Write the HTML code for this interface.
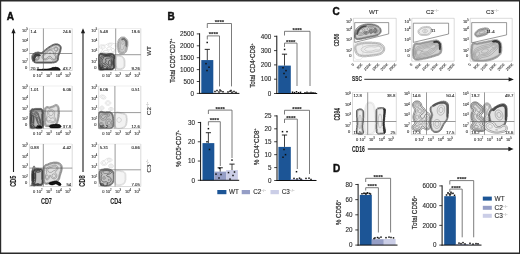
<!DOCTYPE html>
<html><head><meta charset="utf-8"><style>
html,body{margin:0;padding:0;background:#fff;overflow:hidden;}
svg{display:block;font-family:"Liberation Sans", sans-serif;}
text{stroke:#333;stroke-width:0.12;}
</style></head><body>
<svg width="520" height="254" viewBox="0 0 520 254">
<defs><filter id="bl" x="0" y="0" width="520" height="254" filterUnits="userSpaceOnUse"><feGaussianBlur stdDeviation="0.3"/></filter></defs>
<g filter="url(#bl)">
<rect x="0" y="0" width="520" height="254" fill="#fff" stroke="none" stroke-width="1" />
<path d="M52.4,63.0 L51.9,63.1 L36.4,63.1 L35.6,62.9 L35.1,62.9 L33.6,62.1 L33.0,61.5 L32.5,60.5 L31.9,58.5 L31.9,56.2 L32.2,55.2 L32.5,54.8 L33.0,54.2 L33.4,53.6 L34.4,53.0 L35.6,52.4 L36.6,52.3 L37.4,52.1 L38.9,52.1 L39.6,52.4 L40.1,52.4 L40.6,52.6 L41.6,52.6 L42.9,51.8 L44.1,50.5 L44.6,50.2 L45.5,49.2 L47.1,48.2 L47.9,47.5 L50.4,45.9 L51.1,45.6 L51.6,45.2 L53.1,44.5 L54.9,43.9 L57.6,43.9 L60.1,45.2 L60.6,45.8 L61.1,46.8 L61.2,47.2 L61.2,48.8 L61.0,49.5 L60.9,50.2 L60.7,50.8 L60.7,51.2 L59.8,53.5 L59.0,55.2 L58.6,56.8 L58.6,57.5 L58.4,58.0 L58.3,59.8 L57.5,61.2 L56.4,62.1 L55.6,62.4 L54.9,62.7 L54.4,62.7 L53.9,62.9 L52.6,62.9 L52.4,63.0Z" fill="#dadada" stroke="#111" stroke-width="0.6"/>
<path d="M52.1,62.3 L51.9,62.4 L36.4,62.4 L35.9,62.2 L35.4,62.2 L34.1,61.6 L33.5,61.0 L32.9,59.5 L32.9,59.0 L32.7,58.5 L32.7,56.2 L32.9,55.8 L33.0,55.2 L33.5,54.8 L33.9,54.2 L34.2,54.0 L34.6,53.6 L35.9,53.1 L36.9,53.1 L37.4,52.8 L38.9,52.8 L39.4,53.1 L39.9,53.1 L40.4,53.3 L41.9,53.3 L43.4,52.4 L44.6,51.1 L45.1,50.8 L46.1,49.8 L46.4,49.7 L47.1,49.1 L47.6,48.8 L48.4,48.1 L48.6,48.0 L50.6,46.7 L51.5,46.2 L51.9,45.9 L53.4,45.2 L53.9,45.1 L54.4,44.9 L54.6,44.8 L55.1,44.6 L57.4,44.6 L59.6,45.7 L59.9,46.0 L60.5,47.2 L60.5,48.8 L60.3,49.2 L60.2,50.0 L60.0,50.5 L60.0,51.0 L59.7,51.5 L59.6,52.0 L59.2,52.8 L59.1,53.2 L58.3,55.0 L58.0,56.2 L57.8,56.5 L57.8,57.2 L57.6,57.8 L57.6,59.5 L57.0,60.8 L56.1,61.4 L54.6,61.9 L54.1,61.9 L53.6,62.2 L52.4,62.2 L52.1,62.3Z" fill="none" stroke="#111" stroke-width="0.6"/>
<path d="M51.6,61.8 L36.6,61.8 L36.1,61.6 L35.6,61.6 L34.4,60.9 L33.8,60.0 L33.7,59.8 L33.5,59.2 L33.5,58.8 L33.2,58.2 L33.2,56.5 L33.6,55.6 L34.4,54.6 L35.1,54.1 L36.1,53.6 L37.1,53.7 L37.6,53.4 L38.6,53.5 L38.9,53.6 L39.6,53.7 L40.1,54.0 L42.1,53.9 L42.4,53.8 L43.6,53.0 L44.9,51.8 L45.3,51.5 L46.4,50.4 L46.7,50.2 L47.4,49.7 L47.7,49.5 L48.6,48.7 L50.6,47.6 L51.0,47.2 L51.9,46.9 L52.3,46.5 L53.9,45.7 L54.4,45.6 L54.6,45.5 L55.1,45.4 L55.4,45.2 L57.1,45.2 L59.1,46.2 L59.4,46.5 L59.9,47.5 L59.9,48.5 L59.6,49.0 L59.6,49.8 L59.4,50.2 L59.4,50.8 L59.2,51.0 L59.1,51.5 L58.7,52.2 L58.6,52.8 L57.7,54.5 L57.7,55.0 L57.5,55.5 L57.5,55.8 L57.3,56.2 L57.3,57.0 L57.1,57.5 L57.0,59.2 L56.4,60.4 L55.1,61.1 L54.9,61.1 L54.4,61.4 L53.9,61.4 L53.4,61.6 L52.1,61.6 L51.6,61.8Z" fill="none" stroke="#555" stroke-width="0.45"/>
<path d="M54.4,60.0 L53.1,60.1 L52.4,59.9 L51.6,59.4 L50.4,58.3 L49.6,58.0 L48.9,58.2 L47.1,59.4 L46.3,59.8 L45.1,59.9 L44.1,59.8 L43.1,59.3 L42.4,58.5 L42.0,57.5 L42.0,56.5 L42.3,55.8 L42.7,55.2 L44.8,53.5 L46.1,52.3 L46.9,51.4 L48.0,50.5 L49.1,49.7 L50.1,49.3 L51.1,49.0 L52.4,48.9 L52.9,48.7 L54.2,47.5 L55.1,47.0 L55.9,46.8 L56.4,46.9 L57.1,47.1 L57.8,47.8 L58.0,48.2 L58.1,49.2 L57.8,50.2 L57.4,50.9 L56.6,51.4 L55.5,52.0 L55.1,52.5 L55.1,53.0 L55.1,53.5 L56.0,55.2 L56.3,56.8 L56.1,58.4 L55.9,59.0 L55.6,59.5 L55.2,59.8 L54.4,60.0Z" fill="none" stroke="#555" stroke-width="0.45"/>
<path d="M37.4,60.3 L36.9,60.4 L36.1,60.3 L35.6,60.2 L35.1,59.9 L34.5,59.0 L34.2,58.0 L34.2,56.8 L34.5,56.0 L35.4,55.1 L36.4,54.7 L37.4,54.8 L38.1,55.1 L38.6,55.5 L38.9,56.0 L39.3,57.0 L39.3,58.0 L39.0,59.0 L38.4,59.8 L37.9,60.1 L37.4,60.3Z" fill="none" stroke="#555" stroke-width="0.45"/>
<path d="M56.4,50.5 L55.9,50.7 L55.1,50.6 L54.6,50.4 L54.3,50.0 L54.2,49.5 L54.3,48.8 L54.9,48.0 L55.4,47.7 L56.1,47.6 L56.6,47.7 L57.0,48.0 L57.3,48.5 L57.4,49.2 L57.2,49.8 L56.9,50.2 L56.4,50.5Z" fill="none" stroke="#555" stroke-width="0.45"/>
<path d="M54.1,59.3 L53.4,59.2 L52.6,58.8 L52.0,58.2 L51.0,56.8 L50.6,56.5 L49.9,56.3 L49.1,56.4 L48.4,56.7 L46.9,58.2 L46.1,58.7 L45.4,58.9 L44.6,58.9 L43.9,58.5 L43.4,58.0 L43.1,57.2 L43.1,56.5 L43.4,55.8 L43.9,55.3 L46.1,53.6 L47.4,52.0 L48.4,51.1 L49.1,50.6 L49.9,50.3 L50.6,50.2 L51.4,50.3 L52.4,50.7 L52.9,51.2 L53.2,52.0 L53.6,54.0 L53.9,54.5 L55.1,55.7 L55.5,56.5 L55.6,57.8 L55.4,58.5 L54.9,59.0 L54.1,59.3Z" fill="none" stroke="#555" stroke-width="0.45"/>
<path d="M37.4,59.6 L36.9,59.7 L36.4,59.7 L35.6,59.5 L34.9,58.8 L34.6,58.0 L34.6,57.0 L34.9,56.2 L35.4,55.8 L36.1,55.4 L36.9,55.3 L37.6,55.6 L38.1,56.1 L38.4,56.8 L38.5,57.5 L38.4,58.5 L37.9,59.2 L37.4,59.6Z" fill="none" stroke="#555" stroke-width="0.45"/>
<path d="M50.1,53.6 L49.6,53.5 L49.5,53.2 L49.6,52.9 L49.9,52.7 L50.1,52.7 L50.4,52.8 L50.5,53.0 L50.5,53.2 L50.4,53.4 L50.1,53.6Z" fill="none" stroke="#555" stroke-width="0.45"/>
<path d="M36.6,58.8 L36.1,58.7 L35.9,58.5 L35.6,58.2 L35.4,57.8 L35.4,57.2 L35.6,56.8 L35.9,56.5 L36.4,56.2 L36.9,56.3 L37.1,56.4 L37.4,56.8 L37.6,57.2 L37.6,57.8 L37.4,58.2 L37.1,58.6 L36.6,58.8Z" fill="none" stroke="#555" stroke-width="0.45"/>
<path d="M34.6,61.2 L34.1,61.2 L33.4,60.5 L33.4,59.2 L33.2,59.0 L33.2,57.5 L33.4,57.2 L33.4,56.5 L33.7,56.2 L33.7,55.8 L34.2,55.2 L34.2,55.0 L35.1,54.1 L35.4,54.1 L35.6,53.8 L36.6,53.8 L36.9,53.6 L37.6,53.6 L37.9,53.8 L38.6,53.8 L38.9,54.1 L39.1,54.1 L39.6,54.6 L39.9,54.6 L40.5,55.2 L40.5,55.5 L40.4,55.7 L40.1,55.7 L39.9,55.9 L39.1,55.9 L38.9,56.2 L38.6,56.2 L38.4,55.9 L36.6,55.9 L35.8,56.8 L35.8,57.0 L35.5,57.2 L35.5,57.5 L35.3,57.8 L35.3,58.0 L35.0,58.2 L35.0,60.8 L34.6,61.2Z" fill="#444" stroke="#222" stroke-width="0.45"/>
<path d="M60.1,70.3 L59.9,70.3 L59.1,70.3 L37.6,70.3 L37.4,70.3 L37.0,70.2 L37.0,70.0 L37.1,69.8 L37.9,69.4 L41.9,69.4 L42.4,69.1 L47.1,69.1 L47.6,68.9 L49.1,68.9 L49.6,68.6 L50.1,68.6 L51.6,67.9 L51.9,67.9 L52.4,67.6 L52.9,67.6 L53.4,67.4 L54.6,67.4 L55.1,67.1 L55.4,67.1 L55.9,67.4 L57.1,67.4 L57.6,67.6 L57.9,67.6 L59.1,68.2 L59.9,69.0 L60.1,69.5 L60.2,69.8 L60.2,70.2 L60.1,70.3Z" fill="#222" stroke="#111" stroke-width="0.5"/>
<path d="M59.9,70.3 L38.1,70.3 L37.4,70.3 L37.2,70.2 L37.2,70.0 L37.4,69.9 L37.6,69.9 L37.9,69.6 L42.1,69.6 L42.4,69.4 L47.4,69.4 L47.6,69.1 L49.4,69.1 L49.6,68.9 L50.4,68.9 L50.6,68.6 L50.9,68.6 L51.1,68.4 L51.4,68.4 L51.6,68.1 L52.1,68.1 L52.4,67.9 L53.1,67.9 L53.4,67.6 L54.9,67.6 L55.1,67.4 L55.4,67.4 L55.6,67.6 L57.1,67.6 L57.4,67.9 L57.9,67.9 L58.1,68.1 L58.4,68.1 L58.6,68.4 L58.9,68.4 L59.7,69.2 L59.7,69.5 L60.0,69.8 L60.0,70.2 L59.9,70.3Z" fill="none" stroke="#111" stroke-width="0.5"/>
<path d="M59.6,70.3 L37.5,70.2 L38.1,69.9 L42.1,69.9 L42.6,69.6 L47.4,69.6 L47.9,69.4 L49.4,69.4 L49.9,69.1 L50.4,69.1 L51.9,68.4 L52.1,68.4 L52.6,68.1 L53.1,68.1 L53.6,67.9 L54.9,67.9 L55.1,67.7 L55.4,67.7 L55.6,67.9 L56.9,67.9 L57.4,68.1 L57.6,68.1 L58.9,68.7 L59.4,69.2 L59.6,69.8 L59.7,70.2 L59.6,70.3Z" fill="none" stroke="#111" stroke-width="0.5"/>
<path d="M42.1,128.5 L40.6,128.6 L35.4,128.5 L34.4,128.6 L31.9,128.6 L30.6,128.5 L30.4,128.2 L30.0,127.5 L30.0,127.0 L29.8,126.5 L29.7,125.0 L29.6,124.7 L29.6,124.2 L29.6,116.8 L29.6,116.3 L29.7,116.0 L29.7,113.2 L30.0,112.5 L30.0,111.5 L30.4,110.5 L30.8,109.8 L31.1,109.4 L31.9,108.8 L32.6,108.6 L33.6,108.8 L35.4,108.4 L40.9,108.4 L41.9,108.8 L42.8,109.8 L43.2,110.5 L43.2,111.5 L43.5,112.2 L43.5,113.8 L43.2,114.5 L43.2,120.2 L43.5,121.0 L43.5,126.0 L43.2,127.2 L42.1,128.5Z" fill="#b8b8b8" stroke="#2a2a2a" stroke-width="0.5"/>
<path d="M34.1,128.5 L32.6,128.6 L31.4,128.5 L30.9,128.0 L30.7,127.5 L30.6,126.8 L30.3,126.2 L30.3,124.8 L30.1,124.2 L30.1,116.8 L30.3,116.2 L30.3,113.2 L30.6,112.8 L30.6,111.8 L30.8,111.2 L30.9,110.8 L31.1,110.2 L31.6,109.8 L32.4,109.4 L33.9,109.4 L34.4,109.2 L34.9,109.2 L35.4,109.0 L40.9,109.0 L41.1,109.1 L41.6,109.3 L42.3,110.0 L42.6,110.8 L42.6,111.8 L42.8,112.2 L42.8,113.8 L42.6,114.2 L42.6,120.5 L42.8,121.0 L42.9,126.0 L42.7,126.5 L42.6,127.0 L41.6,128.0 L40.6,128.3 L38.6,128.3 L38.1,128.0 L35.1,128.0 L34.1,128.5Z" fill="none" stroke="#2a2a2a" stroke-width="0.5"/>
<path d="M33.4,128.4 L31.9,128.4 L31.2,127.8 L31.2,127.5 L31.0,127.2 L31.0,126.5 L30.7,126.2 L30.7,124.5 L30.5,124.2 L30.5,116.8 L30.7,116.5 L30.7,113.2 L31.0,113.0 L31.0,111.8 L31.2,111.5 L31.2,111.0 L31.4,110.8 L31.4,110.5 L31.9,110.1 L32.1,110.1 L32.4,109.8 L34.1,109.9 L34.4,109.6 L35.1,109.6 L35.4,109.4 L40.9,109.4 L41.1,109.6 L41.4,109.6 L42.0,110.2 L42.0,110.5 L42.2,110.8 L42.2,112.0 L42.5,112.2 L42.5,113.8 L42.2,114.0 L42.2,119.8 L42.2,120.8 L42.5,121.0 L42.5,126.0 L42.3,126.2 L42.3,126.8 L41.4,127.7 L40.9,127.7 L40.6,127.9 L38.6,127.9 L38.4,127.6 L34.9,127.6 L34.6,127.9 L34.4,127.9 L34.1,128.1 L33.6,128.1 L33.4,128.4Z" fill="none" stroke="#2a2a2a" stroke-width="0.5"/>
<path d="M33.1,128.0 L32.1,128.0 L31.6,127.5 L31.4,127.0 L31.3,126.2 L31.2,126.0 L31.1,124.5 L30.9,124.0 L30.9,117.0 L31.1,116.5 L31.1,113.5 L31.3,113.0 L31.4,112.0 L31.5,111.8 L31.6,111.2 L32.1,110.5 L32.6,110.2 L34.1,110.3 L34.6,110.1 L35.1,110.1 L35.6,109.9 L35.9,109.9 L40.6,109.9 L41.4,110.4 L41.7,111.0 L41.7,112.0 L42.0,112.8 L41.9,113.5 L41.7,114.0 L41.8,120.8 L42.0,121.5 L42.1,125.0 L42.1,125.8 L41.9,126.0 L41.9,126.5 L41.2,127.2 L40.6,127.3 L40.4,127.5 L38.9,127.4 L38.4,127.1 L34.9,127.1 L34.6,127.2 L33.9,127.7 L33.4,127.8 L33.1,128.0Z" fill="none" stroke="#2a2a2a" stroke-width="0.5"/>
<path d="M32.9,126.7 L32.6,126.7 L32.1,125.8 L31.7,123.8 L31.5,121.5 L31.5,119.0 L31.5,117.2 L31.8,113.8 L32.2,112.2 L32.6,111.5 L32.9,111.4 L33.1,111.5 L33.9,112.2 L34.1,112.3 L35.6,111.8 L36.6,111.9 L37.6,112.4 L38.2,113.0 L38.5,113.8 L38.9,115.8 L40.0,118.5 L40.5,120.0 L41.0,122.0 L41.2,124.2 L41.0,125.5 L40.9,125.9 L40.6,126.1 L39.9,126.1 L39.4,125.8 L39.0,125.2 L38.0,123.8 L37.0,121.5 L35.4,116.8 L34.9,116.1 L34.6,115.9 L34.4,116.0 L34.1,116.9 L34.0,121.2 L33.8,124.2 L33.4,126.0 L32.9,126.7Z" fill="none" stroke="#2a2a2a" stroke-width="0.5"/>
<path d="M40.4,124.5 L40.1,124.7 L39.6,124.6 L39.1,124.1 L38.4,123.0 L37.7,121.8 L37.0,120.0 L36.1,116.5 L35.8,116.0 L34.5,114.5 L34.4,114.0 L34.5,113.5 L34.9,113.0 L35.4,112.7 L35.9,112.6 L36.6,112.7 L37.4,113.2 L37.7,113.8 L38.2,116.0 L39.5,118.8 L40.3,121.2 L40.6,123.2 L40.5,124.0 L40.4,124.5Z" fill="none" stroke="#2a2a2a" stroke-width="0.5"/>
<path d="M32.9,124.8 L32.6,124.9 L32.4,124.6 L32.0,123.5 L31.8,121.5 L31.7,119.0 L31.7,117.2 L32.1,114.1 L32.4,113.4 L32.6,113.0 L32.9,112.9 L33.1,113.1 L33.4,113.5 L33.7,114.0 L33.7,114.5 L33.6,115.8 L33.7,119.2 L33.6,121.8 L33.3,123.8 L32.9,124.8Z" fill="none" stroke="#2a2a2a" stroke-width="0.5"/>
<path d="M36.9,115.3 L36.6,115.4 L36.1,115.1 L35.5,114.5 L35.4,114.0 L35.4,113.8 L35.7,113.5 L36.1,113.4 L36.4,113.4 L36.9,113.8 L37.1,114.5 L37.1,115.0 L36.9,115.3Z" fill="none" stroke="#2a2a2a" stroke-width="0.5"/>
<path d="M32.6,122.9 L32.4,122.6 L32.1,121.4 L32.0,119.0 L32.1,116.9 L32.4,115.4 L32.6,114.9 L32.9,115.0 L33.1,115.9 L33.3,119.0 L33.1,121.9 L32.9,122.7 L32.6,122.9Z" fill="none" stroke="#2a2a2a" stroke-width="0.5"/>
<path d="M39.6,122.8 L39.4,122.8 L38.9,122.4 L38.4,121.7 L37.9,120.6 L37.5,119.5 L37.3,118.5 L37.2,117.8 L37.4,117.1 L37.6,117.1 L38.1,117.5 L38.6,118.2 L39.1,119.3 L39.5,120.5 L39.7,121.5 L39.8,122.2 L39.6,122.8Z" fill="none" stroke="#2a2a2a" stroke-width="0.5"/>
<path d="M52.9,126.6 L46.1,126.6 L45.6,126.5 L45.4,126.3 L44.9,125.8 L44.5,124.8 L44.5,123.2 L44.2,122.5 L44.2,118.5 L43.9,117.8 L44.0,113.0 L44.2,112.2 L44.2,109.8 L44.5,109.2 L44.5,108.8 L44.9,107.8 L45.4,107.2 L46.1,106.8 L46.6,106.6 L47.9,106.6 L48.6,106.8 L49.4,106.9 L50.1,106.8 L52.9,105.9 L55.6,104.4 L56.1,104.4 L57.6,105.0 L58.2,105.5 L58.8,106.8 L59.0,107.5 L59.2,108.0 L59.2,110.2 L59.4,110.8 L59.5,112.2 L59.5,114.0 L59.2,114.8 L59.2,116.8 L59.0,117.2 L58.9,118.0 L58.7,118.5 L58.7,119.0 L58.5,119.5 L58.5,120.0 L58.0,121.2 L58.0,121.8 L57.5,123.0 L57.5,123.5 L56.8,124.8 L56.1,125.6 L55.4,126.0 L54.4,126.3 L53.4,126.4 L52.9,126.6Z" fill="#e2e2e2" stroke="#555" stroke-width="0.5"/>
<path d="M52.6,125.8 L46.1,125.8 L45.6,125.3 L45.5,124.8 L45.3,124.5 L45.3,123.0 L45.0,122.5 L45.0,118.2 L44.8,117.8 L44.8,113.0 L45.0,112.5 L45.1,110.0 L45.2,109.8 L45.3,109.0 L45.5,108.8 L45.6,108.2 L46.0,107.8 L46.4,107.7 L46.6,107.5 L47.9,107.4 L48.4,107.7 L48.9,107.7 L49.4,107.9 L49.6,107.9 L50.9,107.4 L51.1,107.4 L51.6,107.2 L52.1,107.1 L52.9,106.7 L53.4,106.6 L54.0,106.2 L54.4,106.2 L54.8,105.8 L55.1,105.7 L55.9,105.2 L56.1,105.4 L56.6,105.5 L56.9,105.7 L57.2,105.8 L57.6,106.2 L57.7,106.5 L58.1,107.2 L58.2,108.0 L58.4,108.2 L58.4,110.5 L58.4,110.8 L58.6,111.0 L58.6,112.2 L58.6,114.0 L58.4,114.2 L58.4,114.5 L58.4,116.5 L58.2,116.8 L58.1,117.8 L57.9,118.2 L57.9,118.8 L57.7,119.2 L57.7,119.8 L57.2,121.0 L57.2,121.5 L56.7,122.8 L56.7,123.2 L56.1,124.4 L55.5,125.0 L55.1,125.1 L54.9,125.3 L54.4,125.4 L54.1,125.5 L52.9,125.6 L52.6,125.8Z" fill="none" stroke="#555" stroke-width="0.5"/>
<path d="M52.4,125.1 L46.6,125.1 L46.4,125.1 L46.3,125.0 L46.2,124.5 L46.0,124.2 L45.9,122.8 L45.7,122.2 L45.5,118.0 L45.3,117.5 L45.4,113.2 L45.6,112.8 L45.7,110.2 L45.9,110.0 L46.0,109.2 L46.1,109.0 L46.2,108.5 L46.9,108.1 L47.6,108.1 L47.9,108.3 L48.6,108.3 L49.1,108.5 L49.9,108.5 L50.4,108.2 L50.9,108.2 L51.1,108.0 L52.4,107.7 L53.1,107.4 L53.6,107.3 L54.6,106.8 L55.1,106.4 L55.6,106.2 L55.9,106.1 L56.4,106.2 L56.9,106.5 L57.4,107.5 L57.5,108.0 L57.7,108.8 L57.7,110.8 L58.0,111.5 L58.0,113.5 L57.7,114.2 L57.7,116.2 L57.5,116.8 L57.5,117.5 L57.3,117.8 L57.3,118.5 L57.1,119.0 L57.1,119.5 L56.9,119.8 L56.8,120.2 L56.6,120.8 L56.6,121.2 L56.4,121.5 L56.3,122.0 L56.1,122.5 L56.0,123.0 L55.4,124.2 L54.6,124.6 L54.1,124.7 L53.9,124.9 L52.9,124.9 L52.4,125.1Z" fill="none" stroke="#777" stroke-width="0.45"/>
<path d="M53.9,122.8 L53.1,122.9 L52.4,122.9 L51.6,122.7 L50.1,122.0 L48.4,122.1 L47.9,122.0 L47.1,121.6 L46.6,120.8 L46.3,119.2 L46.4,117.2 L47.2,115.0 L47.5,112.0 L47.8,111.2 L48.1,110.7 L48.7,110.2 L49.4,109.9 L50.9,109.6 L51.4,109.5 L52.6,109.7 L53.1,110.0 L53.7,110.5 L54.1,111.0 L54.5,111.8 L54.7,112.5 L54.7,113.2 L54.2,116.0 L54.4,116.8 L55.4,118.2 L55.6,119.0 L55.7,119.8 L55.5,120.8 L55.1,121.7 L54.6,122.3 L53.9,122.8Z" fill="none" stroke="#777" stroke-width="0.45"/>
<path d="M51.4,115.6 L50.4,115.6 L49.6,115.4 L49.1,114.8 L48.9,114.2 L48.7,113.5 L48.8,112.5 L49.1,111.8 L49.9,111.1 L50.9,110.8 L51.6,110.8 L52.4,111.2 L53.0,112.0 L53.2,112.8 L53.2,113.8 L52.8,114.5 L52.1,115.2 L51.4,115.6Z" fill="none" stroke="#777" stroke-width="0.45"/>
<path d="M53.4,121.8 L52.9,121.8 L52.1,121.6 L51.5,121.2 L50.6,120.4 L50.4,120.3 L49.9,120.4 L48.6,120.9 L48.1,120.9 L47.6,120.8 L47.1,120.2 L46.8,119.2 L46.9,118.2 L47.1,117.5 L47.4,117.1 L48.1,116.6 L48.9,116.4 L49.4,116.8 L50.1,118.0 L50.4,118.3 L50.6,118.5 L51.1,118.4 L52.1,117.9 L52.6,117.8 L53.4,117.9 L53.9,118.2 L54.4,118.7 L54.6,119.1 L54.8,119.8 L54.7,120.2 L54.6,120.8 L54.3,121.2 L53.9,121.6 L53.4,121.8Z" fill="none" stroke="#777" stroke-width="0.45"/>
<path d="M58.4,128.0 L51.4,128.0 L50.9,127.8 L50.4,127.7 L49.5,127.0 L49.3,126.5 L49.4,126.0 L49.9,125.4 L50.6,125.0 L51.4,124.8 L52.1,124.7 L52.9,124.5 L54.4,124.5 L55.1,124.2 L56.6,124.2 L57.4,124.5 L58.9,124.5 L59.6,124.8 L60.4,125.2 L60.9,125.8 L61.1,126.0 L61.1,126.5 L60.9,127.0 L60.4,127.5 L59.9,127.7 L59.1,127.8 L58.4,128.0Z" fill="#333" stroke="#111" stroke-width="0.6"/>
<path d="M41.1,128.5 L38.4,128.6 L36.6,128.5 L36.4,128.2 L36.3,128.0 L36.4,127.0 L36.6,126.7 L38.4,125.8 L40.4,125.8 L41.4,126.2 L41.8,126.8 L41.8,128.0 L41.6,128.3 L41.1,128.5Z" fill="#333" stroke="#111" stroke-width="0.6"/>
<path d="M58.4,127.6 L51.6,127.6 L51.4,127.4 L50.5,127.2 L49.9,126.6 L49.8,126.2 L50.2,125.8 L50.9,125.4 L51.4,125.4 L51.6,125.2 L52.4,125.2 L52.9,124.9 L54.6,124.9 L55.1,124.7 L56.6,124.7 L57.1,124.9 L58.6,124.9 L58.9,125.1 L59.4,125.2 L60.0,125.5 L60.6,126.1 L60.7,126.5 L60.2,127.0 L59.6,127.3 L58.9,127.3 L58.4,127.6Z" fill="none" stroke="#111" stroke-width="0.6"/>
<path d="M38.4,128.5 L37.9,128.3 L37.1,128.3 L36.9,128.1 L36.8,127.2 L37.0,127.0 L38.6,126.2 L40.1,126.2 L40.4,126.4 L41.0,126.5 L41.4,126.9 L41.4,127.8 L41.2,128.0 L40.6,128.3 L38.9,128.3 L38.4,128.5Z" fill="none" stroke="#111" stroke-width="0.6"/>
<path d="M58.4,127.4 L51.6,127.4 L51.4,127.1 L50.6,127.1 L50.0,126.5 L50.0,126.2 L50.4,125.9 L50.6,125.9 L50.9,125.6 L51.4,125.6 L51.6,125.4 L52.6,125.4 L52.9,125.1 L54.9,125.1 L55.1,124.9 L56.6,124.9 L56.9,125.1 L58.6,125.1 L58.9,125.4 L59.4,125.4 L59.6,125.6 L59.9,125.6 L60.5,126.2 L60.5,126.5 L60.1,126.9 L59.9,126.9 L59.6,127.1 L58.6,127.1 L58.4,127.4Z" fill="none" stroke="#111" stroke-width="0.6"/>
<path d="M38.4,128.4 L38.1,128.1 L37.1,128.1 L37.0,128.0 L37.0,127.2 L37.1,127.1 L37.4,127.1 L37.6,126.9 L37.9,126.9 L38.1,126.6 L38.4,126.6 L38.6,126.4 L40.1,126.4 L40.4,126.6 L40.9,126.6 L41.2,127.0 L41.2,127.8 L41.1,127.9 L40.9,127.9 L40.6,128.1 L38.6,128.1 L38.4,128.4Z" fill="none" stroke="#111" stroke-width="0.6"/>
<path d="M58.4,127.1 L58.1,127.2 L51.9,127.2 L51.4,126.9 L50.6,126.9 L50.2,126.5 L50.2,126.2 L50.9,125.9 L51.4,125.8 L51.9,125.6 L52.6,125.6 L53.1,125.3 L54.9,125.3 L55.4,125.1 L56.4,125.1 L56.9,125.3 L58.4,125.3 L59.9,125.9 L60.2,126.2 L60.2,126.5 L59.6,126.9 L58.6,126.9 L58.4,127.1Z" fill="none" stroke="#111" stroke-width="0.6"/>
<path d="M38.4,128.1 L38.1,127.9 L37.4,127.9 L37.2,127.8 L37.2,127.5 L37.6,127.1 L38.9,126.6 L39.9,126.6 L40.4,126.8 L40.9,126.9 L41.0,127.0 L41.0,127.5 L40.6,127.9 L38.6,127.9 L38.4,128.1Z" fill="none" stroke="#111" stroke-width="0.6"/>
<path d="M58.4,126.5 L57.9,126.7 L52.1,126.7 L51.5,126.5 L51.5,126.2 L52.1,126.0 L52.9,126.0 L53.4,125.8 L54.9,125.8 L55.6,125.5 L56.1,125.5 L56.9,125.8 L58.1,125.8 L59.4,126.2 L59.1,126.5 L58.4,126.5Z" fill="none" stroke="#111" stroke-width="0.6"/>
<path d="M40.1,127.4 L39.9,127.5 L38.9,127.5 L38.6,127.4 L38.5,127.2 L39.1,127.0 L39.6,127.0 L40.2,127.2 L40.1,127.4Z" fill="none" stroke="#111" stroke-width="0.6"/>
<path d="M38.4,127.5 L38.2,127.5 L38.4,127.4 L38.5,127.5 L38.4,127.5Z" fill="none" stroke="#111" stroke-width="0.6"/>
<path d="M34.1,186.3 L33.6,186.2 L32.9,185.2 L32.5,184.5 L31.9,182.8 L31.9,181.5 L31.7,180.8 L31.6,176.0 L31.6,173.5 L31.8,173.0 L31.8,171.2 L32.1,170.2 L33.4,166.6 L33.6,166.2 L33.9,166.0 L34.1,166.0 L34.4,166.1 L34.6,166.5 L35.1,167.8 L35.6,168.3 L38.9,168.4 L39.6,168.6 L41.4,168.7 L42.4,169.2 L42.9,169.7 L43.3,171.0 L43.2,179.0 L43.5,179.8 L43.4,183.0 L43.2,183.5 L43.1,184.2 L42.4,185.1 L41.6,185.5 L41.1,185.6 L37.9,185.6 L37.1,185.4 L35.9,185.4 L35.1,185.7 L34.1,186.3Z" fill="#c4c4c4" stroke="#222" stroke-width="0.55"/>
<path d="M34.6,185.0 L34.1,185.1 L33.9,184.9 L33.4,184.6 L33.1,184.2 L32.5,182.8 L32.4,181.2 L32.2,180.8 L32.2,173.8 L32.3,173.0 L32.4,171.2 L32.7,170.2 L33.4,169.2 L33.9,168.7 L34.1,168.7 L34.9,168.9 L35.9,169.1 L36.4,169.0 L38.9,169.0 L39.4,169.2 L41.4,169.3 L41.9,169.5 L42.3,170.0 L42.4,170.5 L42.7,171.0 L42.6,179.2 L42.8,179.8 L42.8,182.8 L42.6,183.2 L42.5,184.0 L41.9,184.7 L41.1,185.0 L37.9,185.0 L37.4,184.7 L37.1,184.7 L35.9,184.8 L34.6,185.0Z" fill="none" stroke="#222" stroke-width="0.55"/>
<path d="M41.1,184.6 L37.9,184.6 L37.6,184.4 L34.4,184.5 L34.1,184.3 L33.8,184.2 L33.4,183.8 L33.3,183.5 L33.1,183.2 L33.1,182.8 L32.9,182.5 L32.8,181.0 L32.6,180.8 L32.6,173.8 L32.7,173.2 L32.8,171.5 L33.1,170.5 L33.6,169.8 L34.1,169.5 L35.1,169.7 L35.4,169.5 L36.1,169.6 L36.4,169.3 L38.9,169.3 L39.1,169.6 L41.1,169.6 L41.4,169.9 L41.6,169.9 L42.0,170.2 L42.0,170.8 L42.3,171.0 L42.2,179.5 L42.5,179.8 L42.5,182.8 L42.2,183.0 L42.2,183.8 L41.6,184.4 L41.4,184.4 L41.1,184.6Z" fill="none" stroke="#222" stroke-width="0.55"/>
<path d="M40.9,184.1 L38.4,184.1 L37.6,183.9 L36.9,183.9 L35.9,183.9 L34.4,184.2 L34.1,184.0 L33.9,184.0 L33.6,183.8 L33.6,183.5 L33.4,183.2 L33.3,182.8 L33.1,182.5 L33.1,181.0 L32.8,180.8 L32.8,173.8 L33.0,173.5 L33.0,171.5 L33.2,171.2 L33.3,170.8 L33.9,170.1 L34.1,170.1 L34.4,169.9 L35.1,170.0 L35.4,169.9 L36.1,169.9 L36.6,169.7 L38.6,169.7 L39.1,169.9 L40.9,170.0 L41.4,170.3 L41.6,170.5 L41.7,171.0 L41.8,171.2 L41.7,173.0 L41.7,179.5 L42.0,180.2 L42.0,182.2 L41.7,183.0 L41.7,183.5 L41.5,183.8 L40.9,184.1Z" fill="none" stroke="#222" stroke-width="0.55"/>
<path d="M34.6,183.3 L34.4,183.3 L34.1,183.1 L33.6,182.2 L33.4,181.0 L33.2,180.2 L33.1,177.2 L33.1,174.0 L33.3,173.5 L33.3,171.8 L33.6,171.0 L34.0,170.5 L34.6,170.3 L35.4,170.6 L36.4,170.5 L37.1,170.3 L38.4,170.2 L40.4,170.8 L40.7,171.0 L40.6,171.5 L40.4,171.8 L39.9,172.0 L38.4,172.3 L36.4,172.2 L36.1,172.3 L35.9,172.6 L35.8,173.2 L35.8,178.2 L35.5,181.5 L35.2,182.8 L34.9,183.2 L34.6,183.3Z" fill="none" stroke="#222" stroke-width="0.55"/>
<path d="M34.4,182.5 L34.1,182.4 L33.8,182.0 L33.4,180.2 L33.3,178.5 L33.2,174.2 L33.4,173.5 L33.5,171.8 L33.8,171.0 L34.1,170.7 L34.6,170.6 L35.9,171.2 L36.9,170.6 L37.5,170.5 L38.4,170.5 L39.2,170.8 L39.6,171.0 L39.7,171.2 L39.4,171.5 L39.1,171.6 L38.4,171.8 L37.6,171.8 L35.9,171.3 L35.6,171.6 L35.4,172.0 L35.3,172.8 L35.4,176.5 L35.2,179.8 L34.9,181.9 L34.6,182.4 L34.4,182.5Z" fill="none" stroke="#222" stroke-width="0.55"/>
<path d="M34.4,181.0 L34.1,181.0 L33.7,180.2 L33.6,180.0 L33.4,178.0 L33.3,176.0 L33.4,174.2 L33.6,173.5 L33.7,172.0 L34.1,171.1 L34.4,171.0 L34.8,171.2 L34.9,171.5 L35.0,176.0 L34.9,179.4 L34.6,180.5 L34.4,181.0Z" fill="none" stroke="#222" stroke-width="0.55"/>
<path d="M34.1,179.2 L33.8,178.5 L33.6,176.0 L33.7,174.2 L34.1,173.2 L34.4,173.4 L34.6,174.2 L34.7,176.0 L34.5,178.2 L34.4,178.9 L34.1,179.2Z" fill="none" stroke="#222" stroke-width="0.55"/>
<path d="M47.1,184.3 L45.6,184.3 L44.6,183.8 L43.9,183.0 L43.3,181.5 L43.2,180.2 L43.0,179.5 L43.0,171.2 L43.2,170.5 L43.2,168.2 L43.4,167.8 L43.5,167.0 L43.8,166.0 L44.9,164.9 L45.6,164.5 L45.9,164.4 L46.6,164.3 L47.4,164.1 L49.4,163.1 L50.9,162.6 L51.4,162.6 L51.9,162.4 L52.9,162.4 L53.6,162.1 L57.1,162.1 L57.9,162.4 L58.4,162.4 L60.1,163.3 L61.4,164.5 L61.9,165.5 L62.2,166.5 L62.2,169.5 L62.0,170.2 L61.9,171.0 L60.5,175.2 L60.4,175.8 L60.2,176.2 L60.2,176.8 L60.0,177.2 L59.9,178.0 L59.5,179.0 L59.3,179.5 L57.9,181.1 L55.9,182.1 L53.6,182.8 L53.1,182.9 L52.6,183.1 L52.1,183.1 L51.6,183.3 L50.6,183.4 L50.1,183.6 L49.6,183.6 L49.1,183.8 L48.6,183.9 L47.1,184.3Z" fill="#dedede" stroke="#444" stroke-width="0.5"/>
<path d="M46.9,183.5 L45.9,183.5 L45.6,183.3 L45.3,183.2 L44.6,182.6 L44.5,182.2 L44.3,182.0 L44.3,181.5 L44.1,181.2 L44.0,180.0 L43.8,179.5 L43.8,171.2 L44.0,170.8 L44.0,168.5 L44.3,168.0 L44.3,167.2 L44.5,167.0 L44.6,166.4 L45.5,165.5 L46.1,165.2 L46.9,165.2 L47.4,164.9 L47.6,164.9 L49.6,163.9 L49.9,163.9 L50.4,163.7 L50.9,163.6 L51.1,163.4 L51.6,163.4 L52.1,163.2 L53.1,163.2 L53.6,162.9 L57.1,163.0 L57.4,163.1 L58.1,163.2 L58.9,163.7 L59.2,163.8 L59.4,163.9 L59.7,164.0 L60.9,165.2 L60.9,165.5 L61.1,165.8 L61.2,166.2 L61.4,166.5 L61.4,169.5 L61.2,169.8 L61.1,170.8 L60.9,171.0 L60.9,171.5 L60.7,171.8 L60.6,172.2 L60.4,172.5 L60.4,173.0 L60.2,173.2 L60.1,173.8 L59.9,174.0 L59.9,174.5 L59.7,174.8 L59.6,175.5 L59.5,175.8 L59.4,176.5 L59.2,177.0 L59.1,177.8 L58.7,178.5 L58.6,179.1 L57.2,180.5 L55.6,181.3 L55.1,181.4 L54.9,181.5 L54.4,181.6 L54.1,181.8 L53.6,181.8 L53.4,182.0 L52.9,182.0 L52.6,182.1 L52.4,182.3 L51.6,182.3 L51.4,182.5 L50.1,182.6 L49.9,182.8 L49.1,182.8 L48.9,183.0 L48.4,183.0 L48.1,183.1 L47.9,183.3 L47.1,183.3 L46.9,183.5Z" fill="none" stroke="#444" stroke-width="0.5"/>
<path d="M46.6,182.9 L46.1,182.9 L45.4,182.5 L45.2,182.2 L45.0,181.8 L44.9,181.2 L44.7,181.0 L44.6,179.8 L44.4,179.2 L44.3,176.8 L44.4,171.5 L44.7,171.0 L44.7,168.8 L44.9,168.2 L44.9,167.5 L45.4,166.5 L45.9,166.1 L46.4,165.8 L47.1,165.8 L47.6,165.5 L48.1,165.4 L49.9,164.6 L50.4,164.5 L51.4,164.1 L52.1,164.0 L52.4,163.8 L53.4,163.8 L53.9,163.6 L56.9,163.6 L57.4,163.8 L57.9,163.9 L59.5,164.8 L60.2,165.5 L60.5,166.0 L60.5,166.5 L60.7,166.8 L60.7,169.2 L60.5,169.8 L60.5,170.5 L60.3,170.8 L60.2,171.2 L60.0,171.5 L60.0,172.0 L59.8,172.2 L59.5,173.5 L59.3,173.8 L59.2,174.2 L59.1,174.5 L59.0,175.2 L58.8,175.8 L58.8,176.2 L58.5,176.8 L58.5,177.5 L58.1,178.2 L58.0,178.8 L57.9,179.0 L56.9,179.9 L55.4,180.6 L54.1,181.0 L53.9,181.1 L53.4,181.2 L53.1,181.4 L52.4,181.4 L52.1,181.6 L51.4,181.7 L51.1,181.8 L50.1,181.9 L49.6,182.1 L48.9,182.2 L48.6,182.4 L47.9,182.4 L47.6,182.6 L46.9,182.7 L46.6,182.9Z" fill="none" stroke="#666" stroke-width="0.45"/>
<path d="M47.6,179.9 L46.9,179.9 L46.1,179.6 L45.5,178.8 L45.3,178.2 L45.2,177.2 L45.3,176.0 L45.6,175.0 L46.7,173.0 L46.7,172.5 L46.4,170.8 L46.4,169.8 L46.5,169.0 L46.9,168.0 L47.7,167.2 L48.9,166.7 L49.9,166.3 L51.6,165.9 L53.6,165.3 L54.4,165.1 L55.1,165.1 L56.0,165.2 L56.6,165.5 L57.2,166.0 L57.6,166.5 L57.9,167.2 L58.0,168.0 L57.8,169.0 L57.5,169.8 L56.9,170.5 L55.3,171.8 L55.1,172.2 L55.3,172.8 L56.5,174.2 L56.8,175.2 L56.9,175.8 L56.8,176.5 L56.7,177.0 L56.4,177.7 L55.8,178.2 L54.9,178.8 L53.9,178.9 L52.9,178.7 L52.1,178.3 L51.5,177.8 L51.0,177.0 L50.4,175.5 L50.1,175.2 L49.9,175.1 L49.5,177.2 L49.1,178.2 L48.5,179.2 L48.1,179.6 L47.6,179.9Z" fill="none" stroke="#666" stroke-width="0.45"/>
<path d="M51.4,172.3 L50.6,172.4 L49.6,172.4 L48.9,172.1 L48.4,171.7 L47.9,170.8 L47.7,170.0 L47.9,169.2 L48.3,168.5 L48.9,168.0 L49.4,167.8 L51.9,167.2 L53.4,166.4 L54.1,166.2 L55.1,166.1 L55.6,166.2 L56.1,166.5 L56.6,167.0 L56.8,167.8 L56.8,168.5 L56.4,169.4 L55.9,169.8 L55.4,170.1 L53.2,171.0 L51.9,172.0 L51.4,172.3Z" fill="none" stroke="#666" stroke-width="0.45"/>
<path d="M54.4,177.8 L53.6,177.8 L53.1,177.6 L52.6,177.2 L52.2,176.5 L52.0,175.8 L52.1,175.0 L52.5,174.2 L53.1,173.9 L53.9,173.9 L54.8,174.2 L55.4,174.8 L55.7,175.5 L55.8,176.2 L55.5,177.0 L55.0,177.5 L54.4,177.8Z" fill="none" stroke="#666" stroke-width="0.45"/>
<path d="M47.1,178.8 L46.6,178.7 L46.1,178.2 L45.9,177.7 L45.8,177.0 L45.8,176.2 L46.1,175.7 L46.6,175.1 L47.1,175.0 L47.6,175.1 L48.1,175.5 L48.3,176.0 L48.4,176.8 L48.4,177.5 L48.1,178.1 L47.6,178.6 L47.1,178.8Z" fill="none" stroke="#666" stroke-width="0.45"/>
<path d="M60.6,185.4 L58.6,185.4 L58.2,185.0 L57.4,184.6 L56.9,184.2 L55.9,183.9 L55.4,184.0 L55.1,184.1 L53.9,184.5 L53.6,184.6 L52.9,184.7 L52.6,184.9 L51.6,184.9 L51.1,184.7 L50.1,184.6 L49.6,184.4 L49.1,183.9 L48.9,183.5 L49.1,183.1 L49.6,182.6 L50.1,182.4 L50.6,182.3 L50.9,182.1 L51.4,182.0 L51.6,181.9 L52.4,181.8 L52.9,181.6 L53.6,181.5 L54.1,181.3 L56.6,181.3 L57.1,181.5 L57.9,181.6 L58.1,181.8 L58.6,181.9 L59.1,182.1 L59.8,182.8 L60.4,183.1 L60.6,183.6 L61.0,184.0 L61.0,184.2 L61.0,185.0 L60.6,185.4Z" fill="#333" stroke="#111" stroke-width="0.55"/>
<path d="M60.4,185.0 L58.9,185.0 L58.4,184.5 L58.1,184.5 L57.9,184.3 L57.6,184.2 L57.1,183.8 L56.6,183.8 L56.4,183.5 L55.1,183.5 L54.9,183.8 L54.4,183.8 L54.1,184.0 L53.6,184.0 L53.4,184.3 L52.6,184.3 L52.4,184.5 L51.6,184.5 L51.4,184.3 L50.4,184.3 L50.1,184.0 L49.8,184.0 L49.3,183.5 L49.8,183.0 L50.1,183.0 L50.4,182.7 L50.9,182.7 L51.1,182.5 L51.6,182.5 L51.9,182.2 L52.6,182.2 L52.9,182.0 L53.9,182.0 L54.1,181.7 L56.6,181.7 L56.9,182.0 L57.6,182.0 L57.9,182.2 L58.4,182.2 L58.6,182.5 L58.9,182.5 L59.6,183.2 L59.9,183.2 L60.1,183.5 L60.1,183.8 L60.6,184.2 L60.6,184.8 L60.4,185.0Z" fill="none" stroke="#111" stroke-width="0.55"/>
<path d="M60.4,184.9 L58.9,184.9 L58.4,184.4 L58.1,184.4 L57.9,184.1 L57.6,184.1 L57.1,183.6 L56.6,183.6 L56.4,183.4 L55.1,183.4 L54.9,183.6 L54.4,183.6 L54.1,183.9 L53.6,183.9 L53.4,184.1 L52.6,184.1 L52.4,184.4 L51.6,184.4 L51.4,184.1 L50.4,184.1 L50.1,183.9 L49.9,183.9 L49.5,183.5 L49.9,183.1 L50.1,183.1 L50.4,182.9 L50.9,182.9 L51.1,182.6 L51.6,182.6 L51.9,182.4 L52.6,182.4 L52.9,182.1 L53.9,182.1 L54.1,181.9 L56.6,181.9 L56.9,182.1 L57.6,182.1 L57.9,182.4 L58.4,182.4 L58.6,182.6 L58.9,182.6 L59.6,183.4 L59.9,183.4 L60.0,183.5 L60.0,183.8 L60.5,184.2 L60.5,184.8 L60.4,184.9Z" fill="none" stroke="#111" stroke-width="0.55"/>
<path d="M60.1,184.7 L58.9,184.7 L58.4,184.2 L58.1,184.2 L57.9,184.0 L57.6,184.0 L57.1,183.5 L56.6,183.5 L56.4,183.2 L55.1,183.2 L54.9,183.5 L54.4,183.5 L54.1,183.7 L53.6,183.7 L53.4,184.0 L52.6,184.0 L52.4,184.2 L51.6,184.2 L51.4,184.0 L50.4,184.0 L50.1,183.8 L49.9,183.7 L49.6,183.5 L49.9,183.3 L50.1,183.2 L50.4,183.0 L50.9,183.0 L51.1,182.8 L51.6,182.8 L51.9,182.5 L52.6,182.5 L52.9,182.3 L53.9,182.3 L54.1,182.0 L56.6,182.0 L56.9,182.3 L57.6,182.3 L57.9,182.5 L58.4,182.5 L58.6,182.8 L58.9,182.8 L60.3,184.2 L60.3,184.5 L60.1,184.7Z" fill="none" stroke="#111" stroke-width="0.55"/>
<path d="M59.6,184.3 L59.1,184.3 L58.6,183.9 L57.8,183.5 L57.4,183.1 L56.9,183.0 L56.4,182.8 L54.9,182.9 L54.6,183.0 L54.1,183.1 L53.9,183.3 L53.4,183.4 L53.1,183.5 L52.4,183.6 L52.1,183.8 L51.9,183.8 L51.4,183.6 L50.5,183.5 L51.1,183.4 L51.4,183.2 L51.9,183.1 L52.1,183.0 L52.9,182.9 L53.1,182.7 L54.1,182.6 L54.4,182.5 L56.1,182.4 L56.4,182.5 L56.6,182.6 L57.4,182.7 L57.6,182.9 L58.1,183.0 L58.6,183.2 L59.5,184.0 L59.7,184.2 L59.6,184.3Z" fill="none" stroke="#111" stroke-width="0.55"/>
<path d="M103.6,70.3 L102.8,70.3 L100.1,70.3 L99.3,70.1 L98.6,69.4 L98.6,68.2 L98.6,64.2 L98.6,56.5 L98.6,54.6 L99.8,53.4 L100.3,53.2 L103.1,53.2 L103.8,53.4 L104.8,53.4 L105.3,53.6 L106.8,53.7 L107.6,53.5 L112.1,53.5 L113.3,53.9 L114.5,55.0 L114.9,56.0 L115.0,56.5 L114.9,59.0 L114.6,59.8 L114.6,64.8 L114.8,65.2 L114.8,66.5 L114.6,67.2 L114.6,68.0 L114.5,68.2 L113.1,69.6 L112.3,69.8 L111.6,70.1 L109.8,70.1 L104.8,70.0 L104.3,70.2 L103.6,70.3Z" fill="#a8a8a8" stroke="#1e1e1e" stroke-width="0.55"/>
<path d="M103.1,69.9 L102.8,70.0 L101.3,70.0 L100.1,69.9 L99.6,69.7 L98.9,69.0 L98.6,68.2 L98.6,65.5 L98.6,58.5 L98.6,56.2 L98.7,55.5 L99.0,55.0 L100.1,53.9 L100.3,53.8 L103.1,53.8 L103.6,54.0 L104.6,54.0 L105.1,54.2 L107.1,54.3 L107.6,54.0 L112.1,54.0 L112.6,54.3 L113.1,54.4 L114.0,55.2 L114.1,55.8 L114.4,56.2 L114.3,59.0 L114.1,59.5 L114.1,65.0 L114.3,65.5 L114.3,66.5 L114.1,67.0 L114.1,67.8 L114.0,68.0 L112.8,69.1 L112.1,69.2 L111.6,69.5 L104.6,69.5 L104.1,69.7 L103.3,69.7 L103.1,69.9Z" fill="none" stroke="#1e1e1e" stroke-width="0.55"/>
<path d="M102.8,69.6 L100.3,69.6 L100.1,69.4 L99.8,69.4 L99.2,68.8 L99.2,68.5 L98.9,68.2 L98.9,67.8 L98.7,67.5 L98.7,66.2 L98.6,66.0 L98.6,65.2 L98.6,58.5 L98.6,58.0 L98.7,57.8 L98.7,56.5 L99.0,56.2 L99.0,55.8 L99.2,55.5 L99.2,55.2 L100.3,54.1 L103.1,54.1 L103.3,54.3 L104.6,54.3 L104.8,54.6 L107.3,54.6 L107.6,54.4 L112.1,54.4 L112.3,54.6 L112.8,54.6 L113.7,55.5 L113.8,56.0 L114.0,56.2 L114.0,59.0 L113.7,59.2 L113.7,59.5 L113.7,65.2 L114.0,65.5 L114.0,66.5 L113.7,66.8 L113.7,67.8 L112.6,68.9 L111.8,68.9 L111.6,69.1 L104.3,69.1 L104.1,69.4 L103.1,69.4 L102.8,69.6Z" fill="none" stroke="#1e1e1e" stroke-width="0.55"/>
<path d="M102.6,69.3 L100.6,69.3 L99.8,68.9 L99.2,68.0 L99.2,67.8 L99.0,67.2 L98.9,66.2 L98.8,66.0 L98.6,65.9 L98.6,58.5 L98.6,58.2 L99.0,58.0 L99.1,56.8 L99.3,56.5 L99.4,56.0 L99.6,55.5 L100.6,54.5 L101.3,54.5 L102.8,54.5 L103.3,54.7 L104.3,54.7 L104.8,54.9 L107.3,54.9 L107.8,54.7 L111.8,54.8 L112.1,54.9 L112.6,55.0 L112.8,55.2 L113.4,55.8 L113.4,56.0 L113.7,56.5 L113.7,56.8 L113.6,58.8 L113.3,59.2 L113.4,65.2 L113.6,65.8 L113.6,66.2 L113.3,66.8 L113.3,67.5 L113.1,67.8 L112.3,68.5 L111.8,68.5 L111.3,68.8 L104.3,68.7 L103.8,69.0 L102.8,69.1 L102.6,69.3Z" fill="none" stroke="#1e1e1e" stroke-width="0.55"/>
<path d="M101.3,68.5 L100.8,68.5 L100.3,68.4 L99.8,67.8 L99.5,67.0 L99.3,66.0 L99.0,65.0 L98.9,64.5 L99.4,62.5 L99.5,60.5 L99.7,59.8 L100.6,57.2 L101.1,56.4 L101.6,56.0 L102.3,55.7 L104.1,55.5 L104.8,55.6 L107.3,55.5 L108.1,55.4 L109.8,55.5 L111.3,55.8 L112.3,56.2 L112.7,56.8 L112.7,57.2 L112.6,57.8 L112.1,58.8 L112.0,59.2 L112.4,61.8 L112.4,64.0 L112.1,66.0 L111.8,66.8 L111.6,67.1 L111.1,67.6 L110.7,67.8 L110.1,67.8 L109.3,67.8 L108.8,67.6 L108.3,67.3 L107.1,66.1 L106.8,66.0 L106.3,65.9 L104.3,66.6 L102.3,68.2 L101.3,68.5Z" fill="none" stroke="#1e1e1e" stroke-width="0.55"/>
<path d="M101.6,68.0 L100.8,68.1 L100.6,68.0 L100.1,67.6 L99.7,66.8 L99.4,65.0 L99.6,64.2 L100.5,63.0 L100.7,62.5 L100.9,60.5 L101.0,59.8 L101.8,57.8 L102.2,57.0 L102.8,56.5 L103.6,56.1 L105.8,55.9 L108.3,55.8 L109.3,55.9 L110.6,56.1 L111.5,56.5 L111.7,56.8 L111.8,57.2 L111.6,57.8 L111.0,58.5 L110.8,59.0 L111.7,61.2 L111.8,62.2 L111.8,63.5 L111.6,65.0 L111.3,65.7 L111.0,66.2 L110.6,66.6 L110.1,66.8 L109.3,66.6 L108.6,65.9 L107.3,64.0 L107.1,63.8 L106.8,63.7 L103.8,65.1 L103.5,65.5 L102.6,67.2 L102.1,67.8 L101.6,68.0Z" fill="none" stroke="#1e1e1e" stroke-width="0.55"/>
<path d="M104.3,63.3 L103.3,63.4 L102.8,63.3 L102.6,63.1 L102.3,62.6 L102.1,61.5 L102.1,60.8 L102.3,60.0 L103.2,58.5 L103.5,57.5 L103.8,57.0 L104.3,56.8 L105.0,56.5 L106.8,56.3 L108.8,56.3 L109.8,56.5 L110.3,56.8 L110.5,57.0 L110.6,57.2 L110.3,57.6 L109.8,57.9 L109.1,58.1 L106.8,58.2 L106.0,58.5 L105.7,58.8 L105.6,59.2 L106.0,60.8 L105.9,61.8 L105.7,62.2 L105.3,62.8 L104.8,63.1 L104.3,63.3Z" fill="none" stroke="#1e1e1e" stroke-width="0.55"/>
<path d="M110.1,65.4 L109.6,65.3 L109.1,64.8 L108.6,63.8 L108.4,62.8 L108.5,61.8 L108.8,61.0 L109.3,60.5 L109.8,60.4 L110.3,60.6 L110.8,61.2 L111.1,62.0 L111.2,62.8 L111.1,63.8 L110.9,64.5 L110.6,65.0 L110.1,65.4Z" fill="none" stroke="#1e1e1e" stroke-width="0.55"/>
<path d="M101.3,67.5 L100.8,67.6 L100.6,67.5 L100.1,67.0 L99.9,66.2 L99.9,65.2 L100.1,64.6 L100.6,64.1 L101.3,63.7 L102.1,63.7 L102.3,63.8 L102.6,64.5 L102.6,65.2 L102.6,66.0 L102.1,67.0 L101.8,67.3 L101.3,67.5Z" fill="none" stroke="#1e1e1e" stroke-width="0.55"/>
<path d="M101.3,66.8 L101.1,66.9 L100.7,66.8 L100.5,66.5 L100.3,66.0 L100.5,65.2 L100.8,64.9 L101.1,64.8 L101.6,64.9 L101.9,65.5 L101.8,66.2 L101.6,66.6 L101.3,66.8Z" fill="none" stroke="#1e1e1e" stroke-width="0.55"/>
<path d="M123.3,53.8 L120.1,53.8 L119.6,53.6 L118.8,52.8 L118.4,52.0 L118.0,51.0 L118.0,50.2 L117.7,49.5 L117.7,48.2 L117.5,47.5 L117.4,43.2 L117.7,42.5 L117.7,41.8 L118.0,40.8 L118.9,39.0 L120.1,37.8 L121.3,37.1 L121.8,37.0 L124.3,37.0 L125.3,37.5 L127.2,39.5 L127.7,40.5 L128.0,42.0 L128.0,45.5 L127.8,46.0 L127.7,47.0 L127.5,47.8 L127.4,48.5 L127.2,49.0 L127.2,49.5 L126.7,51.0 L126.2,52.0 L125.1,53.1 L124.3,53.5 L123.3,53.8Z" fill="#d2d2d2" stroke="#777" stroke-width="0.5"/>
<path d="M123.1,52.9 L120.3,52.9 L119.4,52.0 L119.4,51.8 L119.2,51.5 L119.2,51.0 L118.9,50.8 L118.9,49.8 L118.7,49.5 L118.6,47.8 L118.4,47.5 L118.4,43.2 L118.6,43.0 L118.6,42.0 L118.9,41.8 L118.9,41.2 L119.1,41.0 L119.1,40.8 L119.4,40.5 L119.4,40.2 L119.6,40.0 L119.6,39.8 L120.8,38.5 L121.1,38.5 L121.3,38.3 L121.6,38.3 L121.8,38.0 L124.1,38.0 L124.3,38.3 L124.6,38.3 L126.3,40.0 L126.3,40.2 L126.6,40.5 L126.6,40.8 L126.8,41.0 L126.8,41.8 L127.1,42.0 L127.1,45.2 L126.8,45.5 L126.8,47.0 L126.5,47.2 L126.5,48.2 L126.3,48.5 L126.3,49.2 L126.0,49.5 L126.0,50.0 L125.8,50.2 L125.8,50.8 L125.5,51.0 L125.5,51.2 L124.3,52.4 L124.1,52.4 L123.8,52.7 L123.3,52.7 L123.1,52.9Z" fill="none" stroke="#777" stroke-width="0.5"/>
<path d="M122.6,52.0 L120.8,52.0 L120.3,51.6 L120.1,51.2 L119.8,50.2 L119.7,49.5 L119.5,49.0 L119.4,47.8 L119.2,47.0 L119.2,43.8 L119.4,43.2 L119.4,42.5 L119.7,41.5 L120.4,40.0 L121.1,39.2 L122.1,38.7 L123.6,38.7 L124.3,39.0 L125.1,39.7 L125.6,40.2 L126.1,41.2 L126.2,42.0 L126.4,42.5 L126.3,44.8 L126.0,45.5 L125.9,46.5 L125.7,47.0 L125.6,47.8 L125.4,48.2 L125.4,48.8 L124.6,50.8 L123.9,51.5 L122.6,52.0Z" fill="none" stroke="#888" stroke-width="0.45"/>
<path d="M122.1,50.0 L121.6,49.9 L121.3,49.8 L120.8,49.1 L120.6,48.5 L120.5,47.0 L120.6,45.2 L120.6,42.5 L120.8,41.4 L121.2,40.8 L121.6,40.2 L122.4,39.8 L123.3,39.7 L124.1,40.1 L124.8,40.9 L125.2,41.8 L125.3,42.8 L125.3,43.2 L125.0,44.5 L124.1,46.5 L123.7,48.2 L123.4,49.0 L122.8,49.7 L122.1,50.0Z" fill="none" stroke="#888" stroke-width="0.45"/>
<path d="M123.1,44.4 L122.6,44.5 L122.3,44.3 L122.0,43.8 L121.8,43.0 L121.9,42.2 L122.1,41.8 L122.3,41.4 L122.8,41.1 L123.3,41.2 L123.7,41.5 L124.0,42.0 L124.1,42.5 L124.1,43.0 L123.8,43.6 L123.6,44.0 L123.1,44.4Z" fill="none" stroke="#888" stroke-width="0.45"/>
<path d="M126.3,46.7 L125.7,46.0 L125.7,42.2 L125.4,42.0 L125.4,41.5 L125.2,41.2 L125.2,41.0 L123.8,39.7 L123.3,39.7 L123.1,39.9 L122.3,39.9 L122.1,40.2 L121.7,39.8 L121.7,39.2 L122.1,38.8 L122.6,38.8 L122.8,38.6 L123.3,38.6 L123.6,38.3 L124.3,38.3 L124.6,38.6 L124.8,38.6 L126.3,40.0 L126.3,40.2 L126.5,40.5 L126.5,40.8 L126.8,41.0 L126.8,41.2 L127.0,41.5 L127.0,45.0 L126.8,45.2 L126.8,46.2 L126.3,46.7Z" fill="#777" stroke="#555" stroke-width="0.45"/>
<path d="M121.1,69.6 L118.3,69.6 L117.3,69.3 L117.1,69.2 L116.4,68.5 L115.8,67.2 L115.7,66.5 L115.5,65.8 L115.5,64.0 L115.2,63.2 L115.2,60.0 L115.5,59.2 L115.5,57.8 L115.8,56.8 L116.1,56.0 L116.6,55.5 L117.3,55.2 L119.6,55.2 L121.1,55.7 L122.3,56.3 L124.1,58.0 L124.7,59.5 L124.7,60.0 L125.0,60.8 L125.0,66.0 L124.7,67.0 L124.3,67.8 L123.3,68.7 L122.6,69.1 L121.1,69.6Z" fill="#f2f2f2" stroke="#aaa" stroke-width="0.4"/>
<path d="M120.8,68.8 L118.3,68.8 L118.1,68.5 L117.6,68.5 L117.1,68.0 L117.1,67.8 L116.8,67.5 L116.8,67.2 L116.6,67.0 L116.6,66.0 L116.3,65.8 L116.3,63.5 L116.1,63.2 L116.1,60.0 L116.3,59.8 L116.3,57.8 L116.6,57.5 L116.6,57.0 L116.8,56.8 L116.8,56.5 L117.1,56.2 L117.3,56.2 L117.6,56.0 L119.3,56.0 L119.6,56.2 L120.1,56.2 L120.3,56.5 L120.8,56.5 L121.1,56.7 L121.3,56.7 L121.6,57.0 L121.8,57.0 L123.4,58.5 L123.4,58.8 L123.6,59.0 L123.6,59.5 L123.9,59.8 L123.9,60.5 L124.1,60.8 L124.1,66.0 L123.9,66.2 L123.9,66.8 L123.6,67.0 L123.6,67.2 L122.8,68.0 L122.6,68.0 L122.3,68.3 L121.8,68.3 L121.6,68.5 L121.1,68.5 L120.8,68.8Z" fill="none" stroke="#aaa" stroke-width="0.4"/>
<path d="M107.3,53.3 L105.6,53.4 L104.1,53.2 L102.6,52.8 L101.7,52.2 L101.4,51.8 L101.4,51.2 L101.7,50.8 L102.8,49.8 L102.8,49.5 L102.6,49.2 L100.5,48.2 L99.6,47.5 L99.3,47.0 L99.2,46.5 L99.3,46.0 L99.5,45.8 L100.2,45.2 L101.3,44.9 L102.6,44.9 L104.8,45.1 L105.6,45.0 L108.1,43.6 L109.3,43.2 L110.6,43.1 L112.1,43.1 L114.1,43.7 L116.1,43.7 L116.8,44.1 L117.3,44.5 L117.6,45.0 L117.8,45.5 L117.8,46.2 L117.7,46.8 L117.5,47.2 L117.1,47.7 L115.7,48.8 L115.5,49.2 L115.3,50.5 L115.1,51.2 L114.8,51.8 L114.3,52.4 L113.8,52.7 L113.1,52.9 L112.3,52.9 L111.1,52.7 L110.3,52.6 L107.3,53.3Z" fill="none" stroke="#bdbdbd" stroke-width="0.4"/>
<path d="M110.1,49.8 L110.6,49.1 L111.5,47.5 L111.5,47.2 L111.3,47.1 L110.8,47.0 L110.1,47.0 L108.1,47.3 L107.3,47.8 L106.6,48.8 L106.5,49.0 L106.7,49.2 L108.2,49.8 L109.3,50.0 L109.8,49.9 L110.1,49.8Z" fill="none" stroke="#bdbdbd" stroke-width="0.4"/>
<path d="M110.3,46.0 L109.3,46.1 L108.4,46.0 L107.9,45.8 L107.8,45.5 L107.8,45.2 L108.1,44.8 L108.5,44.5 L109.6,44.0 L110.8,43.9 L111.3,44.0 L111.9,44.2 L112.1,44.5 L112.2,44.8 L111.9,45.2 L111.2,45.8 L110.3,46.0Z" fill="none" stroke="#bdbdbd" stroke-width="0.4"/>
<path d="M116.3,46.8 L115.8,46.9 L115.6,46.9 L115.2,46.5 L115.1,46.2 L115.1,45.7 L115.3,45.2 L115.6,45.1 L116.1,45.1 L116.3,45.2 L116.6,45.5 L116.7,46.2 L116.3,46.8Z" fill="none" stroke="#bdbdbd" stroke-width="0.4"/>
<path d="M104.6,48.0 L104.1,48.1 L103.3,48.2 L102.1,47.9 L101.6,47.6 L101.1,47.2 L100.9,46.8 L101.0,46.5 L101.1,46.2 L101.6,46.0 L102.3,45.8 L103.6,45.9 L104.7,46.2 L105.1,46.5 L105.4,47.0 L105.3,47.5 L105.0,47.8 L104.6,48.0Z" fill="none" stroke="#bdbdbd" stroke-width="0.4"/>
<path d="M113.3,51.6 L112.8,51.7 L112.1,51.6 L111.7,51.2 L111.5,50.8 L111.5,50.0 L111.8,49.2 L112.3,48.6 L112.8,48.4 L113.3,48.4 L113.8,48.7 L114.1,49.0 L114.3,49.5 L114.3,50.2 L114.2,50.8 L113.8,51.3 L113.3,51.6Z" fill="none" stroke="#bdbdbd" stroke-width="0.4"/>
<path d="M106.3,52.5 L105.1,52.4 L104.1,52.2 L103.5,51.8 L103.5,51.5 L103.5,51.2 L103.7,51.0 L104.3,50.7 L105.1,50.5 L105.8,50.4 L106.8,50.5 L107.6,50.7 L108.3,51.0 L108.5,51.2 L108.6,51.5 L108.5,51.8 L108.2,52.0 L107.3,52.4 L106.3,52.5Z" fill="none" stroke="#bdbdbd" stroke-width="0.4"/>
<path d="M111.6,128.5 L109.8,128.6 L101.1,128.6 L99.6,128.6 L98.7,128.5 L98.6,127.8 L98.6,126.0 L98.6,113.8 L98.6,113.0 L98.7,112.5 L99.6,111.6 L100.6,111.3 L101.6,111.2 L102.3,111.5 L103.1,111.5 L103.6,111.7 L104.6,111.8 L105.1,112.0 L106.1,111.7 L110.1,111.8 L111.3,112.4 L112.2,113.2 L113.0,114.8 L113.3,115.8 L113.3,116.2 L113.6,116.8 L113.6,118.0 L113.9,118.8 L113.9,121.2 L114.2,122.0 L114.2,123.0 L113.9,123.8 L113.9,125.5 L113.5,126.5 L112.8,127.7 L112.3,128.2 L111.6,128.5Z" fill="#c2c2c2" stroke="#2a2a2a" stroke-width="0.5"/>
<path d="M103.3,128.5 L101.1,128.6 L100.1,128.6 L99.6,128.5 L99.3,128.2 L98.7,127.0 L98.6,126.0 L98.6,124.0 L98.6,123.2 L98.6,118.2 L98.6,117.2 L98.6,117.0 L98.6,115.0 L98.7,114.5 L98.7,114.0 L99.3,112.8 L99.9,112.2 L100.3,112.1 L100.8,111.9 L101.6,111.9 L102.1,112.1 L102.8,112.1 L103.3,112.4 L104.3,112.4 L104.8,112.6 L105.6,112.6 L106.1,112.4 L109.8,112.4 L111.1,113.0 L111.6,113.5 L112.5,115.2 L112.5,115.5 L112.7,116.0 L112.7,116.5 L113.0,117.0 L113.0,118.2 L113.2,118.8 L113.3,121.5 L113.5,122.0 L113.5,122.5 L113.5,123.0 L113.3,123.5 L113.2,125.2 L113.0,125.8 L113.0,126.0 L112.4,127.2 L112.1,127.5 L110.8,128.2 L110.3,128.2 L109.8,128.4 L103.8,128.4 L103.3,128.5Z" fill="none" stroke="#333" stroke-width="0.5"/>
<path d="M102.1,128.5 L100.2,128.5 L99.7,128.0 L99.6,127.7 L99.3,127.5 L99.3,127.2 L99.1,127.0 L99.0,126.2 L98.8,126.0 L98.8,124.0 L98.6,123.8 L98.6,123.0 L98.6,117.8 L98.6,117.3 L98.9,117.0 L98.9,115.0 L99.1,114.8 L99.2,114.0 L99.8,113.0 L100.1,112.7 L100.6,112.6 L101.1,112.3 L101.3,112.3 L101.8,112.5 L102.8,112.6 L103.1,112.8 L104.3,112.8 L104.6,113.0 L105.8,113.0 L106.1,112.8 L106.3,112.8 L109.6,112.8 L110.8,113.4 L111.2,113.8 L111.5,114.2 L111.9,115.2 L112.0,115.8 L112.3,116.2 L112.3,116.8 L112.5,117.2 L112.5,118.5 L112.8,119.0 L112.8,121.8 L113.1,122.0 L113.1,123.0 L112.9,123.2 L112.8,125.2 L112.6,125.5 L112.5,126.0 L112.3,126.2 L112.0,127.0 L111.3,127.4 L111.1,127.5 L110.8,127.7 L110.1,127.8 L109.8,128.0 L103.6,127.9 L103.1,128.2 L102.6,128.2 L102.3,128.5 L102.1,128.5Z" fill="none" stroke="#555" stroke-width="0.5"/>
<path d="M104.3,120.0 L103.1,120.2 L102.1,120.1 L101.1,119.5 L100.4,118.8 L100.1,118.0 L100.1,116.5 L100.3,115.6 L100.8,114.7 L101.3,114.3 L102.1,114.0 L103.8,113.8 L104.3,113.9 L105.8,113.8 L106.6,113.7 L107.6,113.8 L108.6,113.9 L109.1,114.1 L109.7,114.5 L109.9,115.0 L109.8,115.4 L109.6,115.8 L108.8,116.3 L107.6,116.8 L106.8,117.1 L106.5,117.5 L106.1,118.8 L105.9,119.2 L105.3,119.7 L104.3,120.0Z" fill="none" stroke="#666" stroke-width="0.5"/>
<path d="M109.6,126.6 L109.1,126.7 L108.6,126.6 L107.9,126.5 L107.3,126.2 L106.8,125.9 L106.4,125.2 L105.9,124.0 L105.8,123.2 L105.8,122.2 L106.0,121.2 L106.3,120.2 L106.6,119.8 L106.9,119.5 L108.1,119.1 L109.3,119.0 L110.1,119.3 L110.6,119.6 L111.1,120.2 L111.3,120.6 L111.8,122.5 L111.6,124.5 L111.2,125.5 L110.6,126.1 L109.6,126.6Z" fill="none" stroke="#666" stroke-width="0.5"/>
<path d="M101.6,127.3 L101.1,127.4 L100.3,127.0 L99.8,126.5 L99.4,125.5 L99.4,124.5 L99.7,123.2 L100.1,122.8 L100.6,122.5 L101.6,122.5 L102.3,122.8 L103.1,123.5 L103.5,124.5 L103.5,125.5 L103.1,126.2 L102.6,126.8 L101.6,127.3Z" fill="none" stroke="#666" stroke-width="0.5"/>
<path d="M103.6,118.5 L102.8,118.6 L102.3,118.5 L101.8,118.2 L101.5,117.8 L101.4,117.2 L101.4,116.5 L101.6,116.0 L102.1,115.5 L102.6,115.2 L103.3,114.9 L105.6,114.4 L107.1,114.4 L107.8,114.5 L108.2,114.8 L108.3,115.0 L108.2,115.2 L108.0,115.5 L107.3,115.8 L105.8,116.1 L105.2,116.5 L104.4,118.0 L104.1,118.3 L103.6,118.5Z" fill="none" stroke="#666" stroke-width="0.5"/>
<path d="M109.1,125.0 L108.3,124.9 L107.9,124.5 L107.6,124.0 L107.4,123.2 L107.4,122.5 L107.7,121.8 L108.1,121.2 L108.8,121.0 L109.6,121.1 L110.1,121.5 L110.4,122.0 L110.6,122.8 L110.6,123.5 L110.3,124.2 L109.8,124.8 L109.1,125.0Z" fill="none" stroke="#666" stroke-width="0.5"/>
<path d="M101.6,126.3 L101.1,126.4 L100.6,126.3 L100.3,126.1 L99.9,125.5 L99.8,125.0 L99.9,124.5 L100.1,124.0 L100.6,123.6 L101.1,123.6 L101.6,123.7 L102.1,124.0 L102.4,124.5 L102.5,125.0 L102.4,125.5 L102.0,126.0 L101.6,126.3Z" fill="none" stroke="#666" stroke-width="0.5"/>
<path d="M122.1,128.5 L120.1,128.6 L117.6,128.6 L115.9,128.5 L115.4,128.0 L114.8,126.8 L114.5,126.0 L114.5,125.2 L114.2,124.5 L114.2,121.8 L113.9,121.0 L114.0,120.2 L114.2,119.8 L114.2,116.2 L114.5,115.5 L114.5,114.5 L114.8,113.8 L115.1,113.0 L115.8,112.3 L116.1,112.2 L116.8,111.9 L117.8,111.9 L118.6,112.1 L119.3,112.2 L120.6,112.6 L121.1,112.7 L121.6,112.9 L122.3,112.9 L123.1,113.1 L123.6,113.2 L124.3,113.4 L125.6,114.0 L126.3,114.8 L126.7,115.5 L126.9,116.2 L127.0,117.5 L127.2,118.2 L127.2,121.2 L127.0,122.0 L126.9,123.2 L126.7,123.8 L126.7,124.2 L126.4,125.0 L125.8,126.2 L124.6,127.5 L122.8,128.3 L122.1,128.5Z" fill="#f2f2f2" stroke="#aaa" stroke-width="0.4"/>
<path d="M120.1,128.3 L117.6,128.3 L117.3,128.0 L116.8,128.0 L116.6,127.8 L116.3,127.8 L116.1,127.5 L116.1,127.2 L115.8,127.0 L115.8,126.8 L115.6,126.5 L115.6,126.0 L115.3,125.8 L115.3,124.8 L115.1,124.5 L115.1,121.2 L114.8,121.0 L114.8,120.5 L115.0,120.2 L115.1,116.2 L115.3,116.0 L115.3,114.8 L115.6,114.5 L115.6,114.0 L115.8,113.8 L115.8,113.5 L116.3,113.0 L116.8,113.0 L117.1,112.7 L117.8,112.7 L118.1,113.0 L119.1,113.0 L119.3,113.2 L119.8,113.2 L120.1,113.5 L120.8,113.5 L121.1,113.7 L122.3,113.7 L122.6,114.0 L123.3,114.0 L123.6,114.2 L124.1,114.2 L124.3,114.5 L124.6,114.5 L124.8,114.7 L125.1,114.7 L125.6,115.2 L125.6,115.5 L125.9,115.8 L125.9,116.2 L126.1,116.5 L126.1,118.0 L126.4,118.2 L126.4,121.2 L126.1,121.5 L126.1,123.0 L125.9,123.2 L125.9,124.0 L125.6,124.2 L125.6,124.8 L125.4,125.0 L125.4,125.2 L125.1,125.5 L125.1,125.8 L124.1,126.8 L123.8,126.8 L123.6,127.0 L123.3,127.0 L123.1,127.3 L122.8,127.3 L122.6,127.5 L122.1,127.5 L121.8,127.8 L121.3,127.8 L121.1,128.0 L120.3,128.0 L120.1,128.3Z" fill="none" stroke="#aaa" stroke-width="0.4"/>
<path d="M119.6,122.3 L118.6,122.3 L117.8,122.0 L117.3,121.5 L117.0,120.8 L116.9,119.8 L117.2,118.8 L117.5,118.2 L117.8,118.0 L118.6,117.7 L119.6,117.7 L120.3,118.1 L121.0,118.8 L121.3,119.5 L121.3,120.5 L121.0,121.2 L120.3,121.9 L119.6,122.3Z" fill="none" stroke="#aaa" stroke-width="0.4"/>
<path d="M104.6,99.0 L103.8,99.1 L102.8,98.9 L101.8,98.5 L101.1,98.1 L100.5,97.5 L100.2,97.0 L100.0,96.2 L100.2,95.8 L100.4,95.5 L100.8,95.2 L101.3,95.0 L102.1,95.0 L103.3,95.1 L104.1,95.4 L104.8,95.9 L105.7,96.8 L105.9,97.2 L106.0,97.8 L105.8,98.2 L105.6,98.6 L105.1,98.9 L104.6,99.0Z" fill="none" stroke="#c0c0c0" stroke-width="0.4"/>
<path d="M108.6,105.3 L107.6,105.3 L106.6,105.0 L105.9,104.5 L105.4,103.8 L105.2,103.2 L105.2,102.8 L105.5,102.0 L106.1,101.3 L106.8,100.8 L107.8,100.7 L109.1,100.9 L109.6,101.1 L110.1,101.5 L110.6,102.2 L110.8,102.8 L110.8,103.2 L110.6,103.8 L110.4,104.2 L109.6,104.9 L108.6,105.3Z" fill="none" stroke="#c0c0c0" stroke-width="0.4"/>
<path d="M102.1,110.0 L101.3,109.9 L100.6,109.5 L100.1,108.8 L100.0,108.0 L100.1,107.2 L100.6,106.5 L101.1,106.2 L101.8,106.0 L102.6,106.1 L103.3,106.5 L103.8,107.0 L104.0,107.8 L104.0,108.5 L103.6,109.2 L102.8,109.8 L102.1,110.0Z" fill="none" stroke="#c0c0c0" stroke-width="0.4"/>
<path d="M111.3,110.5 L110.6,110.5 L109.8,110.4 L109.3,110.1 L109.0,109.8 L108.7,109.2 L108.7,108.8 L109.0,108.2 L109.2,108.0 L110.1,107.6 L111.1,107.4 L112.1,107.6 L112.6,107.9 L113.0,108.2 L113.2,108.5 L113.3,109.0 L113.2,109.5 L113.0,109.8 L112.3,110.3 L111.3,110.5Z" fill="none" stroke="#c0c0c0" stroke-width="0.4"/>
<path d="M104.1,98.0 L103.6,98.1 L103.1,98.1 L102.1,97.7 L101.5,97.0 L101.4,96.5 L101.5,96.2 L101.8,96.0 L102.6,95.9 L103.2,96.0 L103.8,96.3 L104.4,96.8 L104.6,97.2 L104.5,97.8 L104.1,98.0Z" fill="none" stroke="#c0c0c0" stroke-width="0.4"/>
<path d="M108.1,104.3 L107.6,104.2 L107.1,104.0 L106.6,103.5 L106.5,103.0 L106.6,102.5 L106.8,102.2 L107.3,101.9 L107.8,101.7 L108.3,101.8 L108.9,102.0 L109.4,102.5 L109.5,103.0 L109.4,103.5 L109.1,103.9 L108.6,104.2 L108.1,104.3Z" fill="none" stroke="#c0c0c0" stroke-width="0.4"/>
<path d="M102.3,109.0 L101.8,109.1 L101.6,109.0 L101.2,108.8 L100.9,108.2 L100.9,107.8 L101.0,107.5 L101.2,107.2 L101.6,107.0 L102.1,106.9 L102.4,107.0 L102.8,107.3 L103.1,107.8 L103.1,108.2 L103.0,108.5 L102.8,108.8 L102.3,109.0Z" fill="none" stroke="#c0c0c0" stroke-width="0.4"/>
<path d="M111.3,109.8 L110.6,109.8 L110.0,109.5 L109.8,109.2 L109.7,109.0 L109.8,108.8 L110.0,108.5 L110.4,108.2 L111.1,108.2 L111.6,108.3 L112.0,108.5 L112.2,108.8 L112.2,109.2 L111.8,109.6 L111.3,109.8Z" fill="none" stroke="#c0c0c0" stroke-width="0.4"/>
<path d="M106.8,186.4 L106.3,186.5 L104.1,186.5 L103.3,186.2 L102.6,186.2 L101.6,185.9 L100.2,184.5 L99.6,183.2 L99.6,182.8 L99.4,182.2 L99.3,181.2 L99.1,180.5 L99.0,179.5 L98.8,178.8 L98.8,172.5 L99.1,171.5 L99.5,170.8 L100.6,169.8 L101.8,169.2 L102.3,169.2 L102.8,169.0 L103.6,168.9 L104.3,168.7 L107.8,168.7 L109.1,168.9 L110.1,169.3 L112.3,170.3 L113.6,171.5 L113.9,172.2 L114.1,173.2 L114.1,174.0 L114.3,174.8 L114.3,179.2 L114.1,180.0 L114.1,180.8 L113.7,181.8 L113.2,182.8 L112.6,183.7 L111.3,184.9 L109.1,186.0 L108.3,186.2 L107.1,186.2 L106.8,186.4Z" fill="#c4c4c4" stroke="#2a2a2a" stroke-width="0.5"/>
<path d="M106.3,185.9 L104.1,185.9 L103.6,185.6 L102.8,185.6 L102.3,185.4 L101.9,185.2 L100.8,184.2 L100.2,183.0 L100.2,182.5 L100.0,182.0 L100.0,181.0 L99.7,180.5 L99.7,179.2 L99.5,178.8 L99.4,172.8 L99.7,172.2 L99.7,171.8 L100.0,171.2 L100.8,170.4 L101.8,169.9 L102.6,169.8 L103.1,169.6 L103.8,169.5 L104.3,169.3 L107.8,169.3 L108.3,169.5 L108.8,169.5 L109.3,169.8 L109.8,169.8 L111.8,170.8 L113.0,172.0 L113.5,173.5 L113.5,174.2 L113.7,174.8 L113.7,179.2 L113.5,179.8 L113.5,180.5 L113.2,181.0 L113.2,181.2 L112.6,182.5 L112.3,182.8 L112.1,183.2 L111.1,184.3 L109.1,185.3 L108.6,185.4 L108.1,185.6 L106.8,185.6 L106.3,185.9Z" fill="none" stroke="#333" stroke-width="0.5"/>
<path d="M106.3,185.3 L106.1,185.4 L104.3,185.4 L103.8,185.2 L103.1,185.2 L102.6,184.9 L102.1,184.8 L101.3,184.0 L100.8,183.0 L100.7,182.2 L100.4,181.8 L100.4,180.8 L100.2,180.5 L100.1,180.2 L100.1,179.0 L99.9,178.8 L99.9,172.8 L100.1,172.5 L100.1,172.0 L100.3,171.8 L100.3,171.5 L101.1,170.7 L101.3,170.7 L101.6,170.5 L101.8,170.5 L102.1,170.2 L102.8,170.2 L103.1,170.0 L104.1,170.0 L104.3,169.7 L107.8,169.7 L108.1,169.9 L108.8,170.0 L109.1,170.2 L109.6,170.2 L109.8,170.4 L110.1,170.4 L110.3,170.7 L110.6,170.7 L110.8,170.9 L111.1,170.9 L111.3,171.2 L111.6,171.2 L112.6,172.2 L112.6,172.5 L112.9,172.8 L112.8,173.2 L113.0,173.5 L113.0,173.8 L113.0,174.5 L113.3,175.0 L113.3,179.0 L113.0,179.5 L113.0,180.2 L112.8,180.8 L112.7,181.2 L112.2,182.2 L111.8,182.6 L111.7,183.0 L110.8,183.9 L108.8,184.9 L108.3,184.9 L107.8,185.2 L106.6,185.2 L106.3,185.3Z" fill="none" stroke="#555" stroke-width="0.5"/>
<path d="M109.3,182.8 L108.6,182.9 L108.1,182.8 L106.6,181.9 L106.1,181.7 L104.3,182.0 L103.3,181.9 L102.6,181.5 L101.9,180.8 L101.4,179.8 L101.1,178.0 L101.3,176.2 L102.0,174.5 L101.9,174.0 L101.3,172.9 L101.3,172.2 L101.5,171.8 L102.1,171.2 L102.6,171.0 L103.6,170.6 L104.8,170.4 L107.3,170.3 L109.3,170.8 L110.3,171.3 L111.2,172.0 L111.4,172.5 L111.4,172.8 L111.3,173.0 L110.8,173.4 L109.8,173.9 L107.4,174.5 L106.9,174.8 L106.7,175.0 L106.7,175.5 L107.3,176.3 L107.8,176.6 L109.1,176.9 L109.8,177.2 L110.6,177.9 L111.0,178.8 L111.2,180.0 L110.9,181.2 L110.3,182.2 L109.8,182.6 L109.3,182.8Z" fill="none" stroke="#222" stroke-width="0.5"/>
<path d="M106.6,173.5 L105.1,173.5 L104.1,173.3 L103.2,172.8 L102.9,172.2 L102.9,172.0 L103.3,171.5 L103.8,171.2 L104.8,170.9 L106.3,170.7 L107.3,170.8 L108.4,171.0 L109.5,171.5 L109.9,172.0 L109.9,172.2 L109.8,172.5 L109.0,173.0 L107.8,173.3 L106.6,173.5Z" fill="none" stroke="#555" stroke-width="0.5"/>
<path d="M104.3,179.3 L103.8,179.4 L103.3,179.1 L103.1,178.8 L102.9,178.2 L102.9,177.8 L103.1,177.2 L103.3,176.9 L103.8,176.6 L104.3,176.7 L104.6,176.8 L105.0,177.2 L105.2,177.8 L105.2,178.2 L105.0,178.8 L104.8,179.0 L104.3,179.3Z" fill="none" stroke="#555" stroke-width="0.5"/>
<path d="M108.8,180.5 L108.6,180.4 L108.4,180.0 L108.6,179.5 L108.8,179.4 L109.1,179.5 L109.3,180.0 L109.1,180.4 L108.8,180.5Z" fill="none" stroke="#555" stroke-width="0.5"/>
<path d="M104.6,165.3 L103.8,165.3 L102.8,165.2 L102.1,164.8 L101.4,164.2 L101.0,163.5 L100.9,162.8 L101.2,162.0 L101.6,161.5 L102.1,161.2 L102.8,160.8 L105.0,160.2 L106.6,158.8 L107.8,158.3 L109.1,158.1 L110.1,158.3 L111.1,158.6 L111.8,159.2 L112.1,159.8 L112.1,160.2 L111.8,160.8 L111.6,161.0 L111.1,161.4 L110.3,161.7 L108.3,162.1 L107.7,162.2 L107.5,162.5 L107.0,163.8 L106.6,164.3 L105.8,164.9 L104.6,165.3Z" fill="none" stroke="#bbb" stroke-width="0.4"/>
<path d="M111.1,168.0 L110.1,167.9 L109.3,167.4 L108.8,166.8 L108.6,166.0 L108.8,165.2 L109.3,164.5 L110.1,164.1 L110.8,164.0 L111.8,164.1 L112.6,164.5 L113.2,165.2 L113.3,166.0 L113.2,166.8 L112.6,167.5 L111.8,167.9 L111.1,168.0Z" fill="none" stroke="#bbb" stroke-width="0.4"/>
<path d="M109.3,161.0 L108.3,161.0 L107.6,160.8 L107.3,160.5 L107.2,160.2 L107.3,159.8 L107.8,159.2 L108.6,159.0 L109.3,159.0 L110.1,159.2 L110.6,159.8 L110.6,160.2 L110.1,160.8 L109.3,161.0Z" fill="none" stroke="#bbb" stroke-width="0.4"/>
<path d="M104.1,164.3 L103.3,164.2 L102.6,163.8 L102.3,163.2 L102.3,162.8 L102.6,162.2 L103.1,161.9 L103.8,161.7 L104.6,161.7 L105.1,161.9 L105.5,162.2 L105.7,162.5 L105.7,163.0 L105.6,163.5 L105.1,164.0 L104.6,164.2 L104.1,164.3Z" fill="none" stroke="#bbb" stroke-width="0.4"/>
<path d="M111.3,167.1 L110.8,167.1 L110.5,167.0 L110.1,166.8 L109.9,166.5 L109.8,166.2 L109.8,165.8 L110.1,165.2 L110.3,165.1 L110.8,164.9 L111.3,164.9 L111.8,165.2 L112.1,165.5 L112.3,166.0 L112.1,166.5 L111.8,166.8 L111.3,167.1Z" fill="none" stroke="#bbb" stroke-width="0.4"/>
<path d="M120.3,185.6 L117.1,185.6 L115.8,185.0 L115.4,184.5 L114.8,183.2 L114.7,182.8 L114.5,182.2 L114.5,181.5 L114.2,180.8 L114.2,174.0 L114.5,173.2 L114.5,172.5 L115.1,171.0 L115.6,170.5 L116.3,170.2 L118.8,170.1 L119.6,170.4 L120.1,170.4 L120.6,170.6 L121.1,170.7 L121.6,170.9 L122.3,170.9 L123.1,171.2 L124.3,171.8 L125.3,172.8 L125.7,173.5 L125.7,174.0 L126.0,174.8 L126.0,179.8 L125.7,180.5 L125.7,181.2 L125.4,182.0 L124.8,183.2 L123.8,184.2 L122.1,185.1 L121.3,185.3 L120.8,185.4 L120.3,185.6Z" fill="#f4f4f4" stroke="#c0c0c0" stroke-width="0.4"/>
<path d="M120.1,184.8 L117.3,184.8 L117.1,184.5 L116.8,184.5 L116.6,184.3 L116.3,184.2 L116.1,184.0 L116.1,183.8 L115.8,183.5 L115.8,183.2 L115.6,183.0 L115.6,182.2 L115.3,182.0 L115.3,181.0 L115.1,180.8 L115.1,174.0 L115.3,173.8 L115.3,172.8 L115.6,172.5 L115.6,172.0 L115.8,171.8 L115.8,171.5 L116.1,171.2 L116.3,171.2 L116.6,171.0 L118.8,171.0 L119.1,171.2 L119.8,171.2 L120.1,171.5 L120.8,171.5 L121.1,171.7 L122.1,171.7 L122.3,172.0 L122.8,172.0 L123.1,172.2 L123.3,172.2 L123.6,172.5 L123.8,172.5 L124.6,173.2 L124.6,173.5 L124.9,173.8 L124.9,174.5 L125.1,174.8 L125.1,179.8 L124.9,180.0 L124.9,181.0 L124.6,181.2 L124.6,181.8 L124.4,182.0 L124.4,182.2 L124.1,182.5 L124.1,182.8 L123.3,183.5 L123.1,183.5 L122.8,183.8 L122.6,183.8 L122.3,184.0 L122.1,184.0 L121.8,184.3 L121.3,184.3 L121.1,184.5 L120.3,184.5 L120.1,184.8Z" fill="none" stroke="#c0c0c0" stroke-width="0.4"/>
<path d="M358.4,39.6 L357.1,39.6 L355.6,39.0 L355.1,38.5 L354.5,37.5 L354.5,35.0 L354.6,34.5 L354.6,33.8 L354.8,32.5 L355.2,31.1 L355.7,29.8 L356.3,28.8 L357.4,27.6 L358.7,26.6 L359.6,26.0 L360.6,25.5 L361.9,25.0 L364.1,24.4 L364.6,24.3 L365.1,24.1 L366.1,24.1 L366.9,23.9 L371.6,23.9 L372.1,24.1 L373.1,24.1 L373.6,24.3 L374.4,24.4 L377.4,25.5 L377.9,25.9 L378.9,26.4 L380.4,28.1 L381.0,29.3 L381.0,29.8 L381.2,30.3 L381.2,31.6 L380.9,32.5 L380.5,33.3 L379.6,34.1 L379.1,34.4 L378.4,35.0 L376.6,35.9 L375.1,36.4 L374.6,36.4 L374.1,36.6 L373.6,36.7 L373.1,36.9 L372.1,36.9 L371.4,37.2 L370.6,37.2 L370.1,37.4 L369.4,37.4 L368.9,37.6 L368.1,37.7 L367.6,37.9 L367.1,37.9 L366.6,38.1 L366.1,38.2 L365.6,38.4 L364.9,38.4 L364.4,38.6 L363.6,38.7 L363.1,38.9 L362.4,38.9 L361.9,39.2 L360.9,39.2 L360.4,39.4 L358.9,39.4 L358.4,39.6Z" fill="#cfcfcf" stroke="#333" stroke-width="0.5"/>
<path d="M358.4,38.9 L358.1,38.9 L357.4,38.9 L356.9,38.7 L356.4,38.6 L355.9,38.3 L355.6,38.0 L355.3,37.5 L355.2,37.3 L355.2,35.3 L355.4,34.8 L355.4,34.0 L355.6,33.5 L355.7,32.8 L356.0,32.0 L356.1,31.6 L356.5,30.6 L357.1,29.6 L359.4,27.3 L361.1,26.3 L362.1,25.8 L362.6,25.8 L363.4,25.4 L363.9,25.3 L364.4,25.1 L364.9,25.1 L365.4,24.9 L366.4,24.9 L366.9,24.6 L371.4,24.6 L371.9,24.8 L372.9,24.8 L373.4,25.1 L374.1,25.1 L374.6,25.3 L375.1,25.4 L375.4,25.6 L375.9,25.7 L376.6,26.1 L377.1,26.2 L377.5,26.6 L378.4,27.0 L379.0,27.6 L379.7,28.3 L380.2,29.3 L380.3,29.6 L380.3,30.1 L380.5,30.6 L380.5,31.3 L380.0,32.8 L379.1,33.6 L378.6,33.9 L378.1,34.4 L376.6,35.1 L376.1,35.2 L375.6,35.4 L375.4,35.4 L374.9,35.7 L374.4,35.7 L373.9,35.9 L373.4,35.9 L372.9,36.2 L371.9,36.2 L371.4,36.4 L370.4,36.4 L369.9,36.7 L369.1,36.7 L368.6,36.9 L367.9,36.9 L367.4,37.2 L366.9,37.2 L366.4,37.4 L365.9,37.4 L365.4,37.7 L364.6,37.7 L364.1,37.9 L363.4,38.0 L362.9,38.2 L362.1,38.2 L361.6,38.5 L360.6,38.5 L360.1,38.7 L358.6,38.7 L358.4,38.9Z" fill="none" stroke="#333" stroke-width="0.5"/>
<path d="M357.9,38.4 L356.9,38.2 L356.2,37.8 L355.8,37.0 L355.7,35.5 L355.9,35.0 L355.9,34.0 L356.1,33.8 L356.1,33.0 L356.4,32.8 L356.4,32.5 L356.6,32.3 L356.6,31.8 L356.8,31.6 L356.8,31.3 L357.1,31.1 L357.1,30.8 L357.5,30.3 L357.5,30.1 L359.9,27.7 L360.1,27.7 L360.6,27.2 L360.9,27.2 L361.4,26.7 L361.6,26.7 L361.9,26.5 L362.1,26.5 L362.4,26.3 L362.9,26.3 L363.1,26.0 L363.4,26.0 L363.6,25.8 L364.1,25.8 L364.4,25.6 L365.1,25.6 L365.6,25.4 L366.6,25.4 L367.1,25.1 L371.1,25.1 L371.4,25.1 L371.6,25.3 L372.9,25.3 L373.1,25.5 L374.1,25.6 L374.4,25.8 L374.9,25.9 L375.1,26.1 L375.6,26.1 L376.4,26.6 L376.9,26.7 L377.3,27.1 L378.1,27.5 L379.2,28.6 L379.8,29.8 L379.8,30.3 L380.0,30.8 L380.0,31.1 L379.8,31.6 L379.8,31.8 L379.4,32.5 L378.9,33.1 L378.5,33.3 L377.9,33.9 L376.1,34.7 L375.1,34.9 L374.6,35.2 L374.1,35.2 L373.6,35.4 L373.1,35.4 L372.6,35.7 L371.6,35.7 L371.1,35.9 L370.1,35.9 L369.6,36.2 L368.9,36.2 L368.4,36.4 L367.6,36.4 L367.1,36.7 L366.6,36.7 L366.1,36.9 L365.6,36.9 L365.1,37.2 L364.4,37.2 L363.9,37.4 L363.1,37.4 L362.6,37.7 L361.9,37.7 L361.4,37.9 L360.4,37.9 L359.9,38.2 L358.4,38.2 L357.9,38.4Z" fill="none" stroke="#555" stroke-width="0.4"/>
<path d="M361.6,35.3 L360.1,35.5 L359.4,35.5 L358.6,35.3 L357.8,34.8 L357.5,34.3 L357.3,33.5 L357.4,32.3 L357.5,31.8 L357.8,31.1 L358.2,30.3 L359.1,29.3 L360.1,28.4 L361.9,27.5 L362.9,27.3 L365.6,27.2 L366.9,26.9 L367.9,26.6 L369.4,26.3 L370.9,26.2 L372.4,26.4 L373.6,26.7 L376.3,28.1 L377.4,28.8 L377.9,29.4 L378.2,30.1 L378.3,31.1 L378.1,31.8 L377.2,32.8 L376.4,33.2 L375.6,33.3 L374.9,33.2 L372.6,32.4 L370.1,32.3 L367.6,31.9 L366.9,31.9 L366.4,32.0 L365.9,32.4 L364.5,33.8 L363.6,34.4 L362.6,35.0 L361.6,35.3Z" fill="none" stroke="#555" stroke-width="0.4"/>
<path d="M375.9,32.6 L375.4,32.5 L374.9,32.3 L373.4,31.4 L372.9,31.2 L370.4,31.2 L368.9,30.8 L368.0,30.3 L367.4,29.8 L367.2,29.3 L367.2,28.8 L367.5,28.3 L368.0,27.8 L368.9,27.3 L369.6,27.0 L370.6,26.9 L371.6,27.0 L372.2,27.1 L373.1,27.4 L374.6,28.3 L376.4,29.0 L377.0,29.6 L377.4,30.1 L377.6,30.8 L377.4,31.6 L377.1,32.0 L376.8,32.3 L375.9,32.6Z" fill="none" stroke="#555" stroke-width="0.4"/>
<path d="M361.1,34.1 L360.4,34.2 L359.6,34.1 L359.1,33.9 L358.6,33.5 L358.2,33.0 L358.1,32.5 L358.0,32.0 L358.2,31.3 L358.5,30.6 L358.9,30.1 L359.6,29.3 L360.4,28.7 L361.1,28.4 L362.1,28.1 L362.9,28.2 L363.4,28.3 L364.3,28.8 L364.7,29.3 L364.9,30.1 L364.8,30.8 L364.1,32.0 L363.3,33.0 L362.1,33.8 L361.1,34.1Z" fill="none" stroke="#555" stroke-width="0.4"/>
<path d="M371.1,30.1 L370.1,29.9 L369.6,29.6 L369.3,29.1 L369.4,28.8 L369.6,28.4 L370.3,28.1 L371.1,28.0 L371.9,28.2 L372.5,28.6 L372.8,29.1 L372.8,29.3 L372.6,29.6 L372.1,29.8 L371.1,30.1Z" fill="none" stroke="#555" stroke-width="0.4"/>
<path d="M361.1,32.8 L360.4,32.8 L359.6,32.5 L359.4,32.3 L359.1,31.9 L359.1,31.1 L359.5,30.3 L360.4,29.5 L360.9,29.3 L361.4,29.2 L362.1,29.3 L362.6,29.6 L363.0,30.1 L363.1,30.6 L363.1,31.1 L362.9,31.6 L362.4,32.2 L361.9,32.5 L361.1,32.8Z" fill="none" stroke="#555" stroke-width="0.4"/>
<path d="M376.1,31.7 L375.9,31.7 L375.4,31.6 L374.9,31.3 L374.5,30.6 L374.5,30.1 L374.6,29.9 L375.1,29.7 L375.6,29.7 L376.4,30.1 L376.7,30.6 L376.7,31.1 L376.4,31.5 L376.1,31.7Z" fill="none" stroke="#555" stroke-width="0.4"/>
<path d="M357.1,34.7 L356.9,34.7 L356.7,34.5 L356.7,33.3 L357.0,33.0 L357.0,32.0 L357.2,31.8 L357.2,31.3 L357.5,31.1 L357.5,30.6 L357.7,30.3 L357.7,30.1 L358.2,29.6 L358.2,29.3 L358.9,28.6 L359.1,28.6 L360.1,27.6 L360.4,27.6 L360.9,27.1 L361.1,27.1 L361.6,26.6 L361.9,26.6 L362.1,26.4 L362.6,26.4 L362.9,26.1 L363.6,26.1 L363.9,25.9 L366.4,25.9 L366.6,26.1 L366.1,26.5 L365.9,26.5 L365.6,26.7 L364.6,26.7 L364.4,27.0 L363.4,27.0 L363.1,27.2 L362.9,27.2 L362.6,27.5 L362.4,27.5 L362.1,27.7 L361.9,27.7 L361.1,28.5 L360.9,28.5 L359.3,30.1 L359.3,30.3 L358.8,30.8 L358.8,31.1 L358.6,31.3 L358.6,31.6 L358.3,31.8 L358.3,32.3 L358.1,32.5 L358.1,33.0 L357.8,33.3 L357.8,33.8 L357.6,34.0 L357.6,34.3 L357.1,34.7Z" fill="#555" stroke="#333" stroke-width="0.5"/>
<path d="M371.4,33.6 L370.9,33.7 L370.1,33.5 L369.6,33.0 L369.2,32.5 L369.1,32.0 L369.2,31.3 L369.4,30.6 L369.7,30.1 L370.4,29.5 L371.1,29.3 L371.9,29.6 L372.9,30.6 L373.1,30.7 L373.7,29.3 L374.1,28.7 L374.4,28.5 L374.9,28.3 L375.4,28.4 L375.6,28.6 L376.2,29.3 L376.4,30.3 L376.4,31.3 L375.9,32.2 L375.4,32.6 L375.1,32.7 L374.6,32.6 L374.1,32.3 L373.1,31.4 L372.6,32.5 L372.2,33.0 L371.9,33.4 L371.4,33.6Z" fill="none" stroke="#333" stroke-width="0.45"/>
<path d="M366.9,34.3 L366.4,34.4 L365.6,34.4 L364.9,34.3 L364.4,34.0 L364.0,33.5 L363.8,33.0 L363.9,32.5 L364.1,32.3 L364.8,31.8 L365.6,31.6 L366.6,31.6 L367.7,32.0 L368.3,32.5 L368.3,32.8 L368.2,33.3 L367.6,34.0 L366.9,34.3Z" fill="none" stroke="#333" stroke-width="0.45"/>
<path d="M375.1,31.6 L374.6,31.5 L374.4,31.3 L374.2,30.8 L374.2,30.3 L374.4,29.8 L374.6,29.5 L374.9,29.4 L375.1,29.4 L375.4,29.6 L375.6,29.9 L375.7,30.3 L375.6,31.1 L375.4,31.5 L375.1,31.6Z" fill="none" stroke="#333" stroke-width="0.45"/>
<path d="M371.1,32.6 L370.6,32.6 L370.4,32.4 L370.1,31.8 L370.1,31.3 L370.3,30.8 L370.6,30.5 L370.9,30.4 L371.1,30.4 L371.5,30.6 L371.7,30.8 L371.9,31.3 L371.8,32.0 L371.6,32.3 L371.1,32.6Z" fill="none" stroke="#333" stroke-width="0.45"/>
<path d="M366.6,33.6 L366.1,33.7 L365.4,33.6 L365.0,33.3 L364.9,33.0 L364.9,32.8 L365.1,32.5 L365.6,32.3 L366.1,32.2 L366.6,32.4 L366.9,32.5 L367.1,32.8 L367.1,33.0 L367.0,33.3 L366.6,33.6Z" fill="none" stroke="#333" stroke-width="0.45"/>
<path d="M366.6,56.7 L366.1,56.8 L362.6,56.8 L362.1,56.7 L361.9,56.5 L360.6,56.5 L360.1,56.3 L359.6,56.3 L359.1,56.0 L358.6,55.9 L357.9,55.5 L357.4,55.0 L356.9,54.8 L356.6,54.6 L356.4,54.0 L355.9,53.5 L355.5,52.8 L354.6,50.3 L354.6,49.3 L354.4,48.8 L354.4,47.3 L354.5,46.8 L354.7,46.5 L354.7,46.0 L354.9,45.6 L355.6,44.6 L357.1,43.7 L358.4,43.3 L358.6,43.2 L359.4,43.1 L359.9,42.8 L360.6,42.8 L361.1,42.6 L362.1,42.6 L362.6,42.3 L363.9,42.3 L364.1,42.2 L364.6,42.1 L371.9,42.0 L372.6,42.3 L375.4,42.3 L376.1,42.5 L377.6,42.5 L378.1,42.7 L378.6,42.7 L379.9,43.0 L381.6,43.9 L382.6,44.6 L383.4,45.3 L384.1,46.3 L384.7,47.8 L384.7,50.0 L384.3,51.0 L383.4,52.5 L382.1,53.7 L380.1,54.7 L379.4,54.8 L378.1,55.3 L377.4,55.3 L376.9,55.5 L375.9,55.5 L375.4,55.8 L374.1,55.8 L373.6,56.0 L372.1,56.1 L371.6,56.3 L370.1,56.3 L369.6,56.5 L366.9,56.5 L366.6,56.7Z" fill="#eeeeee" stroke="#777" stroke-width="0.45"/>
<path d="M366.1,55.8 L362.6,55.8 L362.4,55.5 L360.9,55.5 L360.6,55.3 L359.9,55.3 L359.6,55.0 L359.1,55.0 L358.9,54.8 L358.6,54.8 L357.9,54.0 L357.6,54.0 L357.4,53.8 L357.4,53.5 L356.7,52.8 L356.7,52.5 L356.4,52.3 L356.4,51.8 L356.2,51.5 L356.2,51.0 L355.9,50.8 L355.9,50.3 L355.7,50.0 L355.7,48.8 L355.4,48.5 L355.4,47.3 L355.7,47.0 L355.7,46.3 L356.2,45.8 L356.2,45.5 L356.4,45.3 L356.6,45.3 L357.1,44.8 L357.4,44.8 L357.6,44.6 L358.1,44.6 L358.4,44.3 L358.9,44.3 L359.1,44.1 L359.9,44.1 L360.1,43.8 L361.1,43.8 L361.4,43.6 L362.6,43.6 L362.9,43.3 L364.4,43.3 L364.6,43.1 L371.9,43.1 L372.1,43.3 L375.4,43.3 L375.6,43.5 L377.4,43.5 L377.6,43.7 L378.4,43.8 L378.9,44.0 L379.4,44.0 L381.1,44.8 L381.6,45.4 L382.1,45.5 L382.6,46.2 L382.8,46.5 L383.1,46.9 L383.5,47.8 L383.7,48.0 L383.7,49.8 L383.4,50.0 L383.4,50.5 L383.2,50.8 L383.1,51.0 L382.6,51.5 L382.6,51.8 L381.6,52.8 L381.4,52.8 L381.1,53.0 L380.9,53.0 L380.6,53.3 L380.4,53.3 L380.1,53.5 L379.9,53.5 L379.6,53.8 L378.9,53.8 L378.6,54.0 L378.1,54.0 L377.9,54.3 L376.9,54.3 L376.6,54.5 L375.4,54.5 L375.1,54.8 L373.6,54.8 L373.4,55.0 L371.6,55.0 L371.4,55.3 L369.6,55.3 L369.4,55.5 L366.4,55.5 L366.1,55.8Z" fill="none" stroke="#777" stroke-width="0.45"/>
<path d="M365.9,55.1 L363.1,55.1 L362.4,54.9 L361.1,54.9 L360.9,54.7 L360.1,54.6 L359.9,54.4 L359.4,54.4 L358.8,54.0 L358.0,53.3 L357.4,52.7 L357.1,52.0 L356.7,50.8 L356.6,50.5 L356.5,50.0 L356.3,49.8 L356.3,48.8 L356.1,48.3 L356.1,47.5 L356.3,47.3 L356.4,46.5 L356.9,45.9 L357.4,45.5 L357.9,45.3 L358.4,45.2 L359.4,44.8 L360.1,44.7 L360.4,44.5 L361.4,44.4 L361.6,44.2 L362.6,44.2 L363.1,44.0 L364.4,43.9 L365.1,43.7 L371.4,43.7 L372.1,43.9 L375.1,43.9 L375.6,44.1 L377.1,44.1 L377.4,44.3 L378.1,44.3 L378.6,44.5 L379.1,44.5 L380.6,45.3 L381.4,45.9 L382.0,46.3 L382.2,46.8 L382.6,47.3 L383.1,48.3 L383.1,49.5 L382.5,50.8 L382.1,51.3 L381.9,51.7 L381.4,52.2 L379.4,53.1 L378.6,53.2 L377.6,53.6 L376.6,53.7 L376.4,53.9 L375.1,54.0 L374.9,54.1 L373.6,54.2 L372.9,54.4 L371.6,54.4 L371.1,54.6 L369.6,54.7 L368.9,54.9 L366.4,54.9 L365.9,55.1Z" fill="none" stroke="#999" stroke-width="0.4"/>
<path d="M370.6,52.6 L368.4,52.7 L366.9,52.7 L365.1,52.4 L363.6,52.0 L362.4,51.5 L361.6,50.8 L361.2,50.0 L361.1,49.5 L361.2,49.0 L361.7,48.3 L362.2,47.8 L362.9,47.3 L363.9,46.8 L366.1,46.0 L368.9,45.5 L371.1,45.4 L375.1,45.6 L376.6,45.5 L378.7,45.5 L379.4,45.8 L380.1,46.1 L381.2,47.0 L381.5,47.8 L381.6,48.3 L381.6,49.0 L381.0,50.0 L380.1,50.8 L378.9,51.2 L375.9,51.6 L372.4,52.3 L370.6,52.6Z" fill="none" stroke="#999" stroke-width="0.4"/>
<path d="M371.4,51.1 L370.1,51.2 L368.6,51.3 L367.4,51.2 L366.4,50.9 L365.5,50.5 L364.9,50.0 L364.6,49.5 L364.7,49.0 L365.2,48.3 L366.4,47.6 L367.9,47.1 L369.6,46.8 L371.6,46.7 L374.9,47.1 L375.6,47.0 L377.6,46.4 L378.6,46.3 L379.4,46.5 L379.9,46.8 L380.5,47.5 L380.6,48.3 L380.5,48.8 L380.1,49.3 L379.4,49.8 L378.9,50.0 L378.1,50.1 L376.1,49.9 L375.4,49.9 L372.6,50.8 L371.4,51.1Z" fill="none" stroke="#999" stroke-width="0.4"/>
<path d="M359.6,59.7 L356.9,59.7 L356.6,59.4 L356.1,59.4 L355.9,59.2 L355.6,59.2 L354.5,58.0 L354.5,57.8 L354.3,57.5 L354.3,57.0 L354.0,56.8 L354.0,55.8 L353.8,55.5 L353.8,53.5 L353.5,53.3 L353.5,48.5 L353.8,48.3 L353.8,46.3 L354.0,46.0 L354.0,45.0 L354.3,44.8 L354.3,44.3 L354.8,43.8 L354.8,43.5 L355.1,43.2 L355.4,43.2 L355.9,42.7 L356.4,42.7 L356.6,42.4 L357.6,42.4 L357.9,42.2 L358.6,42.2 L358.9,42.4 L359.9,42.4 L360.1,42.7 L360.6,42.7 L361.1,43.2 L361.4,43.2 L361.5,43.3 L361.5,43.5 L362.0,44.0 L362.0,44.3 L362.3,44.5 L362.3,45.0 L362.5,45.3 L362.5,46.3 L362.8,46.5 L362.8,49.5 L363.0,49.8 L363.0,52.3 L362.8,52.5 L362.8,55.3 L362.5,55.5 L362.5,56.8 L362.3,57.0 L362.3,57.5 L362.0,57.8 L362.0,58.0 L361.8,58.3 L360.9,59.2 L360.6,59.2 L360.4,59.4 L359.9,59.4 L359.6,59.7Z" fill="none" stroke="#ccc" stroke-width="0.4"/>
<path d="M426.8,35.4 L421.6,35.4 L420.6,35.1 L419.8,34.8 L418.7,33.8 L418.0,32.3 L418.0,30.8 L418.3,30.1 L419.8,28.5 L420.8,27.8 L421.8,27.3 L422.8,26.9 L423.3,26.9 L423.8,26.7 L425.3,26.7 L425.8,26.5 L427.1,26.4 L427.8,26.7 L429.1,26.7 L430.1,27.1 L431.4,28.3 L431.8,29.1 L431.9,29.6 L431.9,31.3 L431.1,32.8 L429.6,34.4 L428.1,35.1 L427.3,35.2 L426.8,35.4Z" fill="#ececec" stroke="#8a8a8a" stroke-width="0.45"/>
<path d="M426.6,34.4 L421.6,34.4 L421.3,34.2 L420.8,34.2 L420.6,33.9 L420.3,33.9 L419.4,33.0 L419.4,32.8 L419.2,32.5 L419.2,32.3 L418.9,32.0 L418.9,31.1 L419.2,30.8 L419.2,30.6 L420.6,29.2 L420.8,29.2 L421.3,28.7 L421.6,28.7 L421.8,28.4 L422.1,28.4 L422.3,28.2 L422.8,28.2 L423.1,27.9 L423.8,27.9 L424.1,27.7 L425.8,27.7 L426.1,27.4 L427.1,27.4 L427.3,27.7 L428.8,27.7 L429.1,27.9 L429.6,27.9 L430.7,29.1 L430.7,29.3 L430.9,29.6 L430.9,31.1 L430.7,31.3 L430.7,31.6 L430.4,31.8 L430.4,32.0 L428.8,33.7 L428.6,33.7 L428.3,33.9 L428.1,33.9 L427.8,34.2 L426.8,34.2 L426.6,34.4Z" fill="none" stroke="#8a8a8a" stroke-width="0.45"/>
<path d="M426.1,32.6 L425.3,32.7 L424.6,32.7 L423.8,32.6 L423.1,32.3 L422.8,32.0 L422.4,31.6 L422.4,31.1 L422.5,30.6 L422.9,30.1 L423.3,29.8 L423.8,29.5 L424.6,29.3 L425.6,29.3 L426.6,29.6 L427.1,29.8 L427.5,30.3 L427.6,30.6 L427.6,31.1 L427.5,31.6 L427.1,32.0 L426.1,32.6Z" fill="none" stroke="#999" stroke-width="0.4"/>
<path d="M425.6,31.9 L424.8,31.9 L424.1,31.6 L423.8,31.3 L423.7,31.1 L423.9,30.6 L424.2,30.3 L424.8,30.1 L425.3,30.1 L425.9,30.3 L426.1,30.6 L426.3,31.1 L426.1,31.6 L425.6,31.9Z" fill="none" stroke="#999" stroke-width="0.4"/>
<path d="M419.3,60.2 L418.8,60.3 L417.3,60.3 L415.8,60.2 L415.3,60.1 L414.6,59.7 L413.7,58.8 L412.9,57.3 L412.9,56.5 L412.6,55.8 L412.6,49.0 L412.9,48.3 L412.9,47.0 L413.2,46.5 L413.2,45.8 L413.5,45.0 L414.0,44.0 L414.6,43.5 L415.3,43.1 L415.8,42.9 L418.3,42.9 L418.8,43.0 L419.6,42.9 L420.3,42.9 L420.8,42.7 L421.6,42.6 L423.1,42.2 L423.8,42.1 L425.3,41.7 L426.1,41.6 L426.6,41.4 L427.3,41.4 L427.8,41.2 L428.6,41.1 L429.1,40.9 L429.8,40.9 L430.3,40.7 L431.1,40.6 L431.6,40.4 L432.6,40.4 L433.3,40.1 L434.6,40.1 L435.3,39.9 L436.8,39.9 L437.3,40.2 L438.1,40.3 L439.3,41.0 L440.6,42.3 L441.1,43.0 L441.4,44.0 L441.4,45.0 L441.7,45.5 L441.7,47.0 L441.9,47.8 L441.9,50.3 L441.7,51.0 L441.6,51.8 L441.4,52.5 L440.6,53.9 L440.1,54.1 L439.3,54.8 L438.1,55.4 L437.3,55.6 L436.8,55.7 L433.3,56.9 L432.8,56.9 L430.8,57.7 L430.3,57.7 L429.8,57.9 L429.3,58.0 L428.8,58.2 L428.3,58.2 L426.8,58.7 L426.3,58.7 L425.8,58.9 L424.8,59.0 L424.3,59.2 L423.3,59.2 L422.8,59.4 L422.1,59.5 L421.6,59.7 L420.8,59.7 L420.3,60.0 L419.6,60.0 L419.3,60.2Z" fill="#d2d2d2" stroke="#666" stroke-width="0.5"/>
<path d="M418.8,59.4 L415.8,59.4 L415.6,59.3 L415.2,59.0 L414.3,58.2 L413.7,57.0 L413.7,56.3 L413.5,55.8 L413.5,49.0 L413.7,48.5 L413.7,47.3 L414.0,46.8 L414.0,46.0 L414.2,45.8 L414.3,45.3 L414.5,45.0 L414.6,44.7 L415.2,44.0 L415.6,44.0 L415.8,43.8 L418.3,43.8 L418.6,43.9 L419.1,44.0 L419.6,43.7 L420.6,43.7 L421.1,43.5 L421.8,43.5 L422.3,43.2 L422.8,43.2 L423.3,43.0 L424.1,43.0 L424.6,42.7 L425.1,42.7 L425.6,42.5 L426.3,42.5 L426.8,42.2 L427.6,42.2 L428.1,42.0 L428.8,42.0 L429.3,41.7 L430.1,41.7 L430.6,41.5 L431.3,41.5 L431.8,41.2 L432.8,41.2 L433.3,41.0 L434.8,41.0 L435.3,40.7 L436.6,40.7 L437.1,41.0 L437.7,41.0 L438.7,41.5 L440.1,42.9 L440.4,43.5 L440.4,44.0 L440.6,44.3 L440.6,45.3 L440.8,45.8 L440.8,47.3 L440.9,47.5 L441.1,47.8 L441.1,50.3 L440.9,50.5 L440.8,51.5 L440.6,51.8 L440.6,52.3 L440.1,52.8 L440.1,53.1 L439.9,53.3 L439.6,53.4 L438.9,54.0 L438.6,54.1 L437.8,54.6 L437.3,54.6 L437.1,54.8 L436.3,54.9 L436.1,55.1 L435.6,55.1 L435.3,55.3 L434.8,55.4 L434.6,55.6 L434.1,55.7 L433.9,55.8 L433.3,55.9 L433.1,56.1 L432.3,56.2 L432.1,56.4 L431.6,56.4 L431.3,56.6 L430.8,56.7 L430.6,56.9 L430.1,56.9 L429.6,57.1 L429.1,57.1 L428.6,57.4 L428.1,57.4 L427.6,57.6 L426.8,57.7 L426.6,57.9 L426.1,57.9 L425.6,58.1 L424.6,58.1 L424.1,58.4 L423.1,58.4 L422.6,58.6 L421.8,58.6 L421.3,58.9 L420.6,58.9 L420.1,59.1 L419.3,59.2 L418.8,59.4Z" fill="none" stroke="#666" stroke-width="0.5"/>
<path d="M418.8,59.1 L415.8,59.1 L415.6,58.9 L415.3,58.9 L414.5,58.0 L414.5,57.8 L414.2,57.5 L414.2,57.3 L414.0,57.0 L414.0,56.0 L413.7,55.8 L413.7,49.0 L414.0,48.8 L414.0,47.3 L414.3,47.0 L414.3,46.0 L414.5,45.8 L414.5,45.3 L414.8,45.0 L414.8,44.8 L415.3,44.3 L415.6,44.3 L415.8,44.0 L418.3,44.0 L418.6,44.3 L419.3,44.3 L419.6,44.0 L420.8,44.0 L421.1,43.8 L422.1,43.7 L422.3,43.5 L423.1,43.5 L423.3,43.2 L424.3,43.2 L424.6,43.0 L425.3,43.0 L425.6,42.7 L426.6,42.7 L426.8,42.5 L427.8,42.5 L428.1,42.2 L429.1,42.2 L429.3,42.0 L430.3,42.0 L430.6,41.7 L431.6,41.7 L431.8,41.5 L433.1,41.5 L433.3,41.2 L435.1,41.2 L435.3,41.0 L436.6,41.0 L436.8,41.3 L437.6,41.3 L437.8,41.5 L438.1,41.5 L438.3,41.8 L438.6,41.8 L439.8,43.0 L439.8,43.3 L440.1,43.5 L440.1,44.0 L440.3,44.3 L440.3,45.5 L440.6,45.8 L440.6,47.5 L440.8,47.8 L440.8,50.3 L440.6,50.5 L440.6,51.5 L440.3,51.8 L440.3,52.3 L439.8,52.8 L439.8,53.1 L439.6,53.1 L438.8,53.8 L438.6,53.8 L438.3,54.1 L438.1,54.1 L437.8,54.3 L437.3,54.3 L437.1,54.6 L436.3,54.6 L436.1,54.8 L435.6,54.8 L435.3,55.1 L434.8,55.1 L434.6,55.3 L434.1,55.3 L433.8,55.6 L433.3,55.6 L433.1,55.8 L432.3,55.8 L432.1,56.1 L431.6,56.1 L431.3,56.3 L430.8,56.3 L430.6,56.6 L429.8,56.6 L429.6,56.8 L428.8,56.8 L428.6,57.1 L427.8,57.1 L427.6,57.3 L426.8,57.3 L426.6,57.6 L425.8,57.6 L425.6,57.8 L424.3,57.8 L424.1,58.1 L422.8,58.1 L422.6,58.3 L421.6,58.4 L421.3,58.6 L420.3,58.6 L420.1,58.9 L419.1,58.9 L418.8,59.1Z" fill="none" stroke="#888" stroke-width="0.45"/>
<path d="M418.6,58.7 L416.3,58.6 L416.1,58.6 L415.5,58.3 L415.0,57.8 L414.5,56.8 L414.4,56.0 L414.2,55.5 L414.1,52.8 L414.2,49.5 L414.5,48.8 L414.5,47.8 L414.7,47.3 L414.8,46.3 L415.0,46.0 L415.1,45.5 L415.6,44.9 L416.3,44.6 L417.8,44.5 L418.3,44.7 L419.3,44.8 L419.8,44.5 L420.8,44.5 L421.3,44.3 L422.3,44.2 L422.6,44.0 L423.3,43.9 L423.6,43.8 L424.6,43.7 L424.8,43.5 L425.6,43.4 L425.8,43.3 L426.6,43.2 L427.1,43.0 L427.8,43.0 L428.3,42.8 L429.1,42.7 L429.6,42.5 L430.6,42.4 L430.8,42.3 L431.6,42.2 L432.1,42.0 L433.1,41.9 L433.8,41.7 L435.1,41.7 L435.8,41.5 L437.3,41.8 L438.3,42.3 L439.3,43.3 L439.8,44.5 L439.8,45.5 L440.1,46.1 L440.1,47.5 L440.3,48.3 L440.3,49.8 L440.1,50.3 L440.0,51.0 L439.7,52.0 L439.3,52.5 L438.6,53.2 L437.6,53.7 L436.6,54.0 L436.1,54.1 L434.3,54.7 L433.8,54.9 L433.6,55.0 L433.1,55.1 L432.8,55.3 L432.1,55.4 L431.1,55.8 L430.6,55.9 L430.3,56.0 L428.6,56.4 L428.3,56.6 L427.6,56.6 L427.3,56.8 L426.6,56.9 L426.3,57.1 L425.6,57.1 L425.3,57.3 L424.3,57.3 L423.8,57.5 L422.6,57.6 L422.3,57.8 L421.3,57.9 L421.1,58.1 L420.3,58.2 L419.8,58.4 L419.1,58.4 L418.6,58.7Z" fill="none" stroke="#888" stroke-width="0.45"/>
<path d="M418.3,57.8 L417.1,57.8 L416.6,57.7 L416.1,57.4 L415.5,56.5 L415.0,55.0 L414.8,52.3 L415.1,49.8 L415.8,48.1 L416.8,46.9 L417.6,46.6 L421.1,45.8 L424.1,44.9 L426.3,44.4 L428.3,44.0 L432.3,42.9 L433.8,42.6 L436.1,42.6 L437.2,43.0 L437.6,43.3 L438.1,43.9 L438.3,44.3 L438.5,45.0 L438.6,46.3 L438.4,47.3 L437.9,48.3 L437.3,49.1 L436.3,50.2 L434.2,52.0 L432.9,53.0 L431.1,54.0 L428.8,55.0 L425.8,55.8 L422.6,56.3 L419.6,57.5 L418.3,57.8Z" fill="none" stroke="#888" stroke-width="0.45"/>
<path d="M418.6,57.1 L418.1,57.2 L417.6,57.1 L417.1,57.0 L416.6,56.7 L416.2,56.3 L415.8,55.6 L415.5,55.0 L415.3,54.0 L415.3,52.0 L415.6,50.5 L416.1,49.3 L416.6,48.8 L417.1,48.4 L418.3,47.8 L421.1,47.2 L424.6,45.9 L428.8,45.0 L431.5,43.8 L433.0,43.3 L434.3,43.1 L435.6,43.3 L436.6,43.7 L437.1,44.3 L437.5,45.0 L437.5,46.0 L437.2,47.0 L436.8,47.8 L436.3,48.4 L435.6,49.1 L433.1,50.8 L430.8,52.5 L429.3,53.4 L427.3,54.2 L425.8,54.5 L423.3,54.7 L422.3,55.0 L421.6,55.3 L419.6,56.8 L418.6,57.1Z" fill="none" stroke="#888" stroke-width="0.45"/>
<path d="M418.6,56.1 L418.1,56.1 L417.6,56.0 L416.8,55.5 L416.3,54.8 L415.9,53.5 L415.9,52.3 L416.1,51.0 L416.7,50.0 L417.6,49.3 L418.6,49.0 L421.1,48.7 L421.8,48.4 L423.8,47.4 L424.8,47.0 L426.1,46.7 L428.3,46.4 L429.1,46.2 L430.1,45.7 L431.8,44.5 L433.1,44.0 L434.1,43.9 L434.8,43.9 L435.6,44.2 L436.2,44.8 L436.5,45.5 L436.5,46.3 L436.2,47.0 L435.6,47.8 L434.6,48.6 L431.8,50.0 L429.3,52.0 L427.8,52.7 L426.3,53.2 L425.1,53.4 L422.8,53.4 L422.1,53.5 L421.3,54.0 L419.6,55.6 L418.6,56.1Z" fill="none" stroke="#888" stroke-width="0.45"/>
<path d="M418.3,55.1 L417.8,55.0 L417.1,54.5 L416.8,54.0 L416.6,53.0 L416.6,52.3 L416.8,51.5 L417.2,50.8 L417.8,50.3 L418.6,50.1 L419.3,50.1 L420.1,50.3 L421.6,51.0 L421.8,50.9 L422.4,50.0 L423.2,49.3 L423.8,48.8 L424.8,48.3 L425.6,48.0 L426.6,47.8 L429.1,47.8 L429.8,47.7 L430.3,47.3 L431.8,45.5 L432.8,44.9 L433.6,44.7 L434.3,44.7 L434.8,44.8 L435.4,45.3 L435.6,45.8 L435.5,46.3 L435.2,47.0 L434.7,47.5 L434.1,47.9 L433.3,48.2 L431.1,48.6 L430.6,48.8 L428.7,50.8 L428.0,51.3 L427.3,51.7 L426.0,52.0 L424.6,52.1 L423.2,51.8 L421.8,51.2 L421.6,51.4 L420.4,53.3 L419.7,54.3 L419.1,54.8 L418.3,55.1Z" fill="none" stroke="#888" stroke-width="0.45"/>
<path d="M439.8,49.8 L439.3,49.3 L439.3,45.8 L439.1,45.5 L439.1,44.3 L438.8,44.0 L438.8,43.8 L438.1,43.0 L437.8,43.0 L437.3,42.5 L436.6,42.5 L436.3,42.3 L435.8,42.3 L435.6,42.5 L433.8,42.5 L433.6,42.3 L433.6,41.8 L433.8,41.6 L434.1,41.6 L434.3,41.3 L435.6,41.3 L435.8,41.1 L437.1,41.1 L437.3,41.3 L437.8,41.3 L438.1,41.6 L438.3,41.6 L438.8,42.1 L439.1,42.1 L440.0,43.0 L440.0,43.3 L440.3,43.5 L440.3,44.0 L440.5,44.3 L440.5,48.0 L440.3,48.3 L440.3,49.3 L439.8,49.8Z" fill="#555" stroke="#222" stroke-width="0.45"/>
<path d="M439.8,49.6 L439.5,49.3 L439.5,45.8 L439.3,45.5 L439.3,44.3 L439.0,44.0 L439.0,43.8 L438.1,42.8 L437.8,42.8 L437.3,42.3 L436.6,42.3 L436.3,42.1 L435.8,42.1 L435.6,42.3 L433.8,42.3 L433.8,41.8 L434.1,41.8 L434.3,41.5 L435.6,41.5 L435.8,41.3 L437.1,41.3 L437.3,41.5 L437.8,41.5 L438.1,41.8 L438.3,41.8 L438.8,42.3 L439.1,42.3 L439.8,43.0 L439.8,43.3 L440.1,43.5 L440.1,44.0 L440.3,44.3 L440.3,48.0 L440.1,48.3 L440.1,49.3 L439.8,49.6Z" fill="none" stroke="#222" stroke-width="0.45"/>
<path d="M478.4,36.9 L476.9,36.9 L476.2,36.5 L475.3,35.8 L474.8,34.8 L474.8,33.5 L475.4,32.3 L477.4,30.2 L478.4,29.6 L480.7,28.7 L481.2,28.7 L481.7,28.5 L482.2,28.4 L482.7,28.2 L483.7,28.2 L484.4,27.9 L486.2,27.9 L486.9,28.2 L487.7,28.2 L488.7,28.7 L489.3,29.3 L489.6,29.8 L489.6,31.1 L489.2,32.0 L488.5,33.0 L487.9,33.6 L486.9,34.3 L484.4,35.4 L483.7,35.6 L483.2,35.7 L481.9,36.1 L481.4,36.2 L480.9,36.4 L480.4,36.4 L479.9,36.6 L478.9,36.7 L478.4,36.9Z" fill="#d6d6d6" stroke="#444" stroke-width="0.5"/>
<path d="M478.2,36.0 L477.2,36.0 L476.9,35.7 L476.7,35.7 L476.0,35.0 L476.0,34.8 L475.7,34.5 L475.7,33.8 L476.0,33.5 L476.0,33.3 L476.2,33.0 L476.2,32.8 L478.2,30.9 L478.4,30.8 L478.9,30.4 L479.4,30.3 L479.7,30.1 L479.9,30.1 L480.2,29.9 L480.7,29.8 L480.9,29.6 L481.7,29.6 L481.9,29.4 L482.7,29.4 L482.9,29.1 L484.2,29.1 L484.4,28.9 L486.2,28.9 L486.4,29.1 L487.4,29.1 L487.7,29.4 L487.9,29.4 L488.6,30.1 L488.6,30.8 L488.4,31.1 L488.4,31.6 L487.9,32.0 L487.9,32.3 L487.6,32.5 L487.2,33.0 L486.9,33.0 L486.4,33.5 L486.2,33.5 L485.9,33.7 L485.7,33.8 L485.4,34.0 L484.9,34.0 L484.7,34.2 L484.4,34.3 L484.2,34.5 L483.7,34.5 L483.4,34.7 L482.7,34.8 L482.4,35.0 L481.9,35.0 L481.7,35.2 L480.9,35.3 L480.7,35.5 L479.9,35.5 L479.7,35.7 L478.4,35.7 L478.2,36.0Z" fill="none" stroke="#444" stroke-width="0.5"/>
<path d="M477.7,35.1 L476.9,34.8 L476.7,34.3 L476.7,34.0 L477.1,33.0 L478.4,31.7 L479.2,31.2 L481.4,30.3 L483.4,29.9 L484.4,29.8 L484.9,29.7 L485.7,29.7 L486.2,29.9 L486.9,30.0 L487.7,30.3 L487.7,30.6 L487.5,31.3 L487.0,32.0 L486.2,32.6 L485.2,33.2 L483.2,34.0 L482.4,34.1 L481.4,34.5 L479.2,34.9 L478.2,34.9 L477.7,35.1Z" fill="none" stroke="#666" stroke-width="0.4"/>
<path d="M481.4,33.6 L480.2,33.7 L479.4,33.6 L478.9,33.4 L478.8,33.3 L478.8,33.0 L479.1,32.5 L479.7,32.0 L480.6,31.6 L481.4,31.2 L482.7,31.0 L483.7,30.9 L484.8,31.1 L485.2,31.3 L485.2,31.6 L484.9,32.0 L483.9,32.7 L482.9,33.2 L481.4,33.6Z" fill="none" stroke="#666" stroke-width="0.4"/>
<path d="M486.2,61.2 L483.9,61.2 L475.2,61.2 L473.7,61.1 L472.9,60.7 L472.3,60.0 L471.7,58.8 L471.3,57.8 L471.3,57.0 L471.0,56.3 L471.0,54.3 L470.8,53.5 L470.8,48.8 L471.1,48.0 L471.1,46.3 L471.3,45.5 L471.4,45.0 L472.0,43.8 L472.2,43.5 L473.4,42.7 L475.7,42.7 L476.4,42.9 L477.4,42.9 L477.9,42.7 L478.7,42.7 L479.2,42.5 L479.9,42.4 L480.4,42.2 L481.2,42.2 L481.7,42.0 L482.7,41.9 L483.2,41.7 L483.9,41.7 L484.4,41.5 L485.4,41.4 L485.9,41.2 L486.7,41.2 L487.2,41.0 L487.9,40.9 L488.4,40.7 L489.2,40.7 L489.7,40.5 L490.4,40.4 L490.9,40.2 L491.7,40.2 L492.2,39.9 L493.4,39.9 L493.9,39.7 L497.2,39.7 L498.9,40.6 L500.2,41.5 L500.9,42.5 L501.3,43.5 L501.3,44.0 L501.6,44.5 L501.6,46.0 L501.8,46.8 L501.8,51.0 L501.6,51.8 L501.5,52.5 L501.2,53.5 L500.7,54.5 L498.4,56.8 L497.7,57.3 L493.7,59.3 L490.4,60.4 L489.9,60.4 L489.4,60.6 L488.9,60.7 L487.4,61.1 L486.7,61.2 L486.2,61.2Z" fill="#d2d2d2" stroke="#666" stroke-width="0.5"/>
<path d="M483.9,60.8 L477.4,60.9 L476.9,60.7 L475.4,60.7 L474.9,60.4 L474.2,60.4 L473.5,60.0 L472.9,59.4 L472.4,58.3 L472.4,58.0 L472.1,57.5 L472.1,56.8 L471.9,56.3 L471.9,54.0 L471.6,53.5 L471.7,48.8 L471.9,48.5 L471.9,48.3 L471.9,46.3 L472.1,46.0 L472.2,45.3 L472.6,44.5 L472.7,44.2 L472.9,44.0 L473.2,44.0 L473.7,43.5 L475.7,43.5 L475.9,43.7 L476.2,43.8 L477.7,43.8 L477.9,43.7 L478.2,43.5 L478.9,43.5 L479.2,43.5 L479.4,43.3 L480.2,43.3 L480.4,43.2 L480.7,43.0 L481.7,43.0 L481.9,42.8 L482.9,42.8 L483.2,42.7 L483.4,42.5 L484.4,42.4 L484.7,42.3 L485.7,42.3 L486.2,42.0 L486.9,42.0 L487.2,41.9 L487.4,41.8 L488.2,41.8 L488.4,41.7 L488.7,41.5 L489.4,41.5 L489.9,41.3 L490.7,41.3 L491.2,41.0 L492.2,40.9 L492.4,40.8 L493.7,40.7 L494.2,40.5 L496.9,40.5 L498.6,41.3 L498.9,41.7 L499.3,41.8 L499.7,42.2 L499.8,42.5 L500.2,43.0 L500.3,43.5 L500.5,43.8 L500.6,44.5 L500.7,44.8 L500.7,46.3 L501.0,46.8 L501.0,51.0 L500.8,51.3 L500.7,52.3 L500.5,52.5 L500.5,53.0 L500.0,53.8 L499.9,54.1 L498.0,56.0 L497.7,56.1 L497.3,56.5 L496.9,56.6 L496.8,56.8 L496.4,56.9 L496.3,57.0 L495.9,57.1 L495.8,57.3 L495.4,57.4 L495.3,57.5 L494.9,57.6 L494.8,57.8 L494.4,57.9 L494.3,58.0 L493.9,58.1 L493.2,58.6 L492.7,58.6 L492.4,58.8 L491.9,58.9 L491.7,59.1 L491.2,59.1 L491.0,59.3 L490.4,59.4 L490.2,59.6 L489.4,59.6 L489.2,59.8 L488.7,59.8 L488.4,59.9 L488.2,60.1 L487.4,60.1 L487.2,60.3 L486.2,60.4 L485.9,60.6 L484.4,60.6 L484.2,60.6 L483.9,60.8Z" fill="none" stroke="#666" stroke-width="0.5"/>
<path d="M483.9,60.6 L477.4,60.6 L477.2,60.4 L475.4,60.4 L475.2,60.1 L474.2,60.1 L473.9,59.9 L473.7,59.9 L473.1,59.3 L473.1,59.0 L472.9,58.8 L472.9,58.5 L472.6,58.3 L472.6,57.8 L472.4,57.5 L472.4,56.5 L472.1,56.3 L472.1,53.8 L471.9,53.5 L471.9,48.8 L472.2,48.5 L472.2,46.3 L472.4,46.0 L472.4,45.3 L472.7,45.0 L472.7,44.8 L472.9,44.5 L472.9,44.3 L473.2,44.3 L473.7,43.8 L475.7,43.8 L475.9,44.0 L477.9,44.0 L478.2,43.8 L479.2,43.8 L479.4,43.5 L480.4,43.5 L480.7,43.3 L481.7,43.3 L481.9,43.0 L483.2,43.0 L483.4,42.8 L484.4,42.8 L484.7,42.5 L485.9,42.5 L486.2,42.3 L487.2,42.3 L487.4,42.0 L488.4,42.0 L488.7,41.8 L489.7,41.8 L489.9,41.5 L490.9,41.5 L491.2,41.3 L492.2,41.3 L492.4,41.0 L493.9,41.0 L494.2,40.8 L496.9,40.8 L497.2,41.0 L497.4,41.0 L497.7,41.3 L497.9,41.3 L498.2,41.5 L498.4,41.5 L498.9,42.0 L499.2,42.0 L499.5,42.3 L499.5,42.5 L500.0,43.0 L500.0,43.5 L500.2,43.8 L500.2,44.5 L500.5,44.8 L500.5,46.5 L500.7,46.8 L500.7,51.0 L500.5,51.3 L500.5,52.3 L500.2,52.5 L500.2,53.0 L500.0,53.3 L500.0,53.5 L499.7,53.8 L499.7,54.0 L497.9,55.8 L497.7,55.8 L497.2,56.3 L496.9,56.3 L496.7,56.6 L496.4,56.6 L496.2,56.8 L495.9,56.8 L495.7,57.1 L495.4,57.1 L495.2,57.3 L494.9,57.3 L494.7,57.6 L494.4,57.6 L494.2,57.8 L493.9,57.8 L493.7,58.1 L493.4,58.1 L493.2,58.3 L492.7,58.3 L492.4,58.6 L491.9,58.6 L491.7,58.8 L491.2,58.8 L490.9,59.1 L490.4,59.1 L490.2,59.3 L489.4,59.3 L489.2,59.6 L488.4,59.6 L488.2,59.8 L487.4,59.8 L487.2,60.1 L486.2,60.1 L485.9,60.3 L484.2,60.3 L483.9,60.6Z" fill="none" stroke="#888" stroke-width="0.45"/>
<path d="M481.9,60.1 L477.7,60.2 L477.2,60.0 L475.7,59.9 L475.2,59.7 L474.4,59.6 L473.9,59.3 L473.7,59.0 L473.2,58.0 L473.1,57.5 L472.9,57.3 L472.9,56.5 L472.6,55.8 L472.6,53.8 L472.4,53.0 L472.4,49.3 L472.7,48.5 L472.7,46.8 L472.9,46.3 L473.0,45.5 L473.4,44.8 L473.9,44.4 L474.2,44.3 L475.2,44.3 L475.9,44.6 L478.2,44.5 L478.4,44.4 L479.4,44.3 L479.9,44.1 L480.7,44.0 L481.2,43.8 L481.9,43.8 L482.4,43.5 L483.2,43.5 L483.9,43.3 L484.7,43.2 L485.1,43.0 L486.2,43.0 L486.6,42.8 L487.4,42.7 L487.9,42.5 L488.7,42.5 L489.1,42.3 L489.7,42.3 L490.3,42.0 L491.2,42.0 L491.5,41.8 L492.4,41.7 L492.7,41.5 L493.9,41.5 L494.7,41.3 L496.7,41.3 L498.2,42.1 L498.4,42.3 L498.9,42.5 L499.4,43.3 L499.5,43.8 L499.7,44.0 L499.8,44.8 L500.0,45.3 L500.0,46.8 L500.2,47.3 L500.2,50.5 L500.0,51.0 L499.9,52.0 L499.6,52.8 L499.1,53.8 L497.7,55.2 L497.2,55.5 L496.9,55.7 L492.9,57.7 L489.9,58.7 L488.2,59.1 L487.7,59.3 L487.2,59.3 L486.7,59.5 L485.9,59.6 L485.4,59.8 L484.2,59.8 L483.4,60.0 L481.9,60.1Z" fill="none" stroke="#888" stroke-width="0.45"/>
<path d="M478.4,59.4 L477.9,59.4 L476.2,59.3 L474.9,58.8 L474.4,58.4 L473.9,57.0 L473.5,55.3 L473.5,52.8 L473.6,52.0 L473.9,51.0 L474.2,50.3 L474.7,49.5 L475.4,48.8 L476.9,47.9 L481.7,45.9 L484.2,45.2 L488.2,44.5 L488.9,44.3 L491.9,42.9 L493.2,42.6 L494.9,42.4 L496.2,42.5 L497.2,43.1 L497.9,43.8 L498.3,44.5 L498.5,45.5 L498.4,46.8 L497.9,47.9 L496.9,49.2 L494.9,51.0 L493.0,53.0 L491.9,54.0 L490.2,55.2 L488.2,56.2 L485.9,56.8 L482.0,57.5 L481.2,57.9 L479.9,58.8 L478.4,59.4Z" fill="none" stroke="#888" stroke-width="0.45"/>
<path d="M477.7,58.8 L476.9,58.8 L476.2,58.7 L475.2,58.0 L474.8,57.5 L474.5,56.8 L474.2,55.5 L474.1,54.0 L474.4,52.5 L474.9,51.3 L475.4,50.6 L475.9,50.2 L476.9,49.6 L479.2,48.8 L481.9,47.4 L483.2,47.0 L484.9,46.5 L487.7,46.2 L488.7,46.0 L489.4,45.6 L491.7,44.0 L493.2,43.3 L494.4,43.2 L495.4,43.3 L496.2,43.6 L497.0,44.3 L497.3,45.0 L497.4,45.8 L497.2,46.8 L496.7,47.7 L496.2,48.2 L495.4,48.8 L492.8,50.5 L490.9,52.5 L489.9,53.4 L488.2,54.5 L486.4,55.2 L484.9,55.5 L482.2,55.8 L481.4,56.0 L480.7,56.5 L478.9,58.3 L478.2,58.7 L477.7,58.8Z" fill="none" stroke="#888" stroke-width="0.45"/>
<path d="M477.7,57.8 L477.2,57.9 L476.7,57.9 L475.9,57.5 L475.4,56.8 L474.9,55.5 L474.9,54.3 L475.1,53.0 L475.7,51.9 L476.4,51.2 L477.4,50.7 L479.7,50.2 L482.4,48.6 L483.9,48.0 L485.7,47.7 L488.7,47.6 L489.4,47.4 L489.9,47.1 L491.7,45.0 L492.4,44.5 L493.2,44.2 L494.2,44.0 L494.9,44.1 L495.4,44.3 L496.0,44.8 L496.3,45.3 L496.4,46.0 L496.1,46.8 L495.7,47.4 L494.9,48.0 L494.2,48.5 L491.9,49.2 L491.2,49.5 L490.8,50.0 L489.6,51.8 L488.4,52.8 L486.9,53.7 L485.4,54.2 L483.9,54.4 L481.7,54.4 L480.9,54.6 L480.2,55.2 L478.7,57.1 L478.2,57.6 L477.7,57.8Z" fill="none" stroke="#888" stroke-width="0.45"/>
<path d="M493.7,47.6 L492.9,47.7 L492.4,47.5 L492.1,47.3 L492.0,47.0 L491.9,46.5 L492.3,45.8 L492.8,45.3 L493.7,44.9 L494.4,44.9 L494.9,45.2 L495.2,45.5 L495.3,45.8 L495.3,46.3 L495.0,46.8 L494.7,47.1 L494.2,47.4 L493.7,47.6Z" fill="none" stroke="#888" stroke-width="0.45"/>
<path d="M484.9,53.1 L483.9,53.1 L483.2,53.0 L482.3,52.8 L481.8,52.5 L481.5,52.3 L481.3,51.8 L481.6,51.0 L482.2,50.3 L482.8,49.8 L483.7,49.3 L484.5,49.0 L485.4,48.9 L486.4,48.9 L487.2,49.0 L487.9,49.4 L488.3,49.8 L488.4,50.3 L488.2,51.0 L487.9,51.5 L487.3,52.0 L486.5,52.5 L485.7,52.9 L484.9,53.1Z" fill="none" stroke="#888" stroke-width="0.45"/>
<path d="M477.2,56.8 L476.7,56.8 L476.4,56.6 L476.1,56.3 L475.9,55.8 L475.6,54.8 L475.8,53.5 L476.2,52.8 L476.9,52.1 L477.7,51.9 L478.7,52.0 L479.3,52.3 L479.5,52.5 L479.7,53.0 L479.5,53.8 L479.0,55.0 L478.4,56.0 L477.9,56.5 L477.2,56.8Z" fill="none" stroke="#888" stroke-width="0.45"/>
<path d="M499.9,53.0 L499.7,53.0 L499.2,52.5 L499.2,45.0 L499.0,44.8 L499.0,44.0 L498.7,43.8 L498.7,43.5 L497.9,42.8 L497.7,42.8 L497.4,42.5 L497.2,42.5 L496.9,42.3 L496.2,42.3 L495.9,42.0 L493.9,42.0 L493.7,42.3 L493.4,42.0 L492.7,42.0 L492.5,41.8 L492.5,41.3 L492.7,41.1 L493.2,41.1 L493.4,40.8 L494.4,40.8 L494.7,40.6 L496.4,40.6 L496.7,40.8 L497.2,40.8 L497.4,41.1 L497.9,41.1 L498.2,41.3 L498.4,41.3 L498.7,41.6 L498.9,41.6 L499.9,42.5 L499.9,42.8 L500.2,43.0 L500.2,43.5 L500.4,43.8 L500.4,45.5 L500.7,45.8 L500.7,48.0 L500.4,48.3 L500.4,51.8 L500.2,52.0 L500.2,52.8 L499.9,53.0Z" fill="#555" stroke="#222" stroke-width="0.45"/>
<path d="M499.9,52.8 L499.7,52.8 L499.4,52.5 L499.4,45.0 L499.2,44.8 L499.2,44.0 L498.9,43.8 L498.9,43.5 L497.9,42.6 L497.7,42.6 L497.4,42.3 L497.2,42.3 L496.9,42.1 L496.2,42.1 L495.9,41.8 L493.9,41.8 L493.7,42.1 L493.4,41.8 L492.7,41.8 L492.7,41.3 L493.2,41.3 L493.4,41.0 L494.4,41.0 L494.7,40.8 L496.4,40.8 L496.7,41.0 L497.2,41.0 L497.4,41.3 L497.9,41.3 L498.2,41.5 L498.4,41.5 L498.7,41.8 L498.9,41.8 L499.7,42.5 L499.7,42.8 L500.0,43.0 L500.0,43.5 L500.2,43.8 L500.2,45.5 L500.5,45.8 L500.5,48.0 L500.2,48.3 L500.2,51.8 L500.0,52.0 L499.9,52.8Z" fill="none" stroke="#222" stroke-width="0.45"/>
<path d="M371.2,134.5 L368.2,134.5 L366.3,134.5 L365.8,134.2 L365.2,133.7 L364.8,132.8 L364.4,132.2 L364.3,131.0 L364.1,130.5 L364.1,128.8 L363.8,128.0 L363.8,119.2 L364.1,118.5 L364.1,115.2 L364.3,114.5 L364.3,112.5 L364.6,111.8 L364.6,110.5 L364.8,109.8 L364.8,108.5 L365.0,108.0 L365.1,107.0 L365.3,106.8 L365.4,105.8 L366.4,103.8 L367.3,102.8 L368.5,102.1 L368.8,102.1 L371.2,102.1 L372.5,102.8 L373.0,103.2 L373.5,103.5 L373.6,103.8 L374.1,104.8 L374.2,105.2 L374.6,106.2 L375.0,108.0 L375.1,108.2 L375.2,109.5 L375.4,110.0 L375.5,111.2 L375.7,111.8 L375.7,113.5 L375.9,114.2 L375.9,117.2 L376.2,118.0 L376.2,125.0 L375.9,125.8 L375.9,127.8 L375.7,128.2 L375.6,129.5 L375.5,129.8 L375.4,130.5 L375.2,130.8 L375.1,131.2 L374.5,132.5 L373.7,133.2 L373.2,133.5 L372.8,133.9 L371.8,134.4 L371.2,134.5Z" fill="#f3f3f3" stroke="#d0d0d0" stroke-width="0.4"/>
<path d="M368.8,134.5 L368.4,134.5 L368.2,134.0 L368.0,133.9 L367.5,133.8 L366.5,133.2 L366.2,133.0 L365.8,132.0 L365.5,131.8 L365.4,130.8 L365.2,130.0 L365.2,128.2 L364.9,127.5 L364.9,119.8 L365.2,119.0 L365.2,115.8 L365.4,115.0 L365.4,113.0 L365.7,112.2 L365.7,111.0 L365.9,110.2 L365.9,109.0 L366.2,108.2 L366.2,107.5 L366.4,107.0 L366.5,106.2 L367.5,104.2 L368.0,103.8 L369.0,103.2 L370.5,103.2 L370.8,103.2 L371.8,103.7 L372.8,104.8 L373.0,105.2 L373.4,106.5 L373.5,106.8 L373.6,107.5 L373.8,107.8 L373.9,108.5 L374.0,108.8 L374.1,109.8 L374.3,110.5 L374.3,111.5 L374.6,112.2 L374.6,114.0 L374.8,114.8 L374.8,117.8 L375.1,118.5 L375.1,124.5 L374.8,125.2 L374.8,127.2 L374.6,128.0 L374.5,129.0 L374.4,129.2 L374.3,130.0 L374.1,130.2 L374.0,130.8 L373.5,131.8 L373.0,132.2 L372.5,132.5 L372.2,132.8 L370.8,133.5 L370.2,133.6 L370.0,133.8 L369.2,133.9 L369.0,134.0 L368.8,134.5Z" fill="none" stroke="#d0d0d0" stroke-width="0.4"/>
<path d="M362.0,134.5 L361.2,134.5 L360.0,134.5 L358.2,134.4 L357.6,134.0 L356.6,133.0 L356.3,131.8 L356.3,129.8 L356.5,129.0 L356.5,127.8 L356.7,127.2 L356.7,125.5 L357.0,124.8 L356.9,122.5 L356.7,121.8 L356.7,118.0 L356.5,117.2 L356.5,110.5 L356.8,110.1 L357.2,109.6 L358.0,109.5 L359.5,108.8 L361.2,108.9 L362.5,109.6 L363.1,110.2 L363.5,111.0 L363.7,112.0 L363.7,117.5 L363.5,118.2 L363.5,121.2 L363.3,121.8 L363.3,122.8 L363.1,123.5 L363.0,124.8 L362.8,125.2 L362.8,128.0 L363.0,128.5 L363.0,129.2 L363.2,129.8 L363.2,130.2 L363.5,130.8 L363.5,133.0 L363.4,133.5 L362.7,134.2 L362.2,134.5 L362.0,134.5Z" fill="#ececec" stroke="#1a1a1a" stroke-width="0.55"/>
<path d="M361.5,134.0 L361.2,134.1 L360.0,134.2 L359.5,133.9 L358.8,133.9 L358.5,133.8 L358.0,133.5 L357.2,132.7 L357.1,132.2 L356.9,131.8 L356.9,129.8 L357.1,129.2 L357.1,128.0 L357.4,127.5 L357.4,125.5 L357.6,125.0 L357.6,122.2 L357.4,121.8 L357.4,117.8 L357.1,117.2 L357.1,110.8 L357.5,110.2 L357.8,110.1 L358.2,110.1 L359.5,109.6 L361.0,109.6 L362.2,110.2 L362.5,110.5 L362.8,111.0 L362.9,111.5 L363.1,112.0 L363.1,117.5 L362.9,118.0 L362.9,121.0 L362.6,121.5 L362.6,122.8 L362.4,123.2 L362.4,124.5 L362.2,125.0 L362.2,128.2 L362.4,128.8 L362.4,129.5 L362.6,130.0 L362.6,130.5 L362.9,131.0 L362.9,133.0 L362.8,133.2 L362.2,133.8 L361.5,134.0Z" fill="none" stroke="#1a1a1a" stroke-width="0.55"/>
<path d="M361.0,133.5 L360.2,133.5 L359.8,133.3 L359.0,133.3 L358.5,133.0 L357.8,132.2 L357.7,131.8 L357.5,131.5 L357.5,130.0 L357.7,129.5 L357.7,128.2 L358.0,127.8 L357.9,125.8 L358.1,125.2 L358.1,122.0 L357.9,121.5 L357.9,117.5 L357.7,117.0 L357.8,111.0 L358.0,110.8 L358.8,110.7 L359.0,110.5 L359.5,110.4 L359.8,110.2 L360.8,110.2 L361.8,110.8 L362.0,111.0 L362.2,111.5 L362.3,112.0 L362.5,112.2 L362.5,117.2 L362.3,117.8 L362.3,120.8 L362.1,121.2 L362.1,122.5 L361.9,123.0 L361.9,124.2 L361.7,124.8 L361.6,128.5 L361.8,129.0 L361.8,129.8 L362.0,130.2 L362.0,130.8 L362.2,131.2 L362.2,132.8 L361.8,133.2 L361.2,133.3 L361.0,133.5Z" fill="none" stroke="#888" stroke-width="0.4"/>
<path d="M360.0,128.9 L359.8,128.8 L359.5,128.4 L359.1,126.8 L358.8,121.2 L359.0,118.8 L359.2,116.5 L359.5,115.5 L359.8,115.1 L360.0,115.0 L360.2,115.1 L360.5,115.5 L360.8,116.5 L361.2,120.2 L361.2,122.2 L360.7,126.2 L360.5,127.8 L360.2,128.5 L360.0,128.9Z" fill="none" stroke="#888" stroke-width="0.4"/>
<path d="M379.8,134.3 L379.0,134.4 L378.2,134.3 L377.8,134.2 L376.6,133.0 L376.5,132.2 L376.3,131.8 L376.2,129.5 L376.0,128.8 L376.0,124.5 L376.2,123.8 L376.2,122.8 L375.9,122.0 L376.0,110.5 L376.4,109.2 L377.5,108.1 L378.0,107.9 L379.0,107.9 L379.5,107.6 L381.0,107.6 L381.5,107.5 L382.0,107.5 L382.8,107.7 L383.8,107.8 L384.2,107.9 L385.2,108.9 L385.5,109.2 L385.5,112.5 L385.2,113.2 L385.2,114.8 L385.0,115.2 L385.0,117.0 L384.7,117.8 L384.7,119.5 L384.5,120.0 L384.5,122.5 L384.3,123.2 L384.5,123.8 L384.5,125.2 L384.7,125.8 L384.7,126.5 L385.0,127.0 L385.0,127.5 L385.2,128.0 L385.2,128.8 L385.5,129.2 L385.5,132.0 L385.4,132.5 L384.9,133.2 L383.5,134.0 L380.0,134.2 L379.8,134.3Z" fill="#ececec" stroke="#1a1a1a" stroke-width="0.55"/>
<path d="M379.5,133.6 L379.2,133.7 L378.2,133.6 L378.0,133.5 L377.2,132.8 L377.1,132.5 L377.1,132.0 L376.9,131.5 L376.9,129.2 L376.6,128.8 L376.6,124.5 L376.8,124.0 L376.8,122.5 L376.6,122.0 L376.6,110.5 L376.9,110.0 L377.0,109.5 L377.8,108.7 L378.0,108.6 L379.2,108.6 L379.8,108.3 L381.2,108.4 L381.8,108.1 L382.0,108.1 L382.5,108.4 L383.8,108.4 L384.0,108.5 L384.8,109.3 L384.8,109.5 L384.8,112.5 L384.6,113.0 L384.6,114.5 L384.4,115.0 L384.4,117.0 L384.1,117.5 L384.1,119.2 L383.9,119.8 L383.9,122.5 L383.6,123.0 L383.6,123.5 L383.9,124.0 L383.9,125.5 L384.1,126.0 L384.1,126.8 L384.4,127.2 L384.4,127.8 L384.6,128.2 L384.6,129.0 L384.8,129.5 L384.8,132.0 L384.5,132.8 L383.2,133.4 L379.8,133.4 L379.5,133.6Z" fill="none" stroke="#1a1a1a" stroke-width="0.55"/>
<path d="M379.0,133.0 L378.5,133.0 L377.8,132.2 L377.8,131.8 L377.5,131.2 L377.5,129.0 L377.2,128.5 L377.2,124.8 L377.4,124.2 L377.4,122.2 L377.2,121.8 L377.3,110.8 L377.4,110.5 L377.5,110.0 L378.2,109.2 L379.5,109.2 L380.0,109.0 L381.8,108.9 L383.5,109.1 L384.2,109.8 L384.2,112.0 L384.2,112.2 L384.0,112.8 L384.0,114.2 L383.7,114.8 L383.7,116.8 L383.5,117.2 L383.5,119.0 L383.3,119.5 L383.3,122.2 L383.0,122.8 L383.0,123.8 L383.3,124.2 L383.3,125.8 L383.5,126.2 L383.5,127.0 L383.7,127.5 L383.8,128.2 L383.9,128.5 L384.0,129.2 L384.2,129.8 L384.2,131.8 L383.8,132.2 L383.0,132.7 L379.5,132.8 L379.0,133.0Z" fill="none" stroke="#888" stroke-width="0.4"/>
<path d="M380.0,128.1 L379.5,127.8 L379.2,127.4 L378.8,126.0 L378.6,125.2 L378.3,121.0 L378.4,118.2 L378.8,116.0 L379.2,114.6 L379.5,114.2 L380.0,113.9 L380.5,114.2 L380.8,114.5 L381.3,116.0 L381.7,118.2 L381.8,121.0 L381.6,124.8 L381.2,126.2 L380.8,127.5 L380.5,127.8 L380.0,128.1Z" fill="none" stroke="#888" stroke-width="0.4"/>
<path d="M384.8,133.2 L384.2,133.2 L384.0,133.0 L384.0,132.8 L383.8,132.5 L383.8,131.2 L383.5,131.0 L383.5,129.2 L383.3,129.0 L383.3,126.2 L383.0,126.0 L383.0,122.5 L383.3,122.2 L383.3,118.8 L383.5,118.5 L383.5,114.5 L383.8,114.2 L383.8,110.0 L383.5,109.8 L383.5,109.0 L383.8,108.8 L384.5,108.8 L385.0,109.2 L385.0,109.8 L385.2,110.0 L385.2,111.0 L385.0,111.2 L385.0,114.2 L384.7,114.5 L384.7,116.8 L384.5,117.0 L384.5,119.5 L384.2,119.8 L384.2,122.0 L384.0,122.2 L384.0,126.0 L384.2,126.2 L384.2,127.5 L384.5,127.8 L384.5,128.8 L384.7,129.0 L384.7,130.2 L385.0,130.5 L385.0,131.8 L385.2,132.0 L385.0,132.2 L385.0,133.0 L384.8,133.2Z" fill="#444" stroke="#222" stroke-width="0.45"/>
<path d="M384.8,133.0 L384.2,133.0 L384.2,132.8 L384.0,132.5 L384.0,131.2 L383.7,131.0 L383.7,129.2 L383.5,129.0 L383.5,126.2 L383.2,126.0 L383.2,122.5 L383.5,122.2 L383.5,118.8 L383.7,118.5 L383.7,114.5 L384.0,114.2 L384.0,110.0 L383.7,109.8 L383.8,109.0 L384.5,109.0 L384.8,109.2 L384.8,109.8 L385.0,110.0 L385.0,111.0 L384.8,111.2 L384.8,114.2 L384.5,114.5 L384.5,116.8 L384.3,117.0 L384.3,119.5 L384.0,119.8 L384.0,122.0 L383.8,122.2 L383.8,126.0 L384.0,126.2 L384.0,127.5 L384.3,127.8 L384.3,128.8 L384.5,129.0 L384.5,130.2 L384.8,130.5 L384.8,131.8 L385.0,132.0 L384.8,132.2 L384.8,133.0Z" fill="none" stroke="#222" stroke-width="0.45"/>
<path d="M418.6,131.0 L417.6,131.2 L416.4,131.2 L415.1,131.0 L414.1,130.6 L413.2,130.0 L412.5,129.2 L412.0,128.5 L411.9,127.8 L411.9,126.8 L412.3,126.0 L412.8,125.2 L414.4,123.8 L414.6,123.0 L414.4,122.2 L413.2,119.2 L413.0,118.2 L412.9,117.0 L413.1,115.2 L414.1,111.9 L414.4,110.5 L414.4,109.7 L414.1,108.8 L413.1,107.2 L412.7,106.2 L412.5,105.2 L412.5,104.2 L413.0,103.0 L413.9,102.0 L414.4,101.6 L415.1,101.2 L416.6,100.9 L417.6,100.9 L418.9,101.3 L419.9,101.8 L420.6,102.5 L421.4,103.8 L421.9,105.7 L422.1,106.2 L422.6,106.8 L423.8,107.8 L424.5,108.5 L425.0,109.2 L425.8,111.0 L426.1,111.5 L426.6,111.9 L428.4,112.7 L429.1,113.4 L429.6,114.0 L430.4,115.5 L430.6,116.5 L430.7,117.5 L430.7,119.2 L430.2,121.5 L430.1,122.2 L430.3,123.0 L430.8,125.0 L430.9,126.2 L430.6,127.5 L429.9,128.6 L429.1,129.3 L428.4,129.6 L427.6,129.9 L426.9,129.9 L426.1,129.8 L425.4,129.6 L423.4,128.4 L422.9,128.3 L422.4,128.5 L421.1,129.7 L420.4,130.3 L419.6,130.7 L418.6,131.0Z" fill="#e6e6e6" stroke="#333" stroke-width="0.5"/>
<path d="M417.6,130.3 L416.9,130.3 L415.9,130.2 L415.1,130.0 L414.4,129.6 L413.5,128.8 L413.3,128.2 L413.1,127.5 L413.2,126.8 L413.7,126.0 L414.4,125.3 L415.9,124.2 L416.1,124.0 L416.2,123.5 L416.2,123.0 L415.9,122.2 L414.7,120.0 L414.2,119.0 L414.0,118.2 L413.9,117.2 L413.9,116.2 L414.1,115.5 L415.4,112.2 L415.8,110.0 L415.8,109.2 L415.6,108.5 L414.3,107.0 L413.8,106.2 L413.6,105.2 L413.6,104.5 L414.0,103.5 L414.6,102.7 L415.6,102.1 L416.9,101.9 L417.9,102.0 L418.6,102.3 L419.4,102.8 L419.8,103.2 L420.1,103.8 L420.4,104.5 L420.7,106.2 L420.9,106.9 L421.2,107.2 L422.6,108.4 L423.3,109.0 L423.8,109.8 L424.1,110.5 L424.1,111.8 L423.7,112.8 L423.1,113.5 L421.1,114.8 L420.6,115.4 L420.5,116.0 L420.5,116.8 L420.7,117.2 L421.0,117.8 L421.4,118.1 L422.1,118.3 L422.9,118.4 L423.4,118.2 L423.6,118.0 L424.0,117.5 L424.7,115.8 L425.1,114.9 L425.6,114.4 L426.4,114.0 L427.1,114.0 L427.9,114.3 L428.5,114.8 L429.0,115.5 L429.5,116.8 L429.6,118.2 L429.4,119.5 L428.8,121.5 L428.7,122.2 L428.9,123.0 L429.7,124.8 L429.8,125.8 L429.7,126.8 L429.5,127.2 L429.1,127.8 L428.6,128.3 L428.1,128.6 L427.1,128.8 L426.1,128.7 L425.2,128.2 L424.7,127.8 L423.6,126.5 L423.1,126.1 L422.6,125.9 L422.1,126.0 L421.6,126.5 L420.9,128.2 L420.1,129.2 L419.1,129.8 L418.4,130.1 L417.6,130.3Z" fill="none" stroke="#333" stroke-width="0.5"/>
<path d="M418.1,107.8 L417.1,107.6 L416.1,107.1 L415.4,106.5 L415.0,106.0 L414.8,105.2 L414.8,104.5 L415.3,103.8 L415.9,103.2 L416.6,103.0 L417.6,103.1 L418.5,103.5 L419.1,104.2 L419.3,105.0 L419.2,106.0 L418.6,107.4 L418.4,107.7 L418.1,107.8Z" fill="none" stroke="#666" stroke-width="0.4"/>
<path d="M420.9,124.5 L419.6,124.6 L419.1,124.5 L418.9,124.3 L418.1,123.2 L417.0,121.0 L415.5,119.0 L415.1,118.2 L415.0,117.5 L415.0,116.5 L415.3,115.5 L415.6,114.8 L416.7,113.5 L416.9,113.0 L417.1,111.0 L417.4,109.9 L418.1,108.5 L418.4,108.3 L418.6,108.2 L420.1,108.5 L421.4,109.0 L422.2,109.8 L422.5,110.2 L422.6,110.8 L422.6,111.2 L422.5,111.8 L422.0,112.5 L421.4,113.0 L419.6,114.0 L419.2,114.5 L419.1,115.2 L419.4,117.5 L419.6,118.2 L419.9,118.8 L420.4,119.2 L420.9,119.4 L425.1,120.7 L425.7,117.8 L426.0,117.0 L426.4,116.5 L426.9,116.3 L427.4,116.4 L427.9,117.0 L428.1,117.8 L428.1,118.3 L428.0,119.0 L427.8,119.5 L427.4,120.1 L426.6,120.6 L426.1,120.8 L425.4,120.8 L425.2,121.0 L424.8,122.8 L424.6,123.2 L424.2,123.5 L423.0,124.0 L420.9,124.5Z" fill="none" stroke="#666" stroke-width="0.4"/>
<path d="M427.1,127.5 L426.6,127.5 L426.0,127.2 L425.5,126.8 L425.2,126.2 L425.0,125.5 L425.0,124.5 L425.2,124.0 L425.3,123.8 L425.6,123.6 L426.1,123.5 L426.6,123.6 L427.4,123.9 L428.1,124.5 L428.5,125.2 L428.6,126.0 L428.4,126.8 L427.9,127.3 L427.1,127.5Z" fill="none" stroke="#666" stroke-width="0.4"/>
<path d="M417.6,129.3 L416.4,129.3 L415.4,128.9 L414.7,128.2 L414.5,127.8 L414.5,127.2 L414.7,126.8 L414.9,126.4 L415.4,126.0 L415.9,125.7 L417.4,125.2 L418.6,125.2 L419.1,125.5 L419.5,126.0 L419.7,126.8 L419.7,127.5 L419.4,128.2 L418.9,128.7 L418.4,129.0 L417.6,129.3Z" fill="none" stroke="#666" stroke-width="0.4"/>
<path d="M417.6,106.3 L417.1,106.4 L416.6,106.3 L416.2,106.0 L415.9,105.7 L415.7,105.2 L415.8,104.8 L416.0,104.2 L416.4,104.0 L416.9,103.9 L417.4,103.9 L417.9,104.2 L418.2,104.5 L418.3,105.0 L418.3,105.5 L418.0,106.0 L417.6,106.3Z" fill="none" stroke="#666" stroke-width="0.4"/>
<path d="M419.9,112.6 L419.1,112.6 L418.6,112.4 L418.4,112.0 L418.2,111.5 L418.3,110.8 L418.5,110.2 L419.1,109.8 L419.6,109.6 L420.4,109.7 L421.0,110.0 L421.4,110.5 L421.5,111.0 L421.4,111.5 L421.0,112.0 L420.6,112.3 L419.9,112.6Z" fill="none" stroke="#666" stroke-width="0.4"/>
<path d="M417.9,119.3 L417.4,119.3 L416.6,118.9 L416.1,118.2 L415.8,117.5 L415.8,116.8 L416.0,116.0 L416.6,115.3 L417.1,115.1 L417.6,115.2 L417.9,115.5 L418.2,116.0 L418.4,116.8 L418.4,117.8 L418.3,118.5 L418.1,119.0 L417.9,119.3Z" fill="none" stroke="#666" stroke-width="0.4"/>
<path d="M421.6,123.3 L420.9,123.4 L420.4,123.3 L419.9,123.2 L419.4,122.8 L419.0,122.2 L418.8,121.8 L418.8,121.2 L418.9,120.8 L419.1,120.5 L419.4,120.4 L420.6,120.4 L421.8,120.8 L422.6,121.2 L422.8,121.8 L422.8,122.2 L422.7,122.5 L422.2,123.0 L421.6,123.3Z" fill="none" stroke="#666" stroke-width="0.4"/>
<path d="M417.4,128.5 L416.9,128.5 L416.4,128.4 L415.7,128.0 L415.6,127.8 L415.6,127.2 L415.9,126.7 L416.4,126.4 L417.1,126.3 L417.9,126.4 L418.4,126.8 L418.6,127.2 L418.5,127.8 L418.0,128.2 L417.4,128.5Z" fill="none" stroke="#666" stroke-width="0.4"/>
<path d="M437.6,132.3 L437.1,132.4 L434.4,132.4 L432.9,131.6 L432.1,130.8 L431.4,129.8 L430.5,127.2 L430.5,126.5 L430.3,126.0 L430.2,124.8 L430.0,124.0 L430.0,120.8 L430.3,120.0 L430.3,119.5 L430.5,119.0 L430.6,118.5 L431.3,116.5 L431.3,116.0 L431.5,115.5 L431.5,114.8 L431.3,114.2 L431.3,113.8 L431.0,113.0 L430.6,112.0 L430.1,110.5 L430.1,108.2 L430.8,106.8 L431.9,105.7 L432.4,105.4 L433.1,104.8 L435.4,103.5 L439.1,102.1 L440.6,101.6 L441.1,101.5 L441.6,101.3 L442.6,101.3 L443.1,101.1 L443.6,101.1 L444.1,101.1 L444.6,101.3 L445.4,101.4 L446.6,101.9 L447.7,103.0 L448.1,103.8 L448.5,104.8 L448.5,113.5 L448.3,114.2 L448.2,116.5 L448.0,117.0 L448.0,117.8 L447.8,118.2 L447.7,118.8 L447.3,119.8 L447.1,120.2 L446.5,121.2 L446.0,121.8 L445.7,122.2 L445.0,123.0 L444.7,123.5 L444.3,124.0 L443.8,124.8 L441.3,129.8 L439.9,131.1 L438.9,131.8 L437.6,132.3Z" fill="#e6e6e6" stroke="#1a1a1a" stroke-width="0.55"/>
<path d="M437.4,131.6 L437.1,131.7 L434.6,131.7 L433.4,131.1 L432.6,130.2 L432.4,129.8 L432.1,129.5 L432.0,129.0 L431.7,128.5 L431.7,128.2 L431.5,127.8 L431.5,127.5 L431.2,127.0 L431.2,126.2 L431.0,125.8 L431.0,124.5 L430.7,124.0 L430.7,120.8 L431.0,120.2 L431.0,119.8 L431.2,119.2 L431.3,118.8 L432.0,116.8 L432.0,116.2 L432.3,115.8 L432.3,114.5 L432.0,114.0 L432.0,113.5 L431.8,113.0 L431.8,112.8 L431.3,111.8 L431.3,111.5 L431.0,111.0 L431.0,110.8 L430.8,110.2 L430.8,108.5 L431.4,107.2 L432.4,106.2 L432.9,106.0 L433.4,105.5 L435.6,104.2 L436.1,104.1 L436.9,103.7 L437.4,103.6 L437.9,103.3 L438.1,103.3 L438.6,103.1 L438.9,103.1 L439.4,102.8 L439.6,102.8 L440.9,102.3 L441.4,102.3 L441.9,102.1 L442.9,102.1 L443.4,101.8 L443.9,101.8 L444.4,102.1 L445.1,102.1 L445.6,102.3 L446.1,102.4 L447.2,103.5 L447.8,105.0 L447.8,113.5 L447.5,114.0 L447.5,116.2 L447.3,116.8 L447.3,117.5 L447.0,118.0 L447.0,118.5 L446.5,119.5 L446.4,120.0 L446.1,120.3 L445.9,120.8 L445.4,121.3 L445.2,121.8 L444.4,122.5 L444.2,123.0 L443.7,123.5 L443.5,124.0 L443.1,124.4 L440.7,129.2 L439.4,130.6 L439.0,130.8 L438.6,131.1 L437.4,131.6Z" fill="none" stroke="#1a1a1a" stroke-width="0.55"/>
<path d="M437.1,131.0 L436.9,131.1 L434.9,131.1 L433.6,130.5 L433.2,130.0 L432.5,129.0 L432.5,128.8 L431.7,126.8 L431.7,126.0 L431.5,125.5 L431.5,124.2 L431.2,123.8 L431.3,121.0 L431.5,120.5 L431.5,120.0 L431.8,119.5 L431.8,119.0 L432.5,117.0 L432.5,116.5 L432.8,116.0 L432.8,114.2 L432.5,113.8 L432.5,113.2 L432.3,112.8 L432.3,112.5 L431.8,111.5 L431.8,111.2 L431.5,110.8 L431.5,110.5 L431.3,110.0 L431.3,108.8 L431.9,107.5 L432.6,106.8 L433.1,106.5 L433.7,106.0 L436.1,104.6 L436.4,104.6 L437.4,104.1 L437.6,104.1 L439.6,103.3 L439.9,103.3 L440.1,103.1 L440.6,103.1 L441.1,102.8 L441.6,102.8 L442.1,102.6 L443.1,102.6 L443.6,102.3 L444.1,102.6 L444.9,102.6 L445.9,103.0 L446.6,103.8 L447.0,104.5 L447.0,104.8 L447.3,105.2 L447.3,113.2 L447.0,113.8 L447.0,116.0 L446.8,116.5 L446.8,117.2 L446.5,117.8 L446.5,118.2 L446.0,119.2 L446.0,119.5 L445.6,120.0 L445.4,120.5 L444.9,121.0 L444.6,121.5 L443.9,122.2 L443.6,122.7 L443.1,123.3 L442.9,123.8 L442.6,124.0 L441.5,126.5 L440.2,129.0 L439.1,130.1 L438.7,130.2 L438.4,130.6 L437.6,130.9 L437.1,131.0Z" fill="none" stroke="#777" stroke-width="0.4"/>
<path d="M441.4,115.0 L440.6,115.2 L439.9,115.1 L439.1,114.8 L438.5,114.2 L437.9,113.5 L437.5,112.5 L437.3,111.5 L437.2,110.5 L437.3,109.5 L437.6,108.2 L438.1,107.2 L438.6,106.5 L439.4,105.8 L440.1,105.3 L440.9,105.0 L441.6,105.0 L442.4,105.1 L442.9,105.3 L443.4,105.7 L443.9,106.2 L444.3,107.0 L444.5,107.8 L444.7,109.5 L444.5,111.2 L444.2,112.2 L443.8,113.0 L443.2,113.8 L442.6,114.3 L442.1,114.7 L441.4,115.0Z" fill="none" stroke="#777" stroke-width="0.4"/>
<path d="M437.6,128.3 L436.9,128.4 L436.1,128.3 L435.4,128.0 L434.9,127.6 L434.3,127.0 L433.9,126.2 L433.6,125.2 L433.4,124.5 L433.4,123.5 L433.5,122.8 L433.7,122.0 L434.1,121.2 L434.7,120.5 L435.4,120.0 L436.1,119.6 L436.9,119.5 L437.6,119.5 L438.1,119.7 L438.9,120.1 L439.4,120.5 L439.8,121.0 L440.2,121.8 L440.5,122.5 L440.6,123.2 L440.6,124.0 L440.4,125.0 L439.6,126.6 L439.1,127.3 L438.6,127.8 L437.6,128.3Z" fill="none" stroke="#777" stroke-width="0.4"/>
<path d="M441.4,112.6 L440.6,112.7 L439.9,112.4 L439.3,111.8 L439.1,111.2 L439.0,110.5 L439.2,109.2 L439.6,108.2 L440.4,107.5 L441.1,107.3 L441.9,107.4 L442.4,107.8 L442.8,108.5 L443.0,109.5 L442.9,110.5 L442.6,111.3 L442.1,112.0 L441.4,112.6Z" fill="none" stroke="#777" stroke-width="0.4"/>
<path d="M437.4,126.3 L436.6,126.3 L435.9,126.0 L435.3,125.2 L435.0,124.2 L435.1,123.2 L435.5,122.5 L436.1,121.9 L436.9,121.6 L437.6,121.8 L438.3,122.2 L438.8,123.0 L439.0,123.8 L438.9,124.5 L438.6,125.3 L438.1,125.9 L437.4,126.3Z" fill="none" stroke="#777" stroke-width="0.4"/>
<path d="M447.1,117.4 L447.0,117.2 L447.0,116.8 L446.7,116.5 L446.7,106.8 L446.5,106.5 L446.5,105.8 L446.2,105.5 L446.2,105.0 L445.1,103.9 L444.9,103.9 L444.6,103.7 L444.1,103.7 L443.9,103.4 L440.4,103.4 L440.1,103.7 L439.1,103.7 L438.9,103.9 L438.4,103.9 L438.1,104.2 L437.6,104.2 L437.4,104.4 L437.1,104.4 L436.9,104.7 L436.6,104.7 L436.1,105.2 L435.9,105.2 L435.6,105.4 L435.4,105.4 L434.9,105.9 L434.6,105.9 L434.4,106.2 L433.9,106.2 L433.6,106.4 L433.4,106.4 L433.1,106.2 L432.9,106.2 L432.7,106.0 L432.7,105.8 L433.4,105.1 L433.6,105.1 L434.1,104.6 L434.4,104.6 L434.6,104.3 L434.9,104.3 L435.1,104.1 L435.4,104.1 L435.6,103.8 L435.9,103.8 L436.1,103.6 L436.4,103.6 L436.6,103.3 L437.1,103.3 L437.4,103.1 L437.9,103.1 L438.1,102.8 L438.9,102.8 L439.1,102.6 L440.1,102.6 L440.4,102.3 L442.9,102.3 L443.1,102.1 L443.4,102.3 L444.6,102.3 L444.9,102.6 L445.4,102.6 L445.6,102.8 L445.9,102.8 L447.1,104.0 L447.1,104.2 L447.3,104.5 L447.3,105.0 L447.6,105.2 L447.6,106.5 L447.8,106.8 L447.8,113.2 L447.6,113.5 L447.6,116.8 L447.3,117.0 L447.3,117.2 L447.1,117.4Z" fill="#666" stroke="#333" stroke-width="0.45"/>
<path d="M482.3,131.5 L481.1,131.5 L478.6,131.1 L475.6,131.1 L474.1,130.8 L472.8,130.3 L471.8,129.6 L471.1,128.8 L470.7,127.8 L470.6,126.8 L470.9,125.8 L471.3,125.0 L472.3,123.5 L472.5,123.0 L472.6,122.5 L472.4,121.8 L471.7,120.0 L471.2,118.8 L471.0,117.5 L470.9,116.5 L470.9,115.2 L471.1,114.0 L471.4,113.0 L472.1,111.2 L472.1,110.2 L471.9,109.5 L471.0,108.0 L470.7,107.2 L470.5,106.2 L470.5,105.5 L470.8,104.5 L471.4,103.5 L472.3,102.7 L473.6,102.1 L474.6,101.9 L475.8,101.9 L476.8,102.2 L477.8,102.7 L482.3,106.3 L483.1,107.2 L483.7,108.5 L483.9,109.2 L483.9,110.2 L483.6,111.8 L483.0,113.0 L481.4,114.8 L481.2,115.2 L481.2,115.5 L481.4,116.0 L483.2,117.8 L483.7,118.5 L484.0,119.2 L484.3,120.0 L484.4,121.0 L484.3,122.0 L484.0,123.5 L484.0,124.0 L484.2,124.5 L485.1,125.8 L485.6,126.5 L485.9,127.5 L485.9,128.2 L485.7,129.0 L485.5,129.5 L484.8,130.4 L483.8,131.1 L483.1,131.4 L482.3,131.5Z" fill="#e0e0e0" stroke="#2a2a2a" stroke-width="0.55"/>
<path d="M482.6,130.5 L481.3,130.6 L478.6,130.0 L476.1,130.1 L474.8,130.0 L473.8,129.6 L473.1,129.1 L472.5,128.5 L472.1,127.8 L472.0,127.0 L472.1,126.0 L472.6,125.2 L474.0,123.5 L474.2,122.8 L473.9,121.8 L472.9,120.0 L472.4,118.8 L472.0,117.5 L471.9,116.5 L471.9,115.2 L472.2,114.0 L472.5,113.0 L473.6,111.1 L473.7,110.2 L473.4,109.5 L471.9,107.5 L471.7,106.8 L471.6,105.8 L471.9,104.8 L472.3,104.1 L473.1,103.4 L473.8,103.1 L474.6,102.9 L475.6,102.9 L476.6,103.2 L477.3,103.6 L478.1,104.2 L479.6,105.6 L481.6,107.2 L482.2,108.0 L482.5,108.8 L482.7,109.5 L482.7,110.2 L482.6,111.0 L482.3,111.8 L481.8,112.5 L481.3,113.0 L479.3,114.4 L479.1,114.8 L479.0,115.2 L479.0,115.8 L479.3,116.3 L479.8,116.8 L481.1,117.6 L481.8,118.2 L482.3,118.8 L482.7,119.5 L483.0,120.2 L483.0,121.2 L482.9,122.2 L482.4,123.8 L482.3,124.2 L482.6,124.8 L484.2,126.2 L484.5,126.8 L484.8,127.5 L484.8,128.5 L484.3,129.5 L483.6,130.1 L482.6,130.5Z" fill="none" stroke="#2a2a2a" stroke-width="0.55"/>
<path d="M481.8,129.5 L481.1,129.4 L479.1,128.7 L478.3,128.8 L476.6,129.0 L475.3,129.0 L474.6,128.7 L474.1,128.4 L473.7,128.0 L473.4,127.5 L473.3,127.0 L473.4,126.5 L473.8,125.8 L474.6,125.0 L476.0,124.0 L476.3,123.5 L476.2,123.0 L475.8,122.0 L473.5,118.5 L473.1,117.5 L473.0,116.5 L473.0,115.2 L473.3,114.2 L473.9,113.2 L475.2,111.8 L475.4,111.2 L475.5,110.8 L475.5,110.0 L475.3,109.5 L474.9,109.0 L473.3,107.5 L473.0,107.0 L472.8,106.5 L472.8,105.8 L473.0,105.0 L473.6,104.4 L474.3,104.1 L474.8,104.0 L475.6,104.0 L476.3,104.2 L476.8,104.5 L477.3,105.0 L478.6,106.5 L480.6,108.0 L481.1,108.6 L481.3,109.2 L481.4,109.8 L481.4,110.5 L480.9,111.5 L480.1,112.3 L478.3,113.0 L477.8,113.3 L477.5,113.8 L477.4,114.8 L477.6,116.2 L478.1,117.3 L478.6,117.8 L480.1,118.5 L480.7,119.0 L481.1,119.5 L481.5,120.2 L481.6,121.2 L481.3,122.2 L480.8,123.1 L479.7,124.2 L479.6,124.8 L479.8,125.2 L480.1,125.5 L480.5,125.8 L482.3,126.3 L483.0,126.8 L483.4,127.2 L483.6,128.0 L483.3,128.8 L482.8,129.2 L482.3,129.4 L481.8,129.5Z" fill="none" stroke="#555" stroke-width="0.45"/>
<path d="M479.3,111.5 L478.6,111.7 L478.1,111.6 L477.7,111.5 L477.3,111.2 L477.0,110.8 L476.7,109.2 L476.4,108.8 L476.1,108.4 L474.5,107.5 L473.8,106.8 L473.6,106.0 L473.8,105.5 L474.1,105.2 L474.6,104.9 L475.1,104.8 L475.6,104.8 L476.1,105.0 L476.8,105.8 L477.5,107.0 L477.8,107.4 L479.6,108.5 L480.1,108.9 L480.4,109.8 L480.3,110.5 L480.0,111.0 L479.3,111.5Z" fill="none" stroke="#555" stroke-width="0.45"/>
<path d="M478.8,122.8 L478.1,122.6 L477.3,122.0 L475.9,119.8 L474.6,118.3 L474.1,117.5 L473.8,116.5 L473.8,115.5 L474.2,114.5 L474.8,114.0 L475.3,113.8 L475.6,113.8 L476.1,114.3 L476.4,115.2 L476.9,117.8 L477.3,118.4 L477.8,118.8 L479.6,119.5 L480.1,119.9 L480.3,120.2 L480.5,121.0 L480.3,121.8 L479.6,122.5 L478.8,122.8Z" fill="none" stroke="#555" stroke-width="0.45"/>
<path d="M477.1,128.1 L476.3,128.2 L475.8,128.2 L475.3,128.0 L474.8,127.8 L474.6,127.4 L474.4,127.0 L474.5,126.5 L474.7,126.2 L475.3,125.7 L476.1,125.4 L476.8,125.4 L477.6,125.7 L478.1,126.2 L478.3,126.8 L478.3,127.0 L478.1,127.5 L477.7,127.8 L477.1,128.1Z" fill="none" stroke="#555" stroke-width="0.45"/>
<path d="M482.1,128.3 L481.6,128.4 L481.2,128.2 L480.9,128.0 L480.8,127.8 L480.9,127.5 L481.3,127.3 L481.6,127.3 L482.1,127.5 L482.2,127.8 L482.3,128.0 L482.1,128.3Z" fill="none" stroke="#555" stroke-width="0.45"/>
<path d="M487.8,122.8 L487.3,122.9 L486.6,122.9 L485.8,122.6 L485.3,122.2 L484.8,121.8 L484.3,121.0 L484.0,120.0 L483.9,119.2 L484.0,117.8 L484.8,115.0 L484.8,112.2 L484.6,110.9 L483.7,109.0 L483.4,108.2 L483.3,107.2 L483.3,106.2 L483.8,105.0 L484.6,103.9 L485.6,103.2 L486.8,102.9 L487.8,103.0 L488.8,103.4 L489.6,104.0 L490.1,104.8 L490.6,105.8 L491.3,108.0 L492.7,110.8 L493.0,111.8 L493.1,112.8 L493.0,114.0 L492.7,115.2 L492.2,116.2 L490.8,118.2 L489.7,121.0 L489.3,121.7 L488.8,122.2 L487.8,122.8Z" fill="#e6e6e6" stroke="#444" stroke-width="0.5"/>
<path d="M487.3,121.6 L486.6,121.5 L485.8,121.1 L485.3,120.5 L485.0,119.5 L484.9,118.8 L485.0,118.0 L485.3,117.2 L485.9,116.0 L486.1,115.2 L486.0,111.5 L485.8,110.5 L484.9,109.0 L484.6,108.2 L484.4,107.0 L484.5,106.0 L485.1,105.0 L485.6,104.6 L486.1,104.3 L487.1,104.1 L487.8,104.2 L488.3,104.5 L488.8,104.9 L489.3,105.5 L489.7,106.5 L490.1,108.8 L491.6,111.2 L491.8,112.0 L491.9,113.0 L491.8,114.0 L491.4,115.0 L490.9,115.8 L489.9,117.0 L489.6,117.5 L489.1,119.5 L488.9,120.2 L488.3,121.0 L487.8,121.4 L487.3,121.6Z" fill="none" stroke="#444" stroke-width="0.5"/>
<path d="M489.3,115.3 L488.8,115.5 L488.3,115.5 L488.1,115.3 L487.7,114.8 L487.3,113.8 L487.2,112.8 L487.4,111.8 L487.8,110.2 L487.8,110.0 L486.3,108.9 L485.8,108.3 L485.6,107.7 L485.4,107.0 L485.6,106.2 L486.1,105.7 L486.6,105.4 L487.1,105.3 L487.6,105.4 L488.1,105.7 L488.4,106.2 L488.6,106.8 L488.7,107.5 L488.4,109.8 L488.5,110.0 L489.6,110.7 L490.1,111.2 L490.4,111.8 L490.6,112.2 L490.7,113.2 L490.5,114.0 L490.1,114.7 L489.3,115.3Z" fill="none" stroke="#777" stroke-width="0.4"/>
<path d="M487.3,120.0 L486.8,120.1 L486.6,119.9 L486.2,119.5 L486.1,119.0 L486.1,118.5 L486.3,118.0 L486.8,117.5 L487.3,117.2 L487.6,117.3 L487.8,117.5 L488.0,118.0 L488.1,118.5 L488.0,119.0 L487.9,119.5 L487.6,119.9 L487.3,120.0Z" fill="none" stroke="#777" stroke-width="0.4"/>
<path d="M499.1,128.1 L495.6,128.1 L494.8,127.9 L494.3,127.8 L492.6,127.0 L491.7,126.2 L490.8,124.8 L490.7,124.2 L490.2,123.2 L490.2,122.8 L489.7,121.5 L489.7,120.8 L489.2,119.2 L489.2,118.5 L488.9,117.8 L488.9,117.0 L488.7,116.5 L488.7,113.8 L488.9,113.2 L489.1,112.5 L489.7,111.2 L491.8,109.2 L493.3,108.1 L493.8,107.6 L495.5,106.5 L496.3,106.1 L496.8,105.7 L498.3,105.0 L500.6,104.2 L501.1,104.1 L501.8,103.9 L504.1,103.9 L505.3,104.5 L506.1,105.2 L506.6,106.2 L506.9,107.0 L506.9,107.8 L507.1,108.2 L507.2,116.5 L506.9,117.2 L506.9,118.2 L506.7,119.0 L506.7,120.0 L506.2,121.5 L506.1,122.0 L505.7,123.0 L505.6,123.2 L505.3,124.0 L504.6,125.0 L503.6,126.1 L502.6,126.7 L500.8,127.6 L500.1,127.8 L499.6,127.9 L499.1,128.1Z" fill="#e2e2e2" stroke="#111" stroke-width="0.6"/>
<path d="M499.1,127.3 L498.8,127.4 L495.6,127.4 L495.1,127.1 L494.6,127.1 L494.3,127.0 L492.8,126.3 L492.3,125.8 L491.5,124.5 L491.4,124.0 L490.9,123.0 L490.9,122.5 L490.4,121.2 L490.4,120.5 L490.2,120.0 L490.2,119.5 L489.9,119.0 L489.9,118.2 L489.7,117.8 L489.7,116.8 L489.4,116.2 L489.4,114.0 L489.7,113.5 L489.7,113.0 L490.3,111.8 L492.3,109.7 L492.7,109.5 L493.3,108.9 L493.8,108.7 L494.3,108.2 L494.7,108.0 L495.8,107.2 L496.7,106.8 L497.1,106.4 L498.6,105.7 L499.1,105.6 L499.8,105.2 L500.3,105.1 L500.8,104.9 L501.3,104.9 L501.8,104.6 L503.8,104.6 L505.1,105.2 L505.6,105.8 L506.2,107.2 L506.2,108.0 L506.4,108.5 L506.4,116.5 L506.2,117.0 L506.2,118.2 L506.0,118.8 L506.0,119.8 L505.7,120.2 L505.7,120.8 L505.5,121.2 L505.4,121.8 L504.9,122.8 L504.8,123.2 L504.1,124.5 L503.1,125.5 L502.6,125.8 L502.3,126.0 L500.6,126.9 L500.3,126.9 L499.8,127.1 L499.3,127.1 L499.1,127.3Z" fill="none" stroke="#111" stroke-width="0.6"/>
<path d="M498.6,126.9 L495.8,126.9 L495.3,126.6 L494.8,126.6 L493.1,125.8 L492.8,125.5 L491.9,124.0 L491.9,123.8 L491.4,122.8 L491.4,122.2 L490.9,121.0 L490.9,120.2 L490.7,119.8 L490.7,119.2 L490.4,118.8 L490.4,118.0 L490.2,117.5 L490.2,116.5 L489.9,116.0 L489.9,114.2 L490.2,113.8 L490.2,113.2 L490.8,112.0 L492.6,110.3 L493.0,110.0 L493.6,109.5 L494.0,109.2 L494.6,108.7 L495.0,108.5 L495.3,108.2 L495.7,108.0 L496.1,107.7 L497.0,107.2 L497.3,107.0 L499.1,106.1 L499.3,106.1 L500.3,105.6 L500.6,105.6 L501.1,105.4 L501.6,105.4 L502.1,105.1 L503.6,105.1 L504.8,105.8 L505.1,106.0 L505.4,106.8 L505.4,107.0 L505.7,107.5 L505.7,108.2 L505.9,108.8 L505.9,116.2 L505.7,116.8 L505.7,118.0 L505.4,118.5 L505.4,119.5 L505.2,120.0 L505.2,120.5 L504.9,121.0 L504.9,121.5 L504.5,122.2 L504.4,122.8 L504.2,123.2 L503.8,123.8 L503.5,124.2 L502.8,125.0 L502.3,125.2 L501.8,125.6 L500.3,126.4 L500.1,126.4 L499.6,126.6 L499.1,126.6 L498.6,126.9Z" fill="none" stroke="#666" stroke-width="0.4"/>
<path d="M500.1,120.0 L499.3,120.0 L498.6,119.8 L497.8,119.4 L497.1,118.8 L496.4,118.0 L496.0,117.2 L495.6,116.5 L495.3,115.5 L495.1,113.8 L495.2,112.8 L495.4,112.0 L495.9,111.2 L496.3,110.7 L496.8,110.4 L497.6,110.1 L498.3,110.0 L499.1,110.1 L499.8,110.4 L500.7,111.0 L501.3,111.7 L501.9,112.5 L502.4,113.5 L502.7,114.5 L502.9,115.5 L502.9,116.5 L502.7,117.5 L502.4,118.2 L502.1,118.9 L501.5,119.5 L500.8,119.9 L500.1,120.0Z" fill="none" stroke="#666" stroke-width="0.4"/>
<path d="M500.1,117.5 L499.3,117.7 L498.6,117.4 L497.8,116.8 L497.2,115.8 L496.9,114.8 L497.0,113.8 L497.3,113.0 L497.6,112.7 L498.1,112.4 L498.8,112.3 L499.6,112.6 L500.3,113.3 L500.8,114.2 L501.1,115.2 L501.0,116.2 L500.7,117.0 L500.1,117.5Z" fill="none" stroke="#666" stroke-width="0.4"/>
<path d="M505.8,120.2 L505.6,120.2 L505.4,120.0 L505.4,119.8 L505.1,119.5 L505.1,109.0 L504.9,108.8 L504.9,108.0 L504.6,107.8 L504.6,107.5 L504.4,107.2 L504.4,107.0 L504.1,106.7 L503.8,106.7 L503.6,106.4 L503.1,106.4 L502.8,106.2 L501.6,106.2 L501.3,106.4 L500.6,106.4 L500.3,106.7 L499.8,106.7 L499.6,106.9 L499.1,106.9 L498.8,107.2 L498.3,107.2 L498.1,107.4 L497.8,107.4 L497.6,107.7 L497.3,107.7 L496.8,108.2 L496.6,108.2 L494.1,110.7 L493.6,110.7 L493.3,110.9 L493.1,110.7 L492.8,110.7 L492.4,110.2 L492.4,110.0 L494.6,107.8 L494.8,107.8 L495.3,107.3 L495.6,107.3 L496.1,106.8 L496.3,106.8 L496.6,106.6 L497.1,106.6 L497.3,106.3 L497.6,106.3 L497.8,106.1 L498.3,106.1 L498.6,105.8 L499.1,105.8 L499.3,105.6 L500.1,105.6 L500.3,105.3 L501.1,105.3 L501.3,105.1 L502.3,105.1 L502.6,104.8 L503.8,104.8 L504.1,105.1 L504.6,105.1 L505.5,106.0 L505.5,106.2 L505.7,106.5 L505.7,107.0 L506.0,107.2 L506.0,109.0 L506.2,109.2 L506.2,118.0 L506.0,118.2 L506.0,120.0 L505.8,120.2Z" fill="#555" stroke="#222" stroke-width="0.5"/>
<path d="M498.1,133.3 L496.6,133.3 L495.1,133.2 L492.1,132.6 L489.1,131.6 L487.6,130.9 L486.6,130.2 L485.7,129.5 L485.1,128.8 L484.6,128.0 L484.3,127.0 L484.2,126.2 L484.2,125.2 L484.4,124.5 L485.0,123.5 L486.1,122.4 L486.8,121.9 L487.6,121.6 L489.1,121.2 L490.8,121.2 L491.8,121.4 L492.6,121.6 L493.3,122.0 L494.1,122.5 L495.0,123.5 L496.1,125.3 L496.4,125.8 L496.8,126.1 L497.6,126.4 L498.8,126.6 L499.8,126.5 L500.6,126.2 L502.3,125.1 L503.1,124.8 L503.8,124.7 L504.6,124.7 L505.3,124.9 L506.1,125.4 L506.6,125.8 L506.9,126.2 L507.2,127.0 L507.4,127.8 L507.5,128.5 L507.2,129.8 L506.7,130.5 L506.3,131.0 L505.3,131.7 L504.1,132.2 L500.6,132.9 L498.1,133.3Z" fill="#ececec" stroke="#555" stroke-width="0.45"/>
<path d="M498.6,132.0 L496.3,132.1 L494.1,131.8 L491.7,131.0 L489.6,130.1 L488.3,129.5 L487.1,128.5 L486.6,127.9 L486.2,127.2 L486.0,126.5 L485.9,125.8 L486.1,125.0 L486.4,124.5 L487.1,123.7 L488.1,123.0 L489.3,122.7 L490.6,122.6 L491.9,123.0 L493.0,123.8 L493.8,124.8 L494.5,126.2 L494.8,126.7 L495.3,127.2 L496.1,127.5 L498.8,127.9 L500.3,127.9 L501.1,127.6 L502.8,126.4 L503.8,126.1 L504.3,126.1 L504.8,126.3 L505.3,126.6 L505.6,127.0 L506.0,127.8 L505.9,128.8 L505.6,129.5 L504.9,130.2 L504.3,130.6 L503.6,130.8 L498.6,132.0Z" fill="none" stroke="#555" stroke-width="0.45"/>
<path d="M491.6,128.1 L490.8,128.2 L490.1,128.1 L489.3,127.9 L488.6,127.3 L488.1,126.8 L488.0,126.2 L488.1,125.5 L488.4,125.0 L489.1,124.5 L490.1,124.3 L490.9,124.5 L491.6,125.0 L492.1,125.8 L492.2,126.8 L492.1,127.6 L491.8,127.9 L491.6,128.1Z" fill="none" stroke="#888" stroke-width="0.4"/>
<path d="M497.3,130.3 L496.6,130.3 L496.0,130.2 L495.6,130.0 L495.5,129.8 L496.3,129.5 L497.3,129.6 L497.6,129.8 L497.7,130.0 L497.3,130.3Z" fill="none" stroke="#888" stroke-width="0.4"/>
<text x="6.8" y="19.8" font-size="10" text-anchor="start" font-weight="bold" fill="#111" style="stroke:#111;stroke-width:0.45">A</text>
<line x1="13.5" y1="32.3" x2="13.5" y2="172" stroke="#1a1a1a" stroke-width="1.1" />
<path d="M11.4,33.3 L13.5,28.3 L15.6,33.3 Z" fill="#1a1a1a"/>
<line x1="83" y1="32.3" x2="83" y2="172" stroke="#1a1a1a" stroke-width="1.1" />
<path d="M80.9,33.3 L83,28.3 L85.1,33.3 Z" fill="#1a1a1a"/>
<text transform="translate(16.2 181.2) rotate(-90) scale(0.63 1)" font-size="9.0" font-weight="bold" text-anchor="middle" fill="#222">CD5</text>
<text transform="translate(85.4 181.0) rotate(-90) scale(0.63 1)" font-size="9.0" font-weight="bold" text-anchor="middle" fill="#222">CD8</text>
<text transform="translate(46.4 204.0) scale(0.61 1)" font-size="9.0" font-weight="bold" text-anchor="middle" fill="#222">CD7</text>
<text transform="translate(115.8 204.3) scale(0.61 1)" font-size="9.0" font-weight="bold" text-anchor="middle" fill="#222">CD4</text>
<path d="M29.5,28.5 V70.5 H72.2 V28.5" fill="none" stroke="#b5b5b5" stroke-width="0.5"/>
<line x1="29.5" y1="28.5" x2="72.2" y2="28.5" stroke="#dddddd" stroke-width="0.5" />
<line x1="43.4" y1="28.5" x2="43.4" y2="70.5" stroke="#555" stroke-width="0.6" />
<line x1="29.5" y1="53.5" x2="72.2" y2="53.5" stroke="#555" stroke-width="0.6" />
<text x="27.9" y="31.5" font-size="4.0" text-anchor="end" fill="#444">10<tspan font-size="2.60" dy="-1.52">5</tspan></text>
<text x="27.9" y="42.2" font-size="4.0" text-anchor="end" fill="#444">10<tspan font-size="2.60" dy="-1.52">4</tspan></text>
<text x="27.9" y="52.4" font-size="4.0" text-anchor="end" fill="#444">10<tspan font-size="2.60" dy="-1.52">3</tspan></text>
<text x="27.9" y="62.6" font-size="4.0" text-anchor="end" fill="#444">10<tspan font-size="2.60" dy="-1.52">2</tspan></text>
<text x="27.3" y="68.60000000000001" font-size="4.0" text-anchor="end" fill="#444">0</text>
<text x="33.1" y="76.8" font-size="4.0" fill="#444">0 10<tspan font-size="2.6" dy="-1.5">2</tspan></text>
<text x="45.9" y="76.8" font-size="4.0" fill="#444">10<tspan font-size="2.6" dy="-1.5">3</tspan></text>
<text x="55.8" y="76.8" font-size="4.0" fill="#444">10<tspan font-size="2.6" dy="-1.5">4</tspan></text>
<text x="65.1" y="76.8" font-size="4.0" fill="#444">10<tspan font-size="2.6" dy="-1.5">5</tspan></text>
<text x="30.5" y="33.1" font-size="4.3" text-anchor="start" font-weight="normal" fill="#2a2a2a" >1.4</text>
<text x="71.2" y="33.1" font-size="4.3" text-anchor="end" font-weight="normal" fill="#2a2a2a" >24.6</text>
<text x="30.5" y="69.5" font-size="4.3" text-anchor="start" font-weight="normal" fill="#2a2a2a" >20.3</text>
<text x="71.2" y="69.5" font-size="4.3" text-anchor="end" font-weight="normal" fill="#2a2a2a" >43.7</text>
<path d="M98.7,28.5 V70.5 H140.8 V28.5" fill="none" stroke="#b5b5b5" stroke-width="0.5"/>
<line x1="98.7" y1="28.5" x2="140.8" y2="28.5" stroke="#dddddd" stroke-width="0.5" />
<line x1="115.7" y1="28.5" x2="115.7" y2="70.5" stroke="#555" stroke-width="0.6" />
<line x1="98.7" y1="54.7" x2="140.8" y2="54.7" stroke="#555" stroke-width="0.6" />
<text x="97.10000000000001" y="31.5" font-size="4.0" text-anchor="end" fill="#444">10<tspan font-size="2.60" dy="-1.52">5</tspan></text>
<text x="97.10000000000001" y="42.2" font-size="4.0" text-anchor="end" fill="#444">10<tspan font-size="2.60" dy="-1.52">4</tspan></text>
<text x="97.10000000000001" y="52.4" font-size="4.0" text-anchor="end" fill="#444">10<tspan font-size="2.60" dy="-1.52">3</tspan></text>
<text x="97.10000000000001" y="62.6" font-size="4.0" text-anchor="end" fill="#444">10<tspan font-size="2.60" dy="-1.52">2</tspan></text>
<text x="96.5" y="68.60000000000001" font-size="4.0" text-anchor="end" fill="#444">0</text>
<text x="102.3" y="76.8" font-size="4.0" fill="#444">0 10<tspan font-size="2.6" dy="-1.5">2</tspan></text>
<text x="115.1" y="76.8" font-size="4.0" fill="#444">10<tspan font-size="2.6" dy="-1.5">3</tspan></text>
<text x="125.0" y="76.8" font-size="4.0" fill="#444">10<tspan font-size="2.6" dy="-1.5">4</tspan></text>
<text x="134.3" y="76.8" font-size="4.0" fill="#444">10<tspan font-size="2.6" dy="-1.5">5</tspan></text>
<text x="99.7" y="33.1" font-size="4.3" text-anchor="start" font-weight="normal" fill="#2a2a2a" >5.48</text>
<text x="139.8" y="33.1" font-size="4.3" text-anchor="end" font-weight="normal" fill="#2a2a2a" >19.6</text>
<text x="99.7" y="69.5" font-size="4.3" text-anchor="start" font-weight="normal" fill="#2a2a2a" >65.9</text>
<text x="139.8" y="69.5" font-size="4.3" text-anchor="end" font-weight="normal" fill="#2a2a2a" >9.26</text>
<path d="M29.5,86 V128.6 H72.2 V86" fill="none" stroke="#b5b5b5" stroke-width="0.5"/>
<line x1="29.5" y1="86" x2="72.2" y2="86" stroke="#dddddd" stroke-width="0.5" />
<line x1="43.4" y1="86" x2="43.4" y2="128.6" stroke="#555" stroke-width="0.6" />
<line x1="29.5" y1="111.1" x2="72.2" y2="111.1" stroke="#555" stroke-width="0.6" />
<text x="27.9" y="89.0" font-size="4.0" text-anchor="end" fill="#444">10<tspan font-size="2.60" dy="-1.52">5</tspan></text>
<text x="27.9" y="99.7" font-size="4.0" text-anchor="end" fill="#444">10<tspan font-size="2.60" dy="-1.52">4</tspan></text>
<text x="27.9" y="109.9" font-size="4.0" text-anchor="end" fill="#444">10<tspan font-size="2.60" dy="-1.52">3</tspan></text>
<text x="27.9" y="120.1" font-size="4.0" text-anchor="end" fill="#444">10<tspan font-size="2.60" dy="-1.52">2</tspan></text>
<text x="27.3" y="126.10000000000001" font-size="4.0" text-anchor="end" fill="#444">0</text>
<text x="33.1" y="134.9" font-size="4.0" fill="#444">0 10<tspan font-size="2.6" dy="-1.5">2</tspan></text>
<text x="45.9" y="134.9" font-size="4.0" fill="#444">10<tspan font-size="2.6" dy="-1.5">3</tspan></text>
<text x="55.8" y="134.9" font-size="4.0" fill="#444">10<tspan font-size="2.6" dy="-1.5">4</tspan></text>
<text x="65.1" y="134.9" font-size="4.0" fill="#444">10<tspan font-size="2.6" dy="-1.5">5</tspan></text>
<text x="30.5" y="90.6" font-size="4.3" text-anchor="start" font-weight="normal" fill="#2a2a2a" >1.01</text>
<text x="71.2" y="90.6" font-size="4.3" text-anchor="end" font-weight="normal" fill="#2a2a2a" >6.06</text>
<text x="30.5" y="127.6" font-size="4.3" text-anchor="start" font-weight="normal" fill="#2a2a2a" >55.1</text>
<text x="71.2" y="127.6" font-size="4.3" text-anchor="end" font-weight="normal" fill="#2a2a2a" >37.8</text>
<path d="M98.7,86 V128.6 H140.8 V86" fill="none" stroke="#b5b5b5" stroke-width="0.5"/>
<line x1="98.7" y1="86" x2="140.8" y2="86" stroke="#dddddd" stroke-width="0.5" />
<line x1="114.9" y1="86" x2="114.9" y2="128.6" stroke="#555" stroke-width="0.6" />
<line x1="98.7" y1="112.6" x2="140.8" y2="112.6" stroke="#555" stroke-width="0.6" />
<text x="97.10000000000001" y="89.0" font-size="4.0" text-anchor="end" fill="#444">10<tspan font-size="2.60" dy="-1.52">5</tspan></text>
<text x="97.10000000000001" y="99.7" font-size="4.0" text-anchor="end" fill="#444">10<tspan font-size="2.60" dy="-1.52">4</tspan></text>
<text x="97.10000000000001" y="109.9" font-size="4.0" text-anchor="end" fill="#444">10<tspan font-size="2.60" dy="-1.52">3</tspan></text>
<text x="97.10000000000001" y="120.1" font-size="4.0" text-anchor="end" fill="#444">10<tspan font-size="2.60" dy="-1.52">2</tspan></text>
<text x="96.5" y="126.10000000000001" font-size="4.0" text-anchor="end" fill="#444">0</text>
<text x="102.3" y="134.9" font-size="4.0" fill="#444">0 10<tspan font-size="2.6" dy="-1.5">2</tspan></text>
<text x="115.1" y="134.9" font-size="4.0" fill="#444">10<tspan font-size="2.6" dy="-1.5">3</tspan></text>
<text x="125.0" y="134.9" font-size="4.0" fill="#444">10<tspan font-size="2.6" dy="-1.5">4</tspan></text>
<text x="134.3" y="134.9" font-size="4.0" fill="#444">10<tspan font-size="2.6" dy="-1.5">5</tspan></text>
<text x="99.7" y="90.6" font-size="4.3" text-anchor="start" font-weight="normal" fill="#2a2a2a" >6.06</text>
<text x="139.8" y="90.6" font-size="4.3" text-anchor="end" font-weight="normal" fill="#2a2a2a" >0.51</text>
<text x="99.7" y="127.6" font-size="4.3" text-anchor="start" font-weight="normal" fill="#2a2a2a" >80.2</text>
<text x="139.8" y="127.6" font-size="4.3" text-anchor="end" font-weight="normal" fill="#2a2a2a" >12.6</text>
<path d="M29.5,144 V186.5 H72.2 V144" fill="none" stroke="#b5b5b5" stroke-width="0.5"/>
<line x1="29.5" y1="144" x2="72.2" y2="144" stroke="#dddddd" stroke-width="0.5" />
<line x1="43.3" y1="144" x2="43.3" y2="186.5" stroke="#555" stroke-width="0.6" />
<line x1="29.5" y1="168.1" x2="72.2" y2="168.1" stroke="#555" stroke-width="0.6" />
<text x="27.9" y="147.0" font-size="4.0" text-anchor="end" fill="#444">10<tspan font-size="2.60" dy="-1.52">5</tspan></text>
<text x="27.9" y="157.7" font-size="4.0" text-anchor="end" fill="#444">10<tspan font-size="2.60" dy="-1.52">4</tspan></text>
<text x="27.9" y="167.9" font-size="4.0" text-anchor="end" fill="#444">10<tspan font-size="2.60" dy="-1.52">3</tspan></text>
<text x="27.9" y="178.1" font-size="4.0" text-anchor="end" fill="#444">10<tspan font-size="2.60" dy="-1.52">2</tspan></text>
<text x="27.3" y="184.1" font-size="4.0" text-anchor="end" fill="#444">0</text>
<text x="33.1" y="192.8" font-size="4.0" fill="#444">0 10<tspan font-size="2.6" dy="-1.5">2</tspan></text>
<text x="45.9" y="192.8" font-size="4.0" fill="#444">10<tspan font-size="2.6" dy="-1.5">3</tspan></text>
<text x="55.8" y="192.8" font-size="4.0" fill="#444">10<tspan font-size="2.6" dy="-1.5">4</tspan></text>
<text x="65.1" y="192.8" font-size="4.0" fill="#444">10<tspan font-size="2.6" dy="-1.5">5</tspan></text>
<text x="30.5" y="148.6" font-size="4.3" text-anchor="start" font-weight="normal" fill="#2a2a2a" >0.88</text>
<text x="71.2" y="148.6" font-size="4.3" text-anchor="end" font-weight="normal" fill="#2a2a2a" >4.42</text>
<text x="30.5" y="185.5" font-size="4.3" text-anchor="start" font-weight="normal" fill="#2a2a2a" >40.2</text>
<text x="71.2" y="185.5" font-size="4.3" text-anchor="end" font-weight="normal" fill="#2a2a2a" >54</text>
<path d="M98.7,144 V186.5 H140.8 V144" fill="none" stroke="#b5b5b5" stroke-width="0.5"/>
<line x1="98.7" y1="144" x2="140.8" y2="144" stroke="#dddddd" stroke-width="0.5" />
<line x1="115.1" y1="144" x2="115.1" y2="186.5" stroke="#555" stroke-width="0.6" />
<line x1="98.7" y1="169.8" x2="140.8" y2="169.8" stroke="#555" stroke-width="0.6" />
<text x="97.10000000000001" y="147.0" font-size="4.0" text-anchor="end" fill="#444">10<tspan font-size="2.60" dy="-1.52">5</tspan></text>
<text x="97.10000000000001" y="157.7" font-size="4.0" text-anchor="end" fill="#444">10<tspan font-size="2.60" dy="-1.52">4</tspan></text>
<text x="97.10000000000001" y="167.9" font-size="4.0" text-anchor="end" fill="#444">10<tspan font-size="2.60" dy="-1.52">3</tspan></text>
<text x="97.10000000000001" y="178.1" font-size="4.0" text-anchor="end" fill="#444">10<tspan font-size="2.60" dy="-1.52">2</tspan></text>
<text x="96.5" y="184.1" font-size="4.0" text-anchor="end" fill="#444">0</text>
<text x="102.3" y="192.8" font-size="4.0" fill="#444">0 10<tspan font-size="2.6" dy="-1.5">2</tspan></text>
<text x="115.1" y="192.8" font-size="4.0" fill="#444">10<tspan font-size="2.6" dy="-1.5">3</tspan></text>
<text x="125.0" y="192.8" font-size="4.0" fill="#444">10<tspan font-size="2.6" dy="-1.5">4</tspan></text>
<text x="134.3" y="192.8" font-size="4.0" fill="#444">10<tspan font-size="2.6" dy="-1.5">5</tspan></text>
<text x="99.7" y="148.6" font-size="4.3" text-anchor="start" font-weight="normal" fill="#2a2a2a" >5.31</text>
<text x="139.8" y="148.6" font-size="4.3" text-anchor="end" font-weight="normal" fill="#2a2a2a" >0.66</text>
<text x="99.7" y="185.5" font-size="4.3" text-anchor="start" font-weight="normal" fill="#2a2a2a" >85.7</text>
<text x="139.8" y="185.5" font-size="4.3" text-anchor="end" font-weight="normal" fill="#2a2a2a" >7.05</text>
<text transform="translate(150.9 51) rotate(-90)" font-size="6.2" text-anchor="middle" fill="#2a2a2a">WT</text>
<text transform="translate(150.9 108.5) rotate(-90)" font-size="6.2" text-anchor="middle" fill="#2a2a2a">C2<tspan font-size="3.6" dy="-2.3" fill="#777" style="stroke:none">−/−</tspan></text>
<text transform="translate(150.9 166) rotate(-90)" font-size="6.2" text-anchor="middle" fill="#2a2a2a">C3<tspan font-size="3.6" dy="-2.3" fill="#777" style="stroke:none">−/−</tspan></text>
<text x="167.6" y="19.7" font-size="10" text-anchor="start" font-weight="bold" fill="#111" style="stroke:#111;stroke-width:0.45">B</text>
<rect x="201.3" y="60.080000000000005" width="12.0" height="33.32" fill="#1a5596" stroke="none" stroke-width="1" />
<rect x="213.3" y="92.97160000000001" width="12.199999999999989" height="0.42839999999999634" fill="#959ec6" stroke="none" stroke-width="1" />
<rect x="225.5" y="93.1144" width="12.099999999999994" height="0.2856000000000023" fill="#cbcee7" stroke="none" stroke-width="1" />
<line x1="207.3" y1="49.370000000000005" x2="207.3" y2="60.080000000000005" stroke="#111" stroke-width="0.8" />
<line x1="204.70000000000002" y1="49.370000000000005" x2="209.9" y2="49.370000000000005" stroke="#111" stroke-width="0.9" />
<rect x="206.45" y="41.718" width="1.5" height="1.5" fill="#111" stroke="none" stroke-width="1" />
<rect x="205.25" y="62.900000000000006" width="1.5" height="1.5" fill="#111" stroke="none" stroke-width="1" />
<rect x="208.25" y="66.47" width="1.5" height="1.5" fill="#111" stroke="none" stroke-width="1" />
<rect x="206.25" y="69.802" width="1.5" height="1.5" fill="#111" stroke="none" stroke-width="1" />
<rect x="214.25" y="90.74600000000001" width="1.5" height="1.5" fill="#111" stroke="none" stroke-width="1" />
<rect x="216.25" y="89.79400000000001" width="1.5" height="1.5" fill="#111" stroke="none" stroke-width="1" />
<rect x="218.25" y="91.22200000000001" width="1.5" height="1.5" fill="#111" stroke="none" stroke-width="1" />
<rect x="220.25" y="90.27000000000001" width="1.5" height="1.5" fill="#111" stroke="none" stroke-width="1" />
<rect x="222.25" y="90.98400000000001" width="1.5" height="1.5" fill="#111" stroke="none" stroke-width="1" />
<rect x="219.25" y="89.31800000000001" width="1.5" height="1.5" fill="#111" stroke="none" stroke-width="1" />
<rect x="227.25" y="91.22200000000001" width="1.5" height="1.5" fill="#111" stroke="none" stroke-width="1" />
<rect x="229.25" y="90.50800000000001" width="1.5" height="1.5" fill="#111" stroke="none" stroke-width="1" />
<rect x="231.25" y="91.46000000000001" width="1.5" height="1.5" fill="#111" stroke="none" stroke-width="1" />
<rect x="233.25" y="90.74600000000001" width="1.5" height="1.5" fill="#111" stroke="none" stroke-width="1" />
<rect x="235.25" y="91.69800000000001" width="1.5" height="1.5" fill="#111" stroke="none" stroke-width="1" />
<rect x="230.25" y="89.79400000000001" width="1.5" height="1.5" fill="#111" stroke="none" stroke-width="1" />
<line x1="199.6" y1="33.3" x2="199.6" y2="93.9" stroke="#111" stroke-width="1.0" />
<line x1="199.1" y1="93.4" x2="239.4" y2="93.4" stroke="#111" stroke-width="1.0" />
<line x1="196.79999999999998" y1="93.4" x2="199.6" y2="93.4" stroke="#111" stroke-width="0.8" />
<text x="194.0" y="95.60000000000001" font-size="6.3" text-anchor="end" font-weight="normal" fill="#2a2a2a" >0</text>
<line x1="196.79999999999998" y1="81.5" x2="199.6" y2="81.5" stroke="#111" stroke-width="0.8" />
<text x="194.0" y="83.7" font-size="6.3" text-anchor="end" font-weight="normal" fill="#2a2a2a" >500</text>
<line x1="196.79999999999998" y1="69.60000000000001" x2="199.6" y2="69.60000000000001" stroke="#111" stroke-width="0.8" />
<text x="194.0" y="71.80000000000001" font-size="6.3" text-anchor="end" font-weight="normal" fill="#2a2a2a" >1000</text>
<line x1="196.79999999999998" y1="57.7" x2="199.6" y2="57.7" stroke="#111" stroke-width="0.8" />
<text x="194.0" y="59.900000000000006" font-size="6.3" text-anchor="end" font-weight="normal" fill="#2a2a2a" >1500</text>
<line x1="196.79999999999998" y1="45.800000000000004" x2="199.6" y2="45.800000000000004" stroke="#111" stroke-width="0.8" />
<text x="194.0" y="48.00000000000001" font-size="6.3" text-anchor="end" font-weight="normal" fill="#2a2a2a" >2000</text>
<line x1="196.79999999999998" y1="33.9" x2="199.6" y2="33.9" stroke="#111" stroke-width="0.8" />
<text x="194.0" y="36.1" font-size="6.3" text-anchor="end" font-weight="normal" fill="#2a2a2a" >2500</text>
<path d="M207.3,39.5 V35.9 H219.5 V86.4" fill="none" stroke="#5a5a5a" stroke-width="0.8"/>
<text x="213.4" y="36.3" font-size="6" font-weight="bold" text-anchor="middle" fill="#1a1a1a">****</text>
<path d="M207.3,28 V23.5 H231.5 V86.4" fill="none" stroke="#5a5a5a" stroke-width="0.8"/>
<text x="219.4" y="23.9" font-size="6" font-weight="bold" text-anchor="middle" fill="#1a1a1a">****</text>
<text transform="translate(174.5 60.7) rotate(-90) scale(0.9 1)" font-size="7.0" text-anchor="middle" fill="#2a2a2a" style="stroke-width:0.22">Total CD5<tspan font-size="4.20" dy="-2.52">+</tspan><tspan dy="2.52">CD7</tspan><tspan font-size="4.20" dy="-2.52">+</tspan></text>
<rect x="278.2" y="65.615" width="12.600000000000023" height="27.885000000000005" fill="#1a5596" stroke="none" stroke-width="1" />
<rect x="290.8" y="92.928" width="12.5" height="0.5720000000000027" fill="#959ec6" stroke="none" stroke-width="1" />
<rect x="303.3" y="93.214" width="12.699999999999989" height="0.28600000000000136" fill="#cbcee7" stroke="none" stroke-width="1" />
<line x1="284.5" y1="54.175" x2="284.5" y2="65.615" stroke="#111" stroke-width="0.8" />
<line x1="281.9" y1="54.175" x2="287.1" y2="54.175" stroke="#111" stroke-width="0.9" />
<rect x="283.85" y="48.705999999999996" width="1.5" height="1.5" fill="#111" stroke="none" stroke-width="1" />
<rect x="282.25" y="67.00999999999999" width="1.5" height="1.5" fill="#111" stroke="none" stroke-width="1" />
<rect x="285.25" y="69.87" width="1.5" height="1.5" fill="#111" stroke="none" stroke-width="1" />
<rect x="283.25" y="72.72999999999999" width="1.5" height="1.5" fill="#111" stroke="none" stroke-width="1" />
<rect x="285.25" y="76.305" width="1.5" height="1.5" fill="#111" stroke="none" stroke-width="1" />
<rect x="291.75" y="91.463" width="1.5" height="1.5" fill="#111" stroke="none" stroke-width="1" />
<rect x="293.75" y="91.892" width="1.5" height="1.5" fill="#111" stroke="none" stroke-width="1" />
<rect x="295.75" y="91.034" width="1.5" height="1.5" fill="#111" stroke="none" stroke-width="1" />
<rect x="297.75" y="92.035" width="1.5" height="1.5" fill="#111" stroke="none" stroke-width="1" />
<rect x="299.75" y="91.606" width="1.5" height="1.5" fill="#111" stroke="none" stroke-width="1" />
<rect x="304.25" y="92.035" width="1.5" height="1.5" fill="#111" stroke="none" stroke-width="1" />
<rect x="306.25" y="91.606" width="1.5" height="1.5" fill="#111" stroke="none" stroke-width="1" />
<rect x="308.25" y="92.178" width="1.5" height="1.5" fill="#111" stroke="none" stroke-width="1" />
<rect x="310.25" y="91.749" width="1.5" height="1.5" fill="#111" stroke="none" stroke-width="1" />
<rect x="312.25" y="92.035" width="1.5" height="1.5" fill="#111" stroke="none" stroke-width="1" />
<rect x="314.25" y="92.321" width="1.5" height="1.5" fill="#111" stroke="none" stroke-width="1" />
<line x1="276.8" y1="35.699999999999996" x2="276.8" y2="94.0" stroke="#111" stroke-width="1.0" />
<line x1="276.3" y1="93.5" x2="317.2" y2="93.5" stroke="#111" stroke-width="1.0" />
<line x1="274.0" y1="93.5" x2="276.8" y2="93.5" stroke="#111" stroke-width="0.8" />
<text x="271.2" y="95.7" font-size="6.3" text-anchor="end" font-weight="normal" fill="#2a2a2a" >0</text>
<line x1="274.0" y1="79.2" x2="276.8" y2="79.2" stroke="#111" stroke-width="0.8" />
<text x="271.2" y="81.4" font-size="6.3" text-anchor="end" font-weight="normal" fill="#2a2a2a" >100</text>
<line x1="274.0" y1="64.9" x2="276.8" y2="64.9" stroke="#111" stroke-width="0.8" />
<text x="271.2" y="67.10000000000001" font-size="6.3" text-anchor="end" font-weight="normal" fill="#2a2a2a" >200</text>
<line x1="274.0" y1="50.599999999999994" x2="276.8" y2="50.599999999999994" stroke="#111" stroke-width="0.8" />
<text x="271.2" y="52.8" font-size="6.3" text-anchor="end" font-weight="normal" fill="#2a2a2a" >300</text>
<line x1="274.0" y1="36.3" x2="276.8" y2="36.3" stroke="#111" stroke-width="0.8" />
<text x="271.2" y="38.5" font-size="6.3" text-anchor="end" font-weight="normal" fill="#2a2a2a" >400</text>
<path d="M284.5,47 V43.1 H297 V86" fill="none" stroke="#5a5a5a" stroke-width="0.8"/>
<text x="290.75" y="43.5" font-size="6" font-weight="bold" text-anchor="middle" fill="#1a1a1a">****</text>
<path d="M284.5,35.5 V31.3 H310 V86" fill="none" stroke="#5a5a5a" stroke-width="0.8"/>
<text x="297.25" y="31.7" font-size="6" font-weight="bold" text-anchor="middle" fill="#1a1a1a">****</text>
<text transform="translate(255.3 65.5) rotate(-90) scale(0.9 1)" font-size="7.0" text-anchor="middle" fill="#2a2a2a" style="stroke-width:0.22">Total CD4<tspan font-size="4.20" dy="-2.52">+</tspan><tspan dy="2.52">CD8</tspan><tspan font-size="4.20" dy="-2.52">+</tspan></text>
<rect x="202.5" y="143.11533333333335" width="11.800000000000011" height="37.18466666666666" fill="#1a5596" stroke="none" stroke-width="1" />
<rect x="214.3" y="171.63" width="11.799999999999983" height="8.670000000000016" fill="#959ec6" stroke="none" stroke-width="1" />
<rect x="226.1" y="170.08866666666668" width="11.800000000000011" height="10.211333333333329" fill="#cbcee7" stroke="none" stroke-width="1" />
<line x1="208.4" y1="132.71133333333333" x2="208.4" y2="143.11533333333335" stroke="#111" stroke-width="0.8" />
<line x1="205.8" y1="132.71133333333333" x2="211.0" y2="132.71133333333333" stroke="#111" stroke-width="0.9" />
<line x1="220.2" y1="167.77666666666667" x2="220.2" y2="171.63" stroke="#111" stroke-width="0.8" />
<line x1="217.6" y1="167.77666666666667" x2="222.79999999999998" y2="167.77666666666667" stroke="#111" stroke-width="0.9" />
<line x1="232" y1="164.116" x2="232" y2="170.08866666666668" stroke="#111" stroke-width="0.8" />
<line x1="229.4" y1="164.116" x2="234.6" y2="164.116" stroke="#111" stroke-width="0.9" />
<rect x="207.65" y="127.91533333333334" width="1.5" height="1.5" fill="#111" stroke="none" stroke-width="1" />
<rect x="206.25" y="141.01666666666668" width="1.5" height="1.5" fill="#111" stroke="none" stroke-width="1" />
<rect x="208.75" y="148.72333333333333" width="1.5" height="1.5" fill="#111" stroke="none" stroke-width="1" />
<rect x="218.75" y="167.60466666666667" width="1.5" height="1.5" fill="#111" stroke="none" stroke-width="1" />
<rect x="215.25" y="173.38466666666667" width="1.5" height="1.5" fill="#111" stroke="none" stroke-width="1" />
<rect x="220.25" y="173.77" width="1.5" height="1.5" fill="#111" stroke="none" stroke-width="1" />
<rect x="218.25" y="177.238" width="1.5" height="1.5" fill="#111" stroke="none" stroke-width="1" />
<rect x="231.25" y="159.32" width="1.5" height="1.5" fill="#111" stroke="none" stroke-width="1" />
<rect x="227.75" y="171.84333333333333" width="1.5" height="1.5" fill="#111" stroke="none" stroke-width="1" />
<rect x="232.25" y="174.73333333333335" width="1.5" height="1.5" fill="#111" stroke="none" stroke-width="1" />
<rect x="229.25" y="178.394" width="1.5" height="1.5" fill="#111" stroke="none" stroke-width="1" />
<rect x="233.75" y="171.26533333333333" width="1.5" height="1.5" fill="#111" stroke="none" stroke-width="1" />
<line x1="200.6" y1="121.9" x2="200.6" y2="180.8" stroke="#111" stroke-width="1.0" />
<line x1="200.1" y1="180.3" x2="239.2" y2="180.3" stroke="#111" stroke-width="1.0" />
<line x1="197.79999999999998" y1="180.3" x2="200.6" y2="180.3" stroke="#111" stroke-width="0.8" />
<text x="195.0" y="182.5" font-size="6.3" text-anchor="end" font-weight="normal" fill="#2a2a2a" >0</text>
<line x1="197.79999999999998" y1="161.03333333333333" x2="200.6" y2="161.03333333333333" stroke="#111" stroke-width="0.8" />
<text x="195.0" y="163.23333333333332" font-size="6.3" text-anchor="end" font-weight="normal" fill="#2a2a2a" >10</text>
<line x1="197.79999999999998" y1="141.76666666666668" x2="200.6" y2="141.76666666666668" stroke="#111" stroke-width="0.8" />
<text x="195.0" y="143.96666666666667" font-size="6.3" text-anchor="end" font-weight="normal" fill="#2a2a2a" >20</text>
<line x1="197.79999999999998" y1="122.5" x2="200.6" y2="122.5" stroke="#111" stroke-width="0.8" />
<text x="195.0" y="124.7" font-size="6.3" text-anchor="end" font-weight="normal" fill="#2a2a2a" >30</text>
<path d="M208.4,125.5 V121.7 H220.3 V166" fill="none" stroke="#5a5a5a" stroke-width="0.8"/>
<text x="214.35000000000002" y="122.10000000000001" font-size="6" font-weight="bold" text-anchor="middle" fill="#1a1a1a">****</text>
<path d="M208.4,114 V110.1 H232 V158" fill="none" stroke="#5a5a5a" stroke-width="0.8"/>
<text x="220.2" y="110.5" font-size="6" font-weight="bold" text-anchor="middle" fill="#1a1a1a">****</text>
<text transform="translate(181.2 148.6) rotate(-90) scale(0.9 1)" font-size="7.0" text-anchor="middle" fill="#2a2a2a" style="stroke-width:0.22">% CD5<tspan font-size="4.20" dy="-2.52">+</tspan><tspan dy="2.52">CD7</tspan><tspan font-size="4.20" dy="-2.52">+</tspan></text>
<rect x="278.4" y="146.90800000000002" width="12.400000000000034" height="33.591999999999985" fill="#1a5596" stroke="none" stroke-width="1" />
<rect x="290.8" y="179.208" width="12.399999999999977" height="1.2920000000000016" fill="#959ec6" stroke="none" stroke-width="1" />
<rect x="303.2" y="179.7248" width="12.400000000000034" height="0.7752000000000123" fill="#cbcee7" stroke="none" stroke-width="1" />
<line x1="284.5" y1="135.0216" x2="284.5" y2="146.90800000000002" stroke="#111" stroke-width="0.8" />
<line x1="281.9" y1="135.0216" x2="287.1" y2="135.0216" stroke="#111" stroke-width="0.9" />
<rect x="281.75" y="130.91240000000002" width="1.5" height="1.5" fill="#111" stroke="none" stroke-width="1" />
<rect x="286.25" y="130.91240000000002" width="1.5" height="1.5" fill="#111" stroke="none" stroke-width="1" />
<rect x="283.25" y="148.74200000000002" width="1.5" height="1.5" fill="#111" stroke="none" stroke-width="1" />
<rect x="284.75" y="153.91" width="1.5" height="1.5" fill="#111" stroke="none" stroke-width="1" />
<rect x="282.25" y="156.494" width="1.5" height="1.5" fill="#111" stroke="none" stroke-width="1" />
<rect x="295.75" y="170.9644" width="1.5" height="1.5" fill="#111" stroke="none" stroke-width="1" />
<rect x="293.25" y="177.6828" width="1.5" height="1.5" fill="#111" stroke="none" stroke-width="1" />
<rect x="296.25" y="178.1996" width="1.5" height="1.5" fill="#111" stroke="none" stroke-width="1" />
<rect x="298.75" y="177.4244" width="1.5" height="1.5" fill="#111" stroke="none" stroke-width="1" />
<rect x="300.25" y="178.458" width="1.5" height="1.5" fill="#111" stroke="none" stroke-width="1" />
<rect x="305.25" y="177.6828" width="1.5" height="1.5" fill="#111" stroke="none" stroke-width="1" />
<rect x="308.25" y="177.4244" width="1.5" height="1.5" fill="#111" stroke="none" stroke-width="1" />
<rect x="310.25" y="178.7164" width="1.5" height="1.5" fill="#111" stroke="none" stroke-width="1" />
<line x1="277" y1="115.30000000000001" x2="277" y2="181.0" stroke="#111" stroke-width="1.0" />
<line x1="276.5" y1="180.5" x2="316.5" y2="180.5" stroke="#111" stroke-width="1.0" />
<line x1="274.2" y1="180.5" x2="277" y2="180.5" stroke="#111" stroke-width="0.8" />
<text x="271.4" y="182.7" font-size="6.3" text-anchor="end" font-weight="normal" fill="#2a2a2a" >0</text>
<line x1="274.2" y1="167.58" x2="277" y2="167.58" stroke="#111" stroke-width="0.8" />
<text x="271.4" y="169.78" font-size="6.3" text-anchor="end" font-weight="normal" fill="#2a2a2a" >5</text>
<line x1="274.2" y1="154.66" x2="277" y2="154.66" stroke="#111" stroke-width="0.8" />
<text x="271.4" y="156.85999999999999" font-size="6.3" text-anchor="end" font-weight="normal" fill="#2a2a2a" >10</text>
<line x1="274.2" y1="141.74" x2="277" y2="141.74" stroke="#111" stroke-width="0.8" />
<text x="271.4" y="143.94" font-size="6.3" text-anchor="end" font-weight="normal" fill="#2a2a2a" >15</text>
<line x1="274.2" y1="128.82" x2="277" y2="128.82" stroke="#111" stroke-width="0.8" />
<text x="271.4" y="131.01999999999998" font-size="6.3" text-anchor="end" font-weight="normal" fill="#2a2a2a" >20</text>
<line x1="274.2" y1="115.9" x2="277" y2="115.9" stroke="#111" stroke-width="0.8" />
<text x="271.4" y="118.10000000000001" font-size="6.3" text-anchor="end" font-weight="normal" fill="#2a2a2a" >25</text>
<path d="M284.5,123 V119.1 H297.3 V169" fill="none" stroke="#5a5a5a" stroke-width="0.8"/>
<text x="290.9" y="119.5" font-size="6" font-weight="bold" text-anchor="middle" fill="#1a1a1a">****</text>
<path d="M284.5,114.5 V110.3 H309.5 V174" fill="none" stroke="#5a5a5a" stroke-width="0.8"/>
<text x="297.0" y="110.7" font-size="6" font-weight="bold" text-anchor="middle" fill="#1a1a1a">****</text>
<text transform="translate(258.6 146.7) rotate(-90) scale(0.9 1)" font-size="7.0" text-anchor="middle" fill="#2a2a2a" style="stroke-width:0.22">% CD4<tspan font-size="4.20" dy="-2.52">+</tspan><tspan dy="2.52">CD8</tspan><tspan font-size="4.20" dy="-2.52">+</tspan></text>
<rect x="217.3" y="190.0" width="9.1" height="4.2" fill="#1a5596" stroke="none" stroke-width="1" />
<text x="229" y="194.3" font-size="6.3" text-anchor="start" font-weight="normal" fill="#2a2a2a" >WT</text>
<rect x="241.7" y="190.0" width="8.3" height="4.2" fill="#959ec6" stroke="none" stroke-width="1" />
<text x="253.3" y="194.3" font-size="6.3" text-anchor="start" fill="#2a2a2a">C2<tspan font-size="3.4" dy="-2.4" fill="#777" style="stroke:none">−/−</tspan></text>
<rect x="270.5" y="190.0" width="8.4" height="4.2" fill="#cbcee7" stroke="none" stroke-width="1" />
<text x="281.8" y="194.3" font-size="6.3" text-anchor="start" fill="#2a2a2a">C3<tspan font-size="3.4" dy="-2.4" fill="#777" style="stroke:none">−/−</tspan></text>
<text x="332.5" y="15.4" font-size="10" text-anchor="start" font-weight="bold" fill="#111" style="stroke:#111;stroke-width:0.45">C</text>
<text x="373.8" y="14" font-size="6.2" text-anchor="middle" font-weight="normal" fill="#2a2a2a" >WT</text>
<text x="432.5" y="14" font-size="6.2" text-anchor="middle" fill="#2a2a2a">C2<tspan font-size="3.4" dy="-2.4" fill="#777" style="stroke:none">−/−</tspan></text>
<text x="492.5" y="14" font-size="6.2" text-anchor="middle" fill="#2a2a2a">C3<tspan font-size="3.4" dy="-2.4" fill="#777" style="stroke:none">−/−</tspan></text>
<path d="M353.4,18.3 V61.2 H396.2 V18.3" fill="none" stroke="#b5b5b5" stroke-width="0.5"/>
<line x1="353.4" y1="18.3" x2="396.2" y2="18.3" stroke="#b5b5b5" stroke-width="0.5" />
<text x="352.0" y="22.6" font-size="4.0" text-anchor="end" fill="#444">10<tspan font-size="2.60" dy="-1.52">5</tspan></text>
<text x="352.0" y="30.6" font-size="4.0" text-anchor="end" fill="#444">10<tspan font-size="2.60" dy="-1.52">4</tspan></text>
<text x="352.0" y="41.3" font-size="4.0" text-anchor="end" fill="#444">10<tspan font-size="2.60" dy="-1.52">3</tspan></text>
<text x="352.0" y="52.099999999999994" font-size="4.0" text-anchor="end" fill="#444">10<tspan font-size="2.60" dy="-1.52">2</tspan></text>
<text x="351.4" y="57.300000000000004" font-size="4.0" text-anchor="end" fill="#444">0</text>
<path d="M354.7,22.6 H388.7 V33.9 L354.7,42.4 Z" fill="none" stroke="#555" stroke-width="0.6"/>
<text transform="translate(354.4 64.8) rotate(-45)" font-size="3.7" text-anchor="end" fill="#3a3a3a">0</text>
<text transform="translate(362.84999999999997 64.8) rotate(-45)" font-size="3.7" text-anchor="end" fill="#3a3a3a">50K</text>
<text transform="translate(371.29999999999995 64.8) rotate(-45)" font-size="3.7" text-anchor="end" fill="#3a3a3a">100K</text>
<text transform="translate(379.75 64.8) rotate(-45)" font-size="3.7" text-anchor="end" fill="#3a3a3a">150K</text>
<text transform="translate(388.2 64.8) rotate(-45)" font-size="3.7" text-anchor="end" fill="#3a3a3a">200K</text>
<text transform="translate(396.65 64.8) rotate(-45)" font-size="3.7" text-anchor="end" fill="#3a3a3a">250K</text>
<path d="M411.8,18.3 V61.2 H454.2 V18.3" fill="none" stroke="#b5b5b5" stroke-width="0.5"/>
<line x1="411.8" y1="18.3" x2="454.2" y2="18.3" stroke="#b5b5b5" stroke-width="0.5" />
<text x="410.40000000000003" y="22.6" font-size="4.0" text-anchor="end" fill="#444">10<tspan font-size="2.60" dy="-1.52">5</tspan></text>
<text x="410.40000000000003" y="30.6" font-size="4.0" text-anchor="end" fill="#444">10<tspan font-size="2.60" dy="-1.52">4</tspan></text>
<text x="410.40000000000003" y="41.3" font-size="4.0" text-anchor="end" fill="#444">10<tspan font-size="2.60" dy="-1.52">3</tspan></text>
<text x="410.40000000000003" y="52.099999999999994" font-size="4.0" text-anchor="end" fill="#444">10<tspan font-size="2.60" dy="-1.52">2</tspan></text>
<text x="409.8" y="57.300000000000004" font-size="4.0" text-anchor="end" fill="#444">0</text>
<path d="M413.3,23.2 H448.6 V34 L413.3,42.4 Z" fill="none" stroke="#555" stroke-width="0.6"/>
<text transform="translate(412.8 64.8) rotate(-45)" font-size="3.7" text-anchor="end" fill="#3a3a3a">0</text>
<text transform="translate(421.25 64.8) rotate(-45)" font-size="3.7" text-anchor="end" fill="#3a3a3a">50K</text>
<text transform="translate(429.7 64.8) rotate(-45)" font-size="3.7" text-anchor="end" fill="#3a3a3a">100K</text>
<text transform="translate(438.15000000000003 64.8) rotate(-45)" font-size="3.7" text-anchor="end" fill="#3a3a3a">150K</text>
<text transform="translate(446.6 64.8) rotate(-45)" font-size="3.7" text-anchor="end" fill="#3a3a3a">200K</text>
<text transform="translate(455.05 64.8) rotate(-45)" font-size="3.7" text-anchor="end" fill="#3a3a3a">250K</text>
<path d="M470.2,18.3 V61.2 H512.2 V18.3" fill="none" stroke="#b5b5b5" stroke-width="0.5"/>
<line x1="470.2" y1="18.3" x2="512.2" y2="18.3" stroke="#b5b5b5" stroke-width="0.5" />
<text x="468.8" y="22.6" font-size="4.0" text-anchor="end" fill="#444">10<tspan font-size="2.60" dy="-1.52">5</tspan></text>
<text x="468.8" y="30.6" font-size="4.0" text-anchor="end" fill="#444">10<tspan font-size="2.60" dy="-1.52">4</tspan></text>
<text x="468.8" y="41.3" font-size="4.0" text-anchor="end" fill="#444">10<tspan font-size="2.60" dy="-1.52">3</tspan></text>
<text x="468.8" y="52.099999999999994" font-size="4.0" text-anchor="end" fill="#444">10<tspan font-size="2.60" dy="-1.52">2</tspan></text>
<text x="468.2" y="57.300000000000004" font-size="4.0" text-anchor="end" fill="#444">0</text>
<path d="M471.7,22.6 H506.6 V34.9 L471.7,42.8 Z" fill="none" stroke="#555" stroke-width="0.6"/>
<text transform="translate(471.2 64.8) rotate(-45)" font-size="3.7" text-anchor="end" fill="#3a3a3a">0</text>
<text transform="translate(479.65 64.8) rotate(-45)" font-size="3.7" text-anchor="end" fill="#3a3a3a">50K</text>
<text transform="translate(488.09999999999997 64.8) rotate(-45)" font-size="3.7" text-anchor="end" fill="#3a3a3a">100K</text>
<text transform="translate(496.55 64.8) rotate(-45)" font-size="3.7" text-anchor="end" fill="#3a3a3a">150K</text>
<text transform="translate(505.0 64.8) rotate(-45)" font-size="3.7" text-anchor="end" fill="#3a3a3a">200K</text>
<text transform="translate(513.45 64.8) rotate(-45)" font-size="3.7" text-anchor="end" fill="#3a3a3a">250K</text>
<text x="431" y="32" font-size="4.3" text-anchor="start" font-weight="normal" fill="#2a2a2a" >11</text>
<text x="486.5" y="33.3" font-size="4.3" text-anchor="start" font-weight="normal" fill="#2a2a2a" >11.4</text>
<text transform="translate(339.3 40.2) rotate(-90) scale(0.66 1)" font-size="7.6" font-weight="bold" text-anchor="middle" fill="#333">CD56</text>
<text transform="translate(357.0 80.6) scale(0.645 1)" font-size="7.4" font-weight="bold" text-anchor="middle" fill="#222">SSC</text>
<line x1="364.3" y1="79.4" x2="509.79999999999995" y2="79.4" stroke="#555" stroke-width="1.3" />
<path d="M508.59999999999997,77.2 L513.8,79.4 L508.59999999999997,81.60000000000001 Z" fill="#1a1a1a"/>
<path d="M352.5,92.4 V134.6 H396.3 V92.4" fill="none" stroke="#b5b5b5" stroke-width="0.5"/>
<line x1="352.5" y1="92.4" x2="396.3" y2="92.4" stroke="#cccccc" stroke-width="0.5" />
<line x1="367.7" y1="92.4" x2="367.7" y2="134.6" stroke="#555" stroke-width="0.6" />
<line x1="352.5" y1="121.5" x2="396.3" y2="121.5" stroke="#555" stroke-width="0.6" />
<text x="350.9" y="95.4" font-size="4.0" text-anchor="end" fill="#444">10<tspan font-size="2.60" dy="-1.52">5</tspan></text>
<text x="350.9" y="106.10000000000001" font-size="4.0" text-anchor="end" fill="#444">10<tspan font-size="2.60" dy="-1.52">4</tspan></text>
<text x="350.9" y="116.30000000000001" font-size="4.0" text-anchor="end" fill="#444">10<tspan font-size="2.60" dy="-1.52">3</tspan></text>
<text x="350.9" y="126.5" font-size="4.0" text-anchor="end" fill="#444">10<tspan font-size="2.60" dy="-1.52">2</tspan></text>
<text x="350.3" y="132.50000000000003" font-size="4.0" text-anchor="end" fill="#444">0</text>
<text x="356.1" y="140.9" font-size="4.0" fill="#444">0 10<tspan font-size="2.6" dy="-1.5">2</tspan></text>
<text x="368.9" y="140.9" font-size="4.0" fill="#444">10<tspan font-size="2.6" dy="-1.5">3</tspan></text>
<text x="378.8" y="140.9" font-size="4.0" fill="#444">10<tspan font-size="2.6" dy="-1.5">4</tspan></text>
<text x="388.1" y="140.9" font-size="4.0" fill="#444">10<tspan font-size="2.6" dy="-1.5">5</tspan></text>
<text x="353.5" y="97.0" font-size="4.3" text-anchor="start" font-weight="normal" fill="#2a2a2a" >12.8</text>
<text x="395.3" y="97.0" font-size="4.3" text-anchor="end" font-weight="normal" fill="#2a2a2a" >38.8</text>
<text x="353.5" y="133.6" font-size="4.3" text-anchor="start" font-weight="normal" fill="#2a2a2a" >11.5</text>
<text x="395.3" y="133.6" font-size="4.3" text-anchor="end" font-weight="normal" fill="#2a2a2a" >25</text>
<path d="M411.4,92.4 V134.6 H455.5 V92.4" fill="none" stroke="#b5b5b5" stroke-width="0.5"/>
<line x1="411.4" y1="92.4" x2="455.5" y2="92.4" stroke="#cccccc" stroke-width="0.5" />
<line x1="426.5" y1="92.4" x2="426.5" y2="134.6" stroke="#555" stroke-width="0.6" />
<line x1="411.4" y1="121.5" x2="455.5" y2="121.5" stroke="#555" stroke-width="0.6" />
<text x="409.79999999999995" y="95.4" font-size="4.0" text-anchor="end" fill="#444">10<tspan font-size="2.60" dy="-1.52">5</tspan></text>
<text x="409.79999999999995" y="106.10000000000001" font-size="4.0" text-anchor="end" fill="#444">10<tspan font-size="2.60" dy="-1.52">4</tspan></text>
<text x="409.79999999999995" y="116.30000000000001" font-size="4.0" text-anchor="end" fill="#444">10<tspan font-size="2.60" dy="-1.52">3</tspan></text>
<text x="409.79999999999995" y="126.5" font-size="4.0" text-anchor="end" fill="#444">10<tspan font-size="2.60" dy="-1.52">2</tspan></text>
<text x="409.2" y="132.50000000000003" font-size="4.0" text-anchor="end" fill="#444">0</text>
<text x="415.0" y="140.9" font-size="4.0" fill="#444">0 10<tspan font-size="2.6" dy="-1.5">2</tspan></text>
<text x="427.79999999999995" y="140.9" font-size="4.0" fill="#444">10<tspan font-size="2.6" dy="-1.5">3</tspan></text>
<text x="437.7" y="140.9" font-size="4.0" fill="#444">10<tspan font-size="2.6" dy="-1.5">4</tspan></text>
<text x="447.0" y="140.9" font-size="4.0" fill="#444">10<tspan font-size="2.6" dy="-1.5">5</tspan></text>
<text x="412.4" y="97.0" font-size="4.3" text-anchor="start" font-weight="normal" fill="#2a2a2a" >14.6</text>
<text x="454.5" y="97.0" font-size="4.3" text-anchor="end" font-weight="normal" fill="#2a2a2a" >50.4</text>
<text x="412.4" y="133.6" font-size="4.3" text-anchor="start" font-weight="normal" fill="#2a2a2a" >17.3</text>
<text x="454.5" y="133.6" font-size="4.3" text-anchor="end" font-weight="normal" fill="#2a2a2a" >17.5</text>
<path d="M470.3,92.4 V134.6 H514.3 V92.4" fill="none" stroke="#b5b5b5" stroke-width="0.5"/>
<line x1="470.3" y1="92.4" x2="514.3" y2="92.4" stroke="#cccccc" stroke-width="0.5" />
<line x1="484.5" y1="92.4" x2="484.5" y2="134.6" stroke="#555" stroke-width="0.6" />
<line x1="470.3" y1="121.5" x2="514.3" y2="121.5" stroke="#555" stroke-width="0.6" />
<text x="468.7" y="95.4" font-size="4.0" text-anchor="end" fill="#444">10<tspan font-size="2.60" dy="-1.52">5</tspan></text>
<text x="468.7" y="106.10000000000001" font-size="4.0" text-anchor="end" fill="#444">10<tspan font-size="2.60" dy="-1.52">4</tspan></text>
<text x="468.7" y="116.30000000000001" font-size="4.0" text-anchor="end" fill="#444">10<tspan font-size="2.60" dy="-1.52">3</tspan></text>
<text x="468.7" y="126.5" font-size="4.0" text-anchor="end" fill="#444">10<tspan font-size="2.60" dy="-1.52">2</tspan></text>
<text x="468.1" y="132.50000000000003" font-size="4.0" text-anchor="end" fill="#444">0</text>
<text x="473.90000000000003" y="140.9" font-size="4.0" fill="#444">0 10<tspan font-size="2.6" dy="-1.5">2</tspan></text>
<text x="486.7" y="140.9" font-size="4.0" fill="#444">10<tspan font-size="2.6" dy="-1.5">3</tspan></text>
<text x="496.6" y="140.9" font-size="4.0" fill="#444">10<tspan font-size="2.6" dy="-1.5">4</tspan></text>
<text x="505.90000000000003" y="140.9" font-size="4.0" fill="#444">10<tspan font-size="2.6" dy="-1.5">5</tspan></text>
<text x="471.3" y="97.0" font-size="4.3" text-anchor="start" font-weight="normal" fill="#2a2a2a" >19.2</text>
<text x="513.3" y="97.0" font-size="4.3" text-anchor="end" font-weight="normal" fill="#2a2a2a" >49.7</text>
<text x="471.3" y="133.6" font-size="4.3" text-anchor="start" font-weight="normal" fill="#2a2a2a" >18.2</text>
<text x="513.3" y="133.6" font-size="4.3" text-anchor="end" font-weight="normal" fill="#2a2a2a" >13.6</text>
<text transform="translate(339.5 114.2) rotate(-90) scale(0.6 1)" font-size="8.2" font-weight="bold" text-anchor="middle" fill="#333">CD94</text>
<text transform="translate(358.3 151.8) scale(0.58 1)" font-size="8.6" font-weight="bold" text-anchor="middle" fill="#222">CD16</text>
<line x1="367.8" y1="149.0" x2="509.6" y2="149.0" stroke="#555" stroke-width="1.6" />
<path d="M508.40000000000003,146.8 L513.6,149.0 L508.40000000000003,151.2 Z" fill="#1a1a1a"/>
<text x="333" y="171.6" font-size="10" text-anchor="start" font-weight="bold" fill="#111" style="stroke:#111;stroke-width:0.45">D</text>
<rect x="359.8" y="194.87775" width="12.0" height="50.22225" fill="#1a5596" stroke="none" stroke-width="1" />
<rect x="371.8" y="239.1915" width="12.0" height="5.908500000000004" fill="#959ec6" stroke="none" stroke-width="1" />
<rect x="383.8" y="239.04" width="11.800000000000011" height="6.060000000000002" fill="#cbcee7" stroke="none" stroke-width="1" />
<line x1="365.8" y1="193.21125" x2="365.8" y2="194.87775" stroke="#111" stroke-width="0.8" />
<line x1="363.2" y1="193.21125" x2="368.40000000000003" y2="193.21125" stroke="#111" stroke-width="0.9" />
<rect x="361.25" y="192.9915" width="1.5" height="1.5" fill="#111" stroke="none" stroke-width="1" />
<rect x="363.25" y="192.61275" width="1.5" height="1.5" fill="#111" stroke="none" stroke-width="1" />
<rect x="366.75" y="192.08249999999998" width="1.5" height="1.5" fill="#111" stroke="none" stroke-width="1" />
<rect x="365.25" y="193.21875" width="1.5" height="1.5" fill="#111" stroke="none" stroke-width="1" />
<rect x="368.75" y="192.6885" width="1.5" height="1.5" fill="#111" stroke="none" stroke-width="1" />
<rect x="369.75" y="193.2945" width="1.5" height="1.5" fill="#111" stroke="none" stroke-width="1" />
<rect x="374.25" y="237.15375" width="1.5" height="1.5" fill="#111" stroke="none" stroke-width="1" />
<rect x="376.75" y="236.775" width="1.5" height="1.5" fill="#111" stroke="none" stroke-width="1" />
<rect x="378.25" y="237.381" width="1.5" height="1.5" fill="#111" stroke="none" stroke-width="1" />
<rect x="380.25" y="236.39625" width="1.5" height="1.5" fill="#111" stroke="none" stroke-width="1" />
<rect x="373.25" y="237.8355" width="1.5" height="1.5" fill="#111" stroke="none" stroke-width="1" />
<rect x="385.25" y="236.9265" width="1.5" height="1.5" fill="#111" stroke="none" stroke-width="1" />
<rect x="388.25" y="236.39625" width="1.5" height="1.5" fill="#111" stroke="none" stroke-width="1" />
<rect x="390.25" y="236.775" width="1.5" height="1.5" fill="#111" stroke="none" stroke-width="1" />
<rect x="392.75" y="237.15375" width="1.5" height="1.5" fill="#111" stroke="none" stroke-width="1" />
<line x1="358.1" y1="183.9" x2="358.1" y2="245.6" stroke="#111" stroke-width="1.0" />
<line x1="357.6" y1="245.1" x2="397.5" y2="245.1" stroke="#111" stroke-width="1.0" />
<line x1="355.3" y1="245.1" x2="358.1" y2="245.1" stroke="#111" stroke-width="0.8" />
<text x="352.5" y="247.29999999999998" font-size="6.3" text-anchor="end" font-weight="normal" fill="#2a2a2a" >0</text>
<line x1="355.3" y1="229.95" x2="358.1" y2="229.95" stroke="#111" stroke-width="0.8" />
<text x="352.5" y="232.14999999999998" font-size="6.3" text-anchor="end" font-weight="normal" fill="#2a2a2a" >20</text>
<line x1="355.3" y1="214.8" x2="358.1" y2="214.8" stroke="#111" stroke-width="0.8" />
<text x="352.5" y="217.0" font-size="6.3" text-anchor="end" font-weight="normal" fill="#2a2a2a" >40</text>
<line x1="355.3" y1="199.65" x2="358.1" y2="199.65" stroke="#111" stroke-width="0.8" />
<text x="352.5" y="201.85" font-size="6.3" text-anchor="end" font-weight="normal" fill="#2a2a2a" >60</text>
<line x1="355.3" y1="184.5" x2="358.1" y2="184.5" stroke="#111" stroke-width="0.8" />
<text x="352.5" y="186.7" font-size="6.3" text-anchor="end" font-weight="normal" fill="#2a2a2a" >80</text>
<path d="M365.7,190.5 V187.7 H378.4 V232.5" fill="none" stroke="#5a5a5a" stroke-width="0.8"/>
<text x="372.04999999999995" y="188.1" font-size="6" font-weight="bold" text-anchor="middle" fill="#1a1a1a">****</text>
<path d="M365.7,182 V178.3 H390.6 V232.5" fill="none" stroke="#5a5a5a" stroke-width="0.8"/>
<text x="378.15" y="178.70000000000002" font-size="6" font-weight="bold" text-anchor="middle" fill="#1a1a1a">****</text>
<text transform="translate(340.6 212.5) rotate(-90) scale(0.9 1)" font-size="7.0" text-anchor="middle" fill="#2a2a2a" style="stroke-width:0.22">% CD56<tspan font-size="4.20" dy="-2.52">+</tspan></text>
<rect x="444.2" y="196.18106666666668" width="11.600000000000023" height="48.918933333333314" fill="#1a5596" stroke="none" stroke-width="1" />
<rect x="455.8" y="244.212" width="12.099999999999966" height="0.8880000000000052" fill="#959ec6" stroke="none" stroke-width="1" />
<rect x="467.9" y="244.40933333333334" width="12.100000000000023" height="0.6906666666666581" fill="#cbcee7" stroke="none" stroke-width="1" />
<line x1="449.9" y1="193.79333333333335" x2="449.9" y2="196.18106666666668" stroke="#111" stroke-width="0.8" />
<line x1="447.29999999999995" y1="193.79333333333335" x2="452.5" y2="193.79333333333335" stroke="#111" stroke-width="0.9" />
<rect x="445.75" y="194.22733333333335" width="1.5" height="1.5" fill="#111" stroke="none" stroke-width="1" />
<rect x="447.25" y="192.05666666666667" width="1.5" height="1.5" fill="#111" stroke="none" stroke-width="1" />
<rect x="450.25" y="191.56333333333333" width="1.5" height="1.5" fill="#111" stroke="none" stroke-width="1" />
<rect x="449.25" y="194.03" width="1.5" height="1.5" fill="#111" stroke="none" stroke-width="1" />
<rect x="452.25" y="192.55" width="1.5" height="1.5" fill="#111" stroke="none" stroke-width="1" />
<rect x="453.75" y="194.52333333333334" width="1.5" height="1.5" fill="#111" stroke="none" stroke-width="1" />
<rect x="458.25" y="242.37666666666667" width="1.5" height="1.5" fill="#111" stroke="none" stroke-width="1" />
<rect x="460.25" y="242.87" width="1.5" height="1.5" fill="#111" stroke="none" stroke-width="1" />
<rect x="462.25" y="241.88333333333333" width="1.5" height="1.5" fill="#111" stroke="none" stroke-width="1" />
<rect x="464.25" y="243.166" width="1.5" height="1.5" fill="#111" stroke="none" stroke-width="1" />
<rect x="469.25" y="242.57399999999998" width="1.5" height="1.5" fill="#111" stroke="none" stroke-width="1" />
<rect x="472.25" y="243.36333333333332" width="1.5" height="1.5" fill="#111" stroke="none" stroke-width="1" />
<rect x="475.25" y="242.87" width="1.5" height="1.5" fill="#111" stroke="none" stroke-width="1" />
<rect x="477.25" y="243.06733333333332" width="1.5" height="1.5" fill="#111" stroke="none" stroke-width="1" />
<line x1="442.1" y1="185.3" x2="442.1" y2="245.6" stroke="#111" stroke-width="1.0" />
<line x1="441.6" y1="245.1" x2="481.5" y2="245.1" stroke="#111" stroke-width="1.0" />
<line x1="439.3" y1="245.1" x2="442.1" y2="245.1" stroke="#111" stroke-width="0.8" />
<text x="436.5" y="247.29999999999998" font-size="6.3" text-anchor="end" font-weight="normal" fill="#2a2a2a" >0</text>
<line x1="439.3" y1="225.36666666666667" x2="442.1" y2="225.36666666666667" stroke="#111" stroke-width="0.8" />
<text x="436.5" y="227.56666666666666" font-size="6.3" text-anchor="end" font-weight="normal" fill="#2a2a2a" >2000</text>
<line x1="439.3" y1="205.63333333333333" x2="442.1" y2="205.63333333333333" stroke="#111" stroke-width="0.8" />
<text x="436.5" y="207.83333333333331" font-size="6.3" text-anchor="end" font-weight="normal" fill="#2a2a2a" >4000</text>
<line x1="439.3" y1="185.9" x2="442.1" y2="185.9" stroke="#111" stroke-width="0.8" />
<text x="436.5" y="188.1" font-size="6.3" text-anchor="end" font-weight="normal" fill="#2a2a2a" >6000</text>
<path d="M449.8,192 V189.1 H462.2 V237.3" fill="none" stroke="#5a5a5a" stroke-width="0.8"/>
<text x="456.0" y="189.5" font-size="6" font-weight="bold" text-anchor="middle" fill="#1a1a1a">****</text>
<path d="M449.8,184.5 V180.6 H473.7 V237.3" fill="none" stroke="#5a5a5a" stroke-width="0.8"/>
<text x="461.75" y="181.0" font-size="6" font-weight="bold" text-anchor="middle" fill="#1a1a1a">****</text>
<text transform="translate(417.2 212.5) rotate(-90) scale(0.9 1)" font-size="7.0" text-anchor="middle" fill="#2a2a2a" style="stroke-width:0.22">Total CD56<tspan font-size="4.20" dy="-2.52">+</tspan></text>
<rect x="482.8" y="196.6" width="9.0" height="4.0" fill="#1a5596" stroke="none" stroke-width="1" />
<text x="494.6" y="201.3" font-size="6.5" text-anchor="start" font-weight="normal" fill="#2a2a2a" >WT</text>
<rect x="482.8" y="205.8" width="9.0" height="4.0" fill="#959ec6" stroke="none" stroke-width="1" />
<text x="494.6" y="210.4" font-size="6.5" text-anchor="start" fill="#2a2a2a">C2<tspan font-size="3.4" dy="-2.4" fill="#777" style="stroke:none">−/−</tspan></text>
<rect x="482.8" y="213.8" width="9.0" height="4.0" fill="#cbcee7" stroke="none" stroke-width="1" />
<text x="494.6" y="218.4" font-size="6.5" text-anchor="start" fill="#2a2a2a">C3<tspan font-size="3.4" dy="-2.4" fill="#777" style="stroke:none">−/−</tspan></text>
<line x1="0" y1="0.7" x2="520" y2="0.7" stroke="#2a2a2a" stroke-width="1.4" />
<line x1="0.6" y1="0" x2="0.6" y2="254" stroke="#2a2a2a" stroke-width="1.2" />
<line x1="519.5" y1="0" x2="519.5" y2="254" stroke="#2a2a2a" stroke-width="1" />
<line x1="0" y1="253.2" x2="520" y2="253.2" stroke="#2a2a2a" stroke-width="1.6" />
</g>
</svg>
</body></html>
